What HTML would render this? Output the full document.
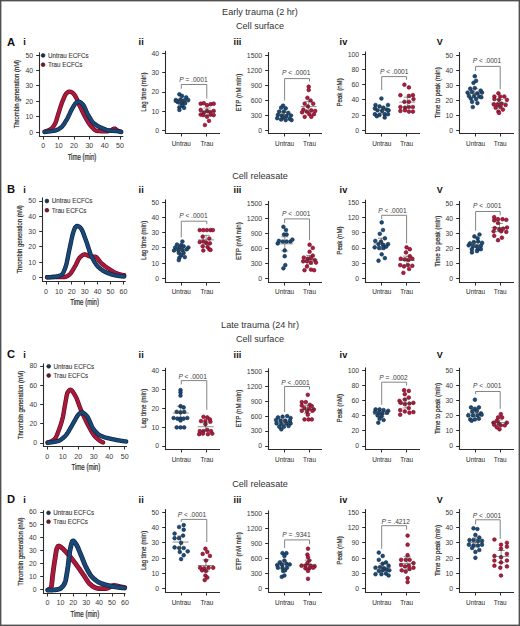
<!DOCTYPE html>
<html><head><meta charset="utf-8"><style>
html,body{margin:0;padding:0;background:#fff;}
body{width:520px;height:626px;overflow:hidden;}
svg{display:block;font-family:"Liberation Sans", sans-serif;}
</style></head><body>
<svg width="520" height="626" viewBox="0 0 520 626">
<rect x="0" y="0" width="520" height="626" fill="#fff"/>
<text transform="translate(260.00,15.10)" font-size="9.1" text-anchor="middle" font-weight="normal" fill="#333">Early trauma (2 hr)</text>
<text transform="translate(260.00,28.50)" font-size="9.1" text-anchor="middle" font-weight="normal" fill="#333">Cell surface</text>
<text transform="translate(260.00,179.20)" font-size="9.1" text-anchor="middle" font-weight="normal" fill="#333">Cell releasate</text>
<text transform="translate(260.00,328.30)" font-size="9.1" text-anchor="middle" font-weight="normal" fill="#333">Late trauma (24 hr)</text>
<text transform="translate(260.00,341.70)" font-size="9.1" text-anchor="middle" font-weight="normal" fill="#333">Cell surface</text>
<text transform="translate(260.00,487.00)" font-size="9.1" text-anchor="middle" font-weight="normal" fill="#333">Cell releasate</text>
<text transform="translate(7.00,45.60)" font-size="11.2" text-anchor="start" font-weight="bold" fill="#111">A</text>
<text transform="translate(23.20,44.60)" font-size="9.2" text-anchor="start" font-weight="bold" fill="#111">i</text>
<text transform="translate(138.60,44.60)" font-size="9.2" text-anchor="start" font-weight="bold" fill="#111">ii</text>
<text transform="translate(233.60,44.60)" font-size="9.2" text-anchor="start" font-weight="bold" fill="#111">iii</text>
<text transform="translate(339.60,44.60)" font-size="9.2" text-anchor="start" font-weight="bold" fill="#111">iv</text>
<text transform="translate(436.80,44.60)" font-size="9.0" text-anchor="start" font-weight="bold" fill="#111">V</text>
<text transform="translate(7.00,192.60)" font-size="11.2" text-anchor="start" font-weight="bold" fill="#111">B</text>
<text transform="translate(23.20,193.00)" font-size="9.2" text-anchor="start" font-weight="bold" fill="#111">i</text>
<text transform="translate(138.60,193.00)" font-size="9.2" text-anchor="start" font-weight="bold" fill="#111">ii</text>
<text transform="translate(233.60,193.00)" font-size="9.2" text-anchor="start" font-weight="bold" fill="#111">iii</text>
<text transform="translate(339.60,193.00)" font-size="9.2" text-anchor="start" font-weight="bold" fill="#111">iv</text>
<text transform="translate(436.80,193.00)" font-size="9.0" text-anchor="start" font-weight="bold" fill="#111">V</text>
<text transform="translate(7.00,358.20)" font-size="11.2" text-anchor="start" font-weight="bold" fill="#111">C</text>
<text transform="translate(23.20,357.80)" font-size="9.2" text-anchor="start" font-weight="bold" fill="#111">i</text>
<text transform="translate(138.60,357.80)" font-size="9.2" text-anchor="start" font-weight="bold" fill="#111">ii</text>
<text transform="translate(233.60,357.80)" font-size="9.2" text-anchor="start" font-weight="bold" fill="#111">iii</text>
<text transform="translate(339.60,357.80)" font-size="9.2" text-anchor="start" font-weight="bold" fill="#111">iv</text>
<text transform="translate(436.80,357.80)" font-size="9.0" text-anchor="start" font-weight="bold" fill="#111">V</text>
<text transform="translate(7.00,503.20)" font-size="11.2" text-anchor="start" font-weight="bold" fill="#111">D</text>
<text transform="translate(23.20,502.80)" font-size="9.2" text-anchor="start" font-weight="bold" fill="#111">i</text>
<text transform="translate(138.60,502.80)" font-size="9.2" text-anchor="start" font-weight="bold" fill="#111">ii</text>
<text transform="translate(233.60,502.80)" font-size="9.2" text-anchor="start" font-weight="bold" fill="#111">iii</text>
<text transform="translate(339.60,502.80)" font-size="9.2" text-anchor="start" font-weight="bold" fill="#111">iv</text>
<text transform="translate(436.80,502.80)" font-size="9.0" text-anchor="start" font-weight="bold" fill="#111">V</text>
<circle cx="43.10" cy="55.40" r="1.9" fill="#1c3550" stroke="#0c1a2a" stroke-width="0.6"/>
<text transform="translate(47.90,57.80) scale(0.86,1)" font-size="7.3" text-anchor="start" font-weight="normal" fill="#3a3a3a" stroke="#3a3a3a" stroke-width="0.12">Untrau ECFCs</text>
<circle cx="43.10" cy="64.70" r="1.9" fill="#6e1a2e" stroke="#3e0a16" stroke-width="0.6"/>
<text transform="translate(47.90,67.10) scale(0.86,1)" font-size="7.3" text-anchor="start" font-weight="normal" fill="#3a3a3a" stroke="#3a3a3a" stroke-width="0.12">Trau ECFCs</text>
<path d="M44.60,131.60 L44.92,131.53 L45.24,131.45 L45.56,131.37 L45.88,131.28 L46.19,131.17 L46.51,131.07 L46.83,130.95 L47.15,130.84 L47.47,130.71 L47.79,130.59 L48.11,130.46 L48.43,130.32 L48.74,130.18 L49.06,130.02 L49.38,129.86 L49.70,129.69 L50.02,129.50 L50.34,129.31 L50.66,129.10 L50.98,128.87 L51.30,128.62 L51.61,128.36 L51.93,128.06 L52.25,127.74 L52.57,127.38 L52.89,127.01 L53.21,126.60 L53.53,126.17 L53.85,125.70 L54.16,125.21 L54.48,124.70 L54.80,124.15 L55.12,123.57 L55.44,122.89 L55.76,122.09 L56.08,121.20 L56.40,120.24 L56.72,119.22 L57.03,118.16 L57.35,117.07 L57.67,115.98 L57.99,114.89 L58.31,113.84 L58.63,112.82 L58.95,111.86 L59.27,110.88 L59.58,109.89 L59.90,108.89 L60.22,107.89 L60.54,106.89 L60.86,105.91 L61.18,104.94 L61.50,104.00 L61.82,103.09 L62.14,102.22 L62.45,101.40 L62.77,100.63 L63.09,99.86 L63.41,99.10 L63.73,98.33 L64.05,97.58 L64.37,96.86 L64.69,96.16 L65.01,95.51 L65.32,94.91 L65.64,94.37 L65.96,93.90 L66.28,93.52 L66.60,93.21 L66.92,92.93 L67.24,92.66 L67.56,92.41 L67.87,92.18 L68.19,91.98 L68.51,91.81 L68.83,91.69 L69.15,91.62 L69.47,91.60 L69.79,91.62 L70.11,91.68 L70.43,91.76 L70.74,91.87 L71.06,91.99 L71.38,92.13 L71.70,92.29 L72.02,92.45 L72.34,92.62 L72.66,92.83 L72.98,93.10 L73.29,93.42 L73.61,93.79 L73.93,94.19 L74.25,94.62 L74.57,95.07 L74.89,95.54 L75.21,96.01 L75.53,96.52 L75.85,97.08 L76.16,97.69 L76.48,98.35 L76.80,99.04 L77.12,99.76 L77.44,100.51 L77.76,101.27 L78.08,102.04 L78.40,102.81 L78.71,103.58 L79.03,104.34 L79.35,105.08 L79.67,105.79 L79.99,106.48 L80.31,107.15 L80.63,107.82 L80.95,108.49 L81.27,109.16 L81.58,109.83 L81.90,110.50 L82.22,111.17 L82.54,111.83 L82.86,112.49 L83.18,113.14 L83.50,113.78 L83.82,114.41 L84.13,115.04 L84.45,115.65 L84.77,116.25 L85.09,116.84 L85.41,117.42 L85.73,117.98 L86.05,118.53 L86.37,119.08 L86.69,119.63 L87.00,120.18 L87.32,120.72 L87.64,121.26 L87.96,121.80 L88.28,122.32 L88.60,122.83 L88.92,123.33 L89.24,123.82 L89.55,124.29 L89.87,124.74 L90.19,125.17 L90.51,125.59 L90.83,125.97 L91.15,126.33 L91.47,126.67 L91.79,126.99 L92.11,127.31 L92.42,127.63 L92.74,127.96 L93.06,128.28 L93.38,128.59 L93.70,128.90 L94.02,129.19 L94.34,129.47 L94.66,129.74 L94.97,129.98 L95.29,130.21 L95.61,130.41 L95.93,130.59 L96.25,130.74 L96.57,130.86 L96.89,130.94 L97.21,130.99 L97.53,131.01 L97.84,131.03 L98.16,131.05 L98.48,131.07 L98.80,131.09 L99.12,131.11 L99.44,131.12 L99.76,131.14 L100.08,131.15 L100.39,131.17 L100.71,131.18 L101.03,131.19 L101.35,131.20 L101.67,131.21 L101.99,131.22 L102.31,131.23 L102.63,131.24 L102.95,131.25 L103.26,131.26 L103.58,131.27 L103.90,131.27 L104.22,131.28 L104.54,131.28 L104.86,131.29 L105.18,131.29 L105.50,131.29 L105.82,131.30 L106.13,131.30 L106.45,131.30 L106.77,131.30 L107.09,131.30 L107.41,131.27 L107.73,131.23 L108.05,131.17 L108.37,131.09 L108.68,131.00 L109.00,130.91 L109.32,130.80 L109.64,130.69 L109.96,130.57 L110.28,130.45 L110.60,130.34 L110.92,130.23 L111.24,130.11 L111.55,129.96 L111.87,129.79 L112.19,129.61 L112.51,129.42 L112.83,129.23 L113.15,129.05 L113.47,128.89 L113.79,128.76 L114.10,128.66 L114.42,128.61 L114.74,128.61 L115.06,128.70 L115.38,128.87 L115.70,129.10 L116.02,129.36 L116.34,129.64 L116.66,129.92 L116.97,130.18 L117.29,130.39 L117.61,130.55 L117.93,130.69 L118.25,130.82 L118.57,130.95 L118.89,131.07 L119.21,131.19 L119.52,131.29 L119.84,131.39 L120.16,131.47 L120.48,131.54 L120.80,131.60" fill="none" stroke="#6a0e24" stroke-width="4.4" stroke-linecap="round" stroke-linejoin="round"/>
<path d="M44.60,131.60 L44.92,131.53 L45.24,131.45 L45.56,131.37 L45.88,131.28 L46.19,131.17 L46.51,131.07 L46.83,130.95 L47.15,130.84 L47.47,130.71 L47.79,130.59 L48.11,130.46 L48.43,130.32 L48.74,130.18 L49.06,130.02 L49.38,129.86 L49.70,129.69 L50.02,129.50 L50.34,129.31 L50.66,129.10 L50.98,128.87 L51.30,128.62 L51.61,128.36 L51.93,128.06 L52.25,127.74 L52.57,127.38 L52.89,127.01 L53.21,126.60 L53.53,126.17 L53.85,125.70 L54.16,125.21 L54.48,124.70 L54.80,124.15 L55.12,123.57 L55.44,122.89 L55.76,122.09 L56.08,121.20 L56.40,120.24 L56.72,119.22 L57.03,118.16 L57.35,117.07 L57.67,115.98 L57.99,114.89 L58.31,113.84 L58.63,112.82 L58.95,111.86 L59.27,110.88 L59.58,109.89 L59.90,108.89 L60.22,107.89 L60.54,106.89 L60.86,105.91 L61.18,104.94 L61.50,104.00 L61.82,103.09 L62.14,102.22 L62.45,101.40 L62.77,100.63 L63.09,99.86 L63.41,99.10 L63.73,98.33 L64.05,97.58 L64.37,96.86 L64.69,96.16 L65.01,95.51 L65.32,94.91 L65.64,94.37 L65.96,93.90 L66.28,93.52 L66.60,93.21 L66.92,92.93 L67.24,92.66 L67.56,92.41 L67.87,92.18 L68.19,91.98 L68.51,91.81 L68.83,91.69 L69.15,91.62 L69.47,91.60 L69.79,91.62 L70.11,91.68 L70.43,91.76 L70.74,91.87 L71.06,91.99 L71.38,92.13 L71.70,92.29 L72.02,92.45 L72.34,92.62 L72.66,92.83 L72.98,93.10 L73.29,93.42 L73.61,93.79 L73.93,94.19 L74.25,94.62 L74.57,95.07 L74.89,95.54 L75.21,96.01 L75.53,96.52 L75.85,97.08 L76.16,97.69 L76.48,98.35 L76.80,99.04 L77.12,99.76 L77.44,100.51 L77.76,101.27 L78.08,102.04 L78.40,102.81 L78.71,103.58 L79.03,104.34 L79.35,105.08 L79.67,105.79 L79.99,106.48 L80.31,107.15 L80.63,107.82 L80.95,108.49 L81.27,109.16 L81.58,109.83 L81.90,110.50 L82.22,111.17 L82.54,111.83 L82.86,112.49 L83.18,113.14 L83.50,113.78 L83.82,114.41 L84.13,115.04 L84.45,115.65 L84.77,116.25 L85.09,116.84 L85.41,117.42 L85.73,117.98 L86.05,118.53 L86.37,119.08 L86.69,119.63 L87.00,120.18 L87.32,120.72 L87.64,121.26 L87.96,121.80 L88.28,122.32 L88.60,122.83 L88.92,123.33 L89.24,123.82 L89.55,124.29 L89.87,124.74 L90.19,125.17 L90.51,125.59 L90.83,125.97 L91.15,126.33 L91.47,126.67 L91.79,126.99 L92.11,127.31 L92.42,127.63 L92.74,127.96 L93.06,128.28 L93.38,128.59 L93.70,128.90 L94.02,129.19 L94.34,129.47 L94.66,129.74 L94.97,129.98 L95.29,130.21 L95.61,130.41 L95.93,130.59 L96.25,130.74 L96.57,130.86 L96.89,130.94 L97.21,130.99 L97.53,131.01 L97.84,131.03 L98.16,131.05 L98.48,131.07 L98.80,131.09 L99.12,131.11 L99.44,131.12 L99.76,131.14 L100.08,131.15 L100.39,131.17 L100.71,131.18 L101.03,131.19 L101.35,131.20 L101.67,131.21 L101.99,131.22 L102.31,131.23 L102.63,131.24 L102.95,131.25 L103.26,131.26 L103.58,131.27 L103.90,131.27 L104.22,131.28 L104.54,131.28 L104.86,131.29 L105.18,131.29 L105.50,131.29 L105.82,131.30 L106.13,131.30 L106.45,131.30 L106.77,131.30 L107.09,131.30 L107.41,131.27 L107.73,131.23 L108.05,131.17 L108.37,131.09 L108.68,131.00 L109.00,130.91 L109.32,130.80 L109.64,130.69 L109.96,130.57 L110.28,130.45 L110.60,130.34 L110.92,130.23 L111.24,130.11 L111.55,129.96 L111.87,129.79 L112.19,129.61 L112.51,129.42 L112.83,129.23 L113.15,129.05 L113.47,128.89 L113.79,128.76 L114.10,128.66 L114.42,128.61 L114.74,128.61 L115.06,128.70 L115.38,128.87 L115.70,129.10 L116.02,129.36 L116.34,129.64 L116.66,129.92 L116.97,130.18 L117.29,130.39 L117.61,130.55 L117.93,130.69 L118.25,130.82 L118.57,130.95 L118.89,131.07 L119.21,131.19 L119.52,131.29 L119.84,131.39 L120.16,131.47 L120.48,131.54 L120.80,131.60" fill="none" stroke="#b01b3e" stroke-width="3.0000000000000004" stroke-linecap="round" stroke-linejoin="round" opacity="0.9"/>
<path d="M44.60,132.00 L44.92,131.96 L45.24,131.92 L45.56,131.88 L45.88,131.84 L46.20,131.80 L46.53,131.76 L46.85,131.72 L47.17,131.67 L47.49,131.63 L47.81,131.59 L48.13,131.55 L48.45,131.51 L48.77,131.46 L49.09,131.42 L49.41,131.38 L49.73,131.34 L50.06,131.29 L50.38,131.25 L50.70,131.21 L51.02,131.17 L51.34,131.14 L51.66,131.10 L51.98,131.06 L52.30,131.02 L52.62,130.99 L52.94,130.94 L53.26,130.90 L53.59,130.85 L53.91,130.80 L54.23,130.75 L54.55,130.69 L54.87,130.63 L55.19,130.56 L55.51,130.47 L55.83,130.38 L56.15,130.28 L56.47,130.16 L56.79,130.03 L57.12,129.90 L57.44,129.75 L57.76,129.60 L58.08,129.43 L58.40,129.26 L58.72,129.07 L59.04,128.88 L59.36,128.68 L59.68,128.48 L60.00,128.26 L60.33,128.04 L60.65,127.81 L60.97,127.57 L61.29,127.30 L61.61,127.00 L61.93,126.67 L62.25,126.31 L62.57,125.93 L62.89,125.52 L63.21,125.09 L63.53,124.64 L63.86,124.17 L64.18,123.70 L64.50,123.20 L64.82,122.70 L65.14,122.19 L65.46,121.68 L65.78,121.16 L66.10,120.64 L66.42,120.12 L66.74,119.60 L67.06,119.04 L67.39,118.45 L67.71,117.83 L68.03,117.19 L68.35,116.54 L68.67,115.87 L68.99,115.18 L69.31,114.50 L69.63,113.81 L69.95,113.12 L70.27,112.43 L70.59,111.76 L70.92,111.10 L71.24,110.46 L71.56,109.83 L71.88,109.24 L72.20,108.67 L72.52,108.13 L72.84,107.57 L73.16,107.00 L73.48,106.44 L73.80,105.89 L74.12,105.35 L74.45,104.84 L74.77,104.36 L75.09,103.93 L75.41,103.55 L75.73,103.22 L76.05,102.96 L76.37,102.73 L76.69,102.50 L77.01,102.29 L77.33,102.09 L77.65,101.93 L77.98,101.81 L78.30,101.73 L78.62,101.70 L78.94,101.73 L79.26,101.80 L79.58,101.91 L79.90,102.06 L80.22,102.25 L80.54,102.46 L80.86,102.70 L81.18,102.96 L81.51,103.25 L81.83,103.54 L82.15,103.85 L82.47,104.17 L82.79,104.49 L83.11,104.83 L83.43,105.26 L83.75,105.76 L84.07,106.34 L84.39,106.97 L84.72,107.65 L85.04,108.36 L85.36,109.10 L85.68,109.85 L86.00,110.61 L86.32,111.35 L86.64,112.08 L86.96,112.77 L87.28,113.43 L87.60,114.03 L87.92,114.59 L88.25,115.15 L88.57,115.70 L88.89,116.26 L89.21,116.82 L89.53,117.37 L89.85,117.92 L90.17,118.45 L90.49,118.97 L90.81,119.48 L91.13,119.98 L91.45,120.45 L91.78,120.91 L92.10,121.34 L92.42,121.74 L92.74,122.12 L93.06,122.47 L93.38,122.79 L93.70,123.08 L94.02,123.36 L94.34,123.62 L94.66,123.88 L94.98,124.14 L95.31,124.38 L95.63,124.61 L95.95,124.84 L96.27,125.06 L96.59,125.27 L96.91,125.48 L97.23,125.68 L97.55,125.87 L97.87,126.06 L98.19,126.24 L98.51,126.41 L98.84,126.58 L99.16,126.75 L99.48,126.91 L99.80,127.06 L100.12,127.22 L100.44,127.36 L100.76,127.51 L101.08,127.65 L101.40,127.79 L101.72,127.93 L102.04,128.07 L102.37,128.21 L102.69,128.34 L103.01,128.48 L103.33,128.62 L103.65,128.76 L103.97,128.89 L104.29,129.03 L104.61,129.16 L104.93,129.29 L105.25,129.41 L105.57,129.53 L105.90,129.65 L106.22,129.77 L106.54,129.88 L106.86,129.98 L107.18,130.09 L107.50,130.18 L107.82,130.27 L108.14,130.36 L108.46,130.44 L108.78,130.51 L109.11,130.58 L109.43,130.64 L109.75,130.69 L110.07,130.73 L110.39,130.77 L110.71,130.79 L111.03,130.81 L111.35,130.83 L111.67,130.85 L111.99,130.86 L112.31,130.87 L112.64,130.88 L112.96,130.89 L113.28,130.90 L113.60,130.91 L113.92,130.91 L114.24,130.92 L114.56,130.93 L114.88,130.94 L115.20,130.96 L115.52,130.97 L115.84,130.99 L116.17,131.01 L116.49,131.04 L116.81,131.07 L117.13,131.11 L117.45,131.16 L117.77,131.21 L118.09,131.26 L118.41,131.32 L118.73,131.38 L119.05,131.45 L119.37,131.52 L119.70,131.60 L120.02,131.67 L120.34,131.75 L120.66,131.83 L120.98,131.92 L121.30,132.00" fill="none" stroke="#0b2642" stroke-width="4.4" stroke-linecap="round" stroke-linejoin="round"/>
<path d="M44.60,132.00 L44.92,131.96 L45.24,131.92 L45.56,131.88 L45.88,131.84 L46.20,131.80 L46.53,131.76 L46.85,131.72 L47.17,131.67 L47.49,131.63 L47.81,131.59 L48.13,131.55 L48.45,131.51 L48.77,131.46 L49.09,131.42 L49.41,131.38 L49.73,131.34 L50.06,131.29 L50.38,131.25 L50.70,131.21 L51.02,131.17 L51.34,131.14 L51.66,131.10 L51.98,131.06 L52.30,131.02 L52.62,130.99 L52.94,130.94 L53.26,130.90 L53.59,130.85 L53.91,130.80 L54.23,130.75 L54.55,130.69 L54.87,130.63 L55.19,130.56 L55.51,130.47 L55.83,130.38 L56.15,130.28 L56.47,130.16 L56.79,130.03 L57.12,129.90 L57.44,129.75 L57.76,129.60 L58.08,129.43 L58.40,129.26 L58.72,129.07 L59.04,128.88 L59.36,128.68 L59.68,128.48 L60.00,128.26 L60.33,128.04 L60.65,127.81 L60.97,127.57 L61.29,127.30 L61.61,127.00 L61.93,126.67 L62.25,126.31 L62.57,125.93 L62.89,125.52 L63.21,125.09 L63.53,124.64 L63.86,124.17 L64.18,123.70 L64.50,123.20 L64.82,122.70 L65.14,122.19 L65.46,121.68 L65.78,121.16 L66.10,120.64 L66.42,120.12 L66.74,119.60 L67.06,119.04 L67.39,118.45 L67.71,117.83 L68.03,117.19 L68.35,116.54 L68.67,115.87 L68.99,115.18 L69.31,114.50 L69.63,113.81 L69.95,113.12 L70.27,112.43 L70.59,111.76 L70.92,111.10 L71.24,110.46 L71.56,109.83 L71.88,109.24 L72.20,108.67 L72.52,108.13 L72.84,107.57 L73.16,107.00 L73.48,106.44 L73.80,105.89 L74.12,105.35 L74.45,104.84 L74.77,104.36 L75.09,103.93 L75.41,103.55 L75.73,103.22 L76.05,102.96 L76.37,102.73 L76.69,102.50 L77.01,102.29 L77.33,102.09 L77.65,101.93 L77.98,101.81 L78.30,101.73 L78.62,101.70 L78.94,101.73 L79.26,101.80 L79.58,101.91 L79.90,102.06 L80.22,102.25 L80.54,102.46 L80.86,102.70 L81.18,102.96 L81.51,103.25 L81.83,103.54 L82.15,103.85 L82.47,104.17 L82.79,104.49 L83.11,104.83 L83.43,105.26 L83.75,105.76 L84.07,106.34 L84.39,106.97 L84.72,107.65 L85.04,108.36 L85.36,109.10 L85.68,109.85 L86.00,110.61 L86.32,111.35 L86.64,112.08 L86.96,112.77 L87.28,113.43 L87.60,114.03 L87.92,114.59 L88.25,115.15 L88.57,115.70 L88.89,116.26 L89.21,116.82 L89.53,117.37 L89.85,117.92 L90.17,118.45 L90.49,118.97 L90.81,119.48 L91.13,119.98 L91.45,120.45 L91.78,120.91 L92.10,121.34 L92.42,121.74 L92.74,122.12 L93.06,122.47 L93.38,122.79 L93.70,123.08 L94.02,123.36 L94.34,123.62 L94.66,123.88 L94.98,124.14 L95.31,124.38 L95.63,124.61 L95.95,124.84 L96.27,125.06 L96.59,125.27 L96.91,125.48 L97.23,125.68 L97.55,125.87 L97.87,126.06 L98.19,126.24 L98.51,126.41 L98.84,126.58 L99.16,126.75 L99.48,126.91 L99.80,127.06 L100.12,127.22 L100.44,127.36 L100.76,127.51 L101.08,127.65 L101.40,127.79 L101.72,127.93 L102.04,128.07 L102.37,128.21 L102.69,128.34 L103.01,128.48 L103.33,128.62 L103.65,128.76 L103.97,128.89 L104.29,129.03 L104.61,129.16 L104.93,129.29 L105.25,129.41 L105.57,129.53 L105.90,129.65 L106.22,129.77 L106.54,129.88 L106.86,129.98 L107.18,130.09 L107.50,130.18 L107.82,130.27 L108.14,130.36 L108.46,130.44 L108.78,130.51 L109.11,130.58 L109.43,130.64 L109.75,130.69 L110.07,130.73 L110.39,130.77 L110.71,130.79 L111.03,130.81 L111.35,130.83 L111.67,130.85 L111.99,130.86 L112.31,130.87 L112.64,130.88 L112.96,130.89 L113.28,130.90 L113.60,130.91 L113.92,130.91 L114.24,130.92 L114.56,130.93 L114.88,130.94 L115.20,130.96 L115.52,130.97 L115.84,130.99 L116.17,131.01 L116.49,131.04 L116.81,131.07 L117.13,131.11 L117.45,131.16 L117.77,131.21 L118.09,131.26 L118.41,131.32 L118.73,131.38 L119.05,131.45 L119.37,131.52 L119.70,131.60 L120.02,131.67 L120.34,131.75 L120.66,131.83 L120.98,131.92 L121.30,132.00" fill="none" stroke="#1b4d7c" stroke-width="3.0000000000000004" stroke-linecap="round" stroke-linejoin="round" opacity="0.9"/>
<line x1="39.50" y1="52.30" x2="39.50" y2="137.00" stroke="#2b2b2b" stroke-width="1.1"/>
<line x1="39.00" y1="136.50" x2="123.30" y2="136.50" stroke="#2b2b2b" stroke-width="1.1"/>
<line x1="36.20" y1="132.50" x2="39.50" y2="132.50" stroke="#2b2b2b" stroke-width="1"/>
<text transform="translate(33.20,134.70)" font-size="6.9" text-anchor="end" font-weight="normal" fill="#3a3a3a">0</text>
<line x1="36.20" y1="116.50" x2="39.50" y2="116.50" stroke="#2b2b2b" stroke-width="1"/>
<text transform="translate(33.20,119.26)" font-size="6.9" text-anchor="end" font-weight="normal" fill="#3a3a3a">10</text>
<line x1="36.20" y1="101.50" x2="39.50" y2="101.50" stroke="#2b2b2b" stroke-width="1"/>
<text transform="translate(33.20,103.82)" font-size="6.9" text-anchor="end" font-weight="normal" fill="#3a3a3a">20</text>
<line x1="36.20" y1="85.50" x2="39.50" y2="85.50" stroke="#2b2b2b" stroke-width="1"/>
<text transform="translate(33.20,88.38)" font-size="6.9" text-anchor="end" font-weight="normal" fill="#3a3a3a">30</text>
<line x1="36.20" y1="70.50" x2="39.50" y2="70.50" stroke="#2b2b2b" stroke-width="1"/>
<text transform="translate(33.20,72.94)" font-size="6.9" text-anchor="end" font-weight="normal" fill="#3a3a3a">40</text>
<line x1="36.20" y1="55.50" x2="39.50" y2="55.50" stroke="#2b2b2b" stroke-width="1"/>
<text transform="translate(33.20,57.50)" font-size="6.9" text-anchor="end" font-weight="normal" fill="#3a3a3a">50</text>
<line x1="43.50" y1="136.50" x2="43.50" y2="139.50" stroke="#2b2b2b" stroke-width="1"/>
<text transform="translate(43.30,148.40)" font-size="7.1" text-anchor="middle" font-weight="normal" fill="#3a3a3a">0</text>
<line x1="58.50" y1="136.50" x2="58.50" y2="139.50" stroke="#2b2b2b" stroke-width="1"/>
<text transform="translate(58.65,148.40)" font-size="7.1" text-anchor="middle" font-weight="normal" fill="#3a3a3a">10</text>
<line x1="74.50" y1="136.50" x2="74.50" y2="139.50" stroke="#2b2b2b" stroke-width="1"/>
<text transform="translate(74.00,148.40)" font-size="7.1" text-anchor="middle" font-weight="normal" fill="#3a3a3a">20</text>
<line x1="89.50" y1="136.50" x2="89.50" y2="139.50" stroke="#2b2b2b" stroke-width="1"/>
<text transform="translate(89.35,148.40)" font-size="7.1" text-anchor="middle" font-weight="normal" fill="#3a3a3a">30</text>
<line x1="104.50" y1="136.50" x2="104.50" y2="139.50" stroke="#2b2b2b" stroke-width="1"/>
<text transform="translate(104.70,148.40)" font-size="7.1" text-anchor="middle" font-weight="normal" fill="#3a3a3a">40</text>
<line x1="120.50" y1="136.50" x2="120.50" y2="139.50" stroke="#2b2b2b" stroke-width="1"/>
<text transform="translate(120.05,148.40)" font-size="7.1" text-anchor="middle" font-weight="normal" fill="#3a3a3a">50</text>
<text transform="translate(82.00,159.90) scale(0.74,1)" font-size="8.2" text-anchor="middle" font-weight="normal" fill="#2a2a2a" stroke="#2a2a2a" stroke-width="0.22">Time (min)</text>
<text transform="translate(19.20,94.15) rotate(-90) scale(0.75,1)" font-size="7.9" text-anchor="middle" font-weight="normal" fill="#2e2e2e" stroke="#2e2e2e" stroke-width="0.2">Thrombin generation (nM)</text>
<circle cx="46.90" cy="201.00" r="1.9" fill="#1c3550" stroke="#0c1a2a" stroke-width="0.6"/>
<text transform="translate(51.70,203.40) scale(0.86,1)" font-size="7.3" text-anchor="start" font-weight="normal" fill="#3a3a3a" stroke="#3a3a3a" stroke-width="0.12">Untrau ECFCs</text>
<circle cx="46.90" cy="210.20" r="1.9" fill="#6e1a2e" stroke="#3e0a16" stroke-width="0.6"/>
<text transform="translate(51.70,212.60) scale(0.86,1)" font-size="7.3" text-anchor="start" font-weight="normal" fill="#3a3a3a" stroke="#3a3a3a" stroke-width="0.12">Trau ECFCs</text>
<path d="M47.00,277.20 L47.32,277.19 L47.65,277.18 L47.97,277.17 L48.29,277.16 L48.62,277.15 L48.94,277.14 L49.26,277.13 L49.58,277.12 L49.91,277.11 L50.23,277.10 L50.55,277.09 L50.88,277.08 L51.20,277.07 L51.52,277.06 L51.85,277.05 L52.17,277.05 L52.49,277.04 L52.81,277.03 L53.14,277.03 L53.46,277.02 L53.78,277.02 L54.11,277.01 L54.43,277.01 L54.75,277.01 L55.08,277.00 L55.40,277.00 L55.72,277.00 L56.04,277.00 L56.37,277.00 L56.69,277.00 L57.01,277.00 L57.34,277.00 L57.66,277.00 L57.98,277.00 L58.31,277.00 L58.63,277.00 L58.95,277.00 L59.27,277.00 L59.60,277.00 L59.92,277.00 L60.24,277.00 L60.57,277.00 L60.89,277.00 L61.21,277.00 L61.54,277.00 L61.86,277.00 L62.18,277.00 L62.50,277.00 L62.83,277.00 L63.15,277.00 L63.47,277.00 L63.80,277.00 L64.12,277.00 L64.44,277.00 L64.77,277.00 L65.09,276.96 L65.41,276.90 L65.73,276.81 L66.06,276.70 L66.38,276.56 L66.70,276.40 L67.03,276.23 L67.35,276.03 L67.67,275.83 L68.00,275.61 L68.32,275.39 L68.64,275.16 L68.96,274.92 L69.29,274.68 L69.61,274.43 L69.93,274.14 L70.26,273.81 L70.58,273.44 L70.90,273.03 L71.23,272.59 L71.55,272.13 L71.87,271.63 L72.19,271.12 L72.52,270.59 L72.84,270.05 L73.16,269.50 L73.49,268.94 L73.81,268.37 L74.13,267.81 L74.46,267.25 L74.78,266.70 L75.10,266.16 L75.43,265.62 L75.75,265.03 L76.07,264.41 L76.39,263.75 L76.72,263.08 L77.04,262.39 L77.36,261.71 L77.69,261.03 L78.01,260.38 L78.33,259.75 L78.66,259.15 L78.98,258.61 L79.30,258.12 L79.62,257.70 L79.95,257.35 L80.27,257.06 L80.59,256.77 L80.92,256.48 L81.24,256.20 L81.56,255.93 L81.89,255.68 L82.21,255.44 L82.53,255.22 L82.85,255.02 L83.18,254.84 L83.50,254.69 L83.82,254.57 L84.15,254.48 L84.47,254.42 L84.79,254.40 L85.12,254.42 L85.44,254.48 L85.76,254.58 L86.08,254.70 L86.41,254.84 L86.73,255.01 L87.05,255.18 L87.38,255.36 L87.70,255.54 L88.02,255.72 L88.35,255.88 L88.67,256.03 L88.99,256.15 L89.31,256.24 L89.64,256.31 L89.96,256.35 L90.28,256.38 L90.61,256.42 L90.93,256.44 L91.25,256.47 L91.58,256.49 L91.90,256.51 L92.22,256.52 L92.54,256.54 L92.87,256.56 L93.19,256.58 L93.51,256.60 L93.84,256.62 L94.16,256.65 L94.48,256.68 L94.81,256.72 L95.13,256.76 L95.45,256.81 L95.77,256.91 L96.10,257.07 L96.42,257.30 L96.74,257.57 L97.07,257.89 L97.39,258.25 L97.71,258.64 L98.04,259.06 L98.36,259.50 L98.68,259.95 L99.01,260.40 L99.33,260.85 L99.65,261.30 L99.97,261.73 L100.30,262.13 L100.62,262.51 L100.94,262.86 L101.27,263.16 L101.59,263.44 L101.91,263.72 L102.24,264.00 L102.56,264.27 L102.88,264.54 L103.20,264.80 L103.53,265.06 L103.85,265.31 L104.17,265.56 L104.50,265.81 L104.82,266.05 L105.14,266.29 L105.47,266.52 L105.79,266.76 L106.11,266.99 L106.43,267.21 L106.76,267.44 L107.08,267.66 L107.40,267.88 L107.73,268.09 L108.05,268.31 L108.37,268.52 L108.70,268.73 L109.02,268.94 L109.34,269.15 L109.66,269.36 L109.99,269.58 L110.31,269.79 L110.63,270.00 L110.96,270.21 L111.28,270.41 L111.60,270.62 L111.93,270.82 L112.25,271.02 L112.57,271.22 L112.89,271.42 L113.22,271.60 L113.54,271.79 L113.86,271.97 L114.19,272.14 L114.51,272.31 L114.83,272.48 L115.16,272.63 L115.48,272.78 L115.80,272.92 L116.12,273.06 L116.45,273.18 L116.77,273.30 L117.09,273.42 L117.42,273.53 L117.74,273.65 L118.06,273.76 L118.39,273.87 L118.71,273.98 L119.03,274.08 L119.35,274.19 L119.68,274.29 L120.00,274.38 L120.32,274.48 L120.65,274.57 L120.97,274.66 L121.29,274.74 L121.62,274.82 L121.94,274.90 L122.26,274.97 L122.58,275.04 L122.91,275.10 L123.23,275.16 L123.55,275.21 L123.88,275.26 L124.20,275.30" fill="none" stroke="#6a0e24" stroke-width="4.4" stroke-linecap="round" stroke-linejoin="round"/>
<path d="M47.00,277.20 L47.32,277.19 L47.65,277.18 L47.97,277.17 L48.29,277.16 L48.62,277.15 L48.94,277.14 L49.26,277.13 L49.58,277.12 L49.91,277.11 L50.23,277.10 L50.55,277.09 L50.88,277.08 L51.20,277.07 L51.52,277.06 L51.85,277.05 L52.17,277.05 L52.49,277.04 L52.81,277.03 L53.14,277.03 L53.46,277.02 L53.78,277.02 L54.11,277.01 L54.43,277.01 L54.75,277.01 L55.08,277.00 L55.40,277.00 L55.72,277.00 L56.04,277.00 L56.37,277.00 L56.69,277.00 L57.01,277.00 L57.34,277.00 L57.66,277.00 L57.98,277.00 L58.31,277.00 L58.63,277.00 L58.95,277.00 L59.27,277.00 L59.60,277.00 L59.92,277.00 L60.24,277.00 L60.57,277.00 L60.89,277.00 L61.21,277.00 L61.54,277.00 L61.86,277.00 L62.18,277.00 L62.50,277.00 L62.83,277.00 L63.15,277.00 L63.47,277.00 L63.80,277.00 L64.12,277.00 L64.44,277.00 L64.77,277.00 L65.09,276.96 L65.41,276.90 L65.73,276.81 L66.06,276.70 L66.38,276.56 L66.70,276.40 L67.03,276.23 L67.35,276.03 L67.67,275.83 L68.00,275.61 L68.32,275.39 L68.64,275.16 L68.96,274.92 L69.29,274.68 L69.61,274.43 L69.93,274.14 L70.26,273.81 L70.58,273.44 L70.90,273.03 L71.23,272.59 L71.55,272.13 L71.87,271.63 L72.19,271.12 L72.52,270.59 L72.84,270.05 L73.16,269.50 L73.49,268.94 L73.81,268.37 L74.13,267.81 L74.46,267.25 L74.78,266.70 L75.10,266.16 L75.43,265.62 L75.75,265.03 L76.07,264.41 L76.39,263.75 L76.72,263.08 L77.04,262.39 L77.36,261.71 L77.69,261.03 L78.01,260.38 L78.33,259.75 L78.66,259.15 L78.98,258.61 L79.30,258.12 L79.62,257.70 L79.95,257.35 L80.27,257.06 L80.59,256.77 L80.92,256.48 L81.24,256.20 L81.56,255.93 L81.89,255.68 L82.21,255.44 L82.53,255.22 L82.85,255.02 L83.18,254.84 L83.50,254.69 L83.82,254.57 L84.15,254.48 L84.47,254.42 L84.79,254.40 L85.12,254.42 L85.44,254.48 L85.76,254.58 L86.08,254.70 L86.41,254.84 L86.73,255.01 L87.05,255.18 L87.38,255.36 L87.70,255.54 L88.02,255.72 L88.35,255.88 L88.67,256.03 L88.99,256.15 L89.31,256.24 L89.64,256.31 L89.96,256.35 L90.28,256.38 L90.61,256.42 L90.93,256.44 L91.25,256.47 L91.58,256.49 L91.90,256.51 L92.22,256.52 L92.54,256.54 L92.87,256.56 L93.19,256.58 L93.51,256.60 L93.84,256.62 L94.16,256.65 L94.48,256.68 L94.81,256.72 L95.13,256.76 L95.45,256.81 L95.77,256.91 L96.10,257.07 L96.42,257.30 L96.74,257.57 L97.07,257.89 L97.39,258.25 L97.71,258.64 L98.04,259.06 L98.36,259.50 L98.68,259.95 L99.01,260.40 L99.33,260.85 L99.65,261.30 L99.97,261.73 L100.30,262.13 L100.62,262.51 L100.94,262.86 L101.27,263.16 L101.59,263.44 L101.91,263.72 L102.24,264.00 L102.56,264.27 L102.88,264.54 L103.20,264.80 L103.53,265.06 L103.85,265.31 L104.17,265.56 L104.50,265.81 L104.82,266.05 L105.14,266.29 L105.47,266.52 L105.79,266.76 L106.11,266.99 L106.43,267.21 L106.76,267.44 L107.08,267.66 L107.40,267.88 L107.73,268.09 L108.05,268.31 L108.37,268.52 L108.70,268.73 L109.02,268.94 L109.34,269.15 L109.66,269.36 L109.99,269.58 L110.31,269.79 L110.63,270.00 L110.96,270.21 L111.28,270.41 L111.60,270.62 L111.93,270.82 L112.25,271.02 L112.57,271.22 L112.89,271.42 L113.22,271.60 L113.54,271.79 L113.86,271.97 L114.19,272.14 L114.51,272.31 L114.83,272.48 L115.16,272.63 L115.48,272.78 L115.80,272.92 L116.12,273.06 L116.45,273.18 L116.77,273.30 L117.09,273.42 L117.42,273.53 L117.74,273.65 L118.06,273.76 L118.39,273.87 L118.71,273.98 L119.03,274.08 L119.35,274.19 L119.68,274.29 L120.00,274.38 L120.32,274.48 L120.65,274.57 L120.97,274.66 L121.29,274.74 L121.62,274.82 L121.94,274.90 L122.26,274.97 L122.58,275.04 L122.91,275.10 L123.23,275.16 L123.55,275.21 L123.88,275.26 L124.20,275.30" fill="none" stroke="#b01b3e" stroke-width="3.0000000000000004" stroke-linecap="round" stroke-linejoin="round" opacity="0.9"/>
<path d="M47.30,277.30 L47.62,277.30 L47.94,277.30 L48.27,277.29 L48.59,277.28 L48.91,277.27 L49.23,277.26 L49.55,277.25 L49.87,277.23 L50.20,277.22 L50.52,277.20 L50.84,277.18 L51.16,277.15 L51.48,277.13 L51.80,277.10 L52.13,277.08 L52.45,277.05 L52.77,277.02 L53.09,276.98 L53.41,276.95 L53.74,276.91 L54.06,276.88 L54.38,276.84 L54.70,276.80 L55.02,276.76 L55.34,276.72 L55.67,276.68 L55.99,276.63 L56.31,276.59 L56.63,276.54 L56.95,276.49 L57.27,276.44 L57.60,276.37 L57.92,276.30 L58.24,276.22 L58.56,276.12 L58.88,276.02 L59.21,275.90 L59.53,275.78 L59.85,275.64 L60.17,275.49 L60.49,275.32 L60.81,275.15 L61.14,274.96 L61.46,274.76 L61.78,274.54 L62.10,274.26 L62.42,273.88 L62.74,273.43 L63.07,272.90 L63.39,272.30 L63.71,271.64 L64.03,270.93 L64.35,270.17 L64.67,269.37 L65.00,268.53 L65.32,267.67 L65.64,266.79 L65.96,265.78 L66.28,264.61 L66.61,263.29 L66.93,261.85 L67.25,260.32 L67.57,258.72 L67.89,257.08 L68.21,255.42 L68.54,253.78 L68.86,252.16 L69.18,250.61 L69.50,249.14 L69.82,247.65 L70.14,246.11 L70.47,244.54 L70.79,242.96 L71.11,241.40 L71.43,239.85 L71.75,238.35 L72.08,236.91 L72.40,235.55 L72.72,234.29 L73.04,233.13 L73.36,232.11 L73.68,231.13 L74.01,230.17 L74.33,229.27 L74.65,228.46 L74.97,227.77 L75.29,227.24 L75.61,226.89 L75.94,226.60 L76.26,226.34 L76.58,226.14 L76.90,226.02 L77.22,226.00 L77.55,226.05 L77.87,226.13 L78.19,226.24 L78.51,226.37 L78.83,226.52 L79.15,226.68 L79.48,226.89 L79.80,227.16 L80.12,227.47 L80.44,227.82 L80.76,228.20 L81.08,228.61 L81.41,229.09 L81.73,229.64 L82.05,230.27 L82.37,230.95 L82.69,231.69 L83.02,232.47 L83.34,233.30 L83.66,234.15 L83.98,235.02 L84.30,235.91 L84.62,236.80 L84.95,237.70 L85.27,238.58 L85.59,239.45 L85.91,240.29 L86.23,241.17 L86.55,242.08 L86.88,243.03 L87.20,244.00 L87.52,245.00 L87.84,246.01 L88.16,247.02 L88.48,248.03 L88.81,249.04 L89.13,250.04 L89.45,251.01 L89.77,251.96 L90.09,252.87 L90.42,253.74 L90.74,254.57 L91.06,255.34 L91.38,256.05 L91.70,256.71 L92.02,257.35 L92.35,257.98 L92.67,258.60 L92.99,259.21 L93.31,259.80 L93.63,260.38 L93.95,260.95 L94.28,261.50 L94.60,262.03 L94.92,262.55 L95.24,263.05 L95.56,263.54 L95.89,264.00 L96.21,264.45 L96.53,264.89 L96.85,265.30 L97.17,265.69 L97.49,266.06 L97.82,266.41 L98.14,266.74 L98.46,267.05 L98.78,267.35 L99.10,267.64 L99.42,267.93 L99.75,268.21 L100.07,268.48 L100.39,268.74 L100.71,269.00 L101.03,269.25 L101.36,269.50 L101.68,269.73 L102.00,269.96 L102.32,270.19 L102.64,270.40 L102.96,270.62 L103.29,270.82 L103.61,271.02 L103.93,271.21 L104.25,271.40 L104.57,271.57 L104.89,271.75 L105.22,271.92 L105.54,272.08 L105.86,272.23 L106.18,272.38 L106.50,272.53 L106.83,272.67 L107.15,272.80 L107.47,272.94 L107.79,273.07 L108.11,273.19 L108.43,273.32 L108.76,273.44 L109.08,273.56 L109.40,273.68 L109.72,273.80 L110.04,273.91 L110.36,274.02 L110.69,274.13 L111.01,274.24 L111.33,274.34 L111.65,274.44 L111.97,274.54 L112.29,274.63 L112.62,274.72 L112.94,274.81 L113.26,274.90 L113.58,274.98 L113.90,275.06 L114.23,275.14 L114.55,275.22 L114.87,275.29 L115.19,275.36 L115.51,275.42 L115.83,275.48 L116.16,275.54 L116.48,275.60 L116.80,275.65 L117.12,275.70 L117.44,275.75 L117.76,275.81 L118.09,275.86 L118.41,275.91 L118.73,275.95 L119.05,276.00 L119.37,276.05 L119.70,276.09 L120.02,276.13 L120.34,276.18 L120.66,276.21 L120.98,276.25 L121.30,276.29 L121.63,276.32 L121.95,276.35 L122.27,276.38 L122.59,276.41 L122.91,276.43 L123.23,276.45 L123.56,276.47 L123.88,276.49 L124.20,276.50" fill="none" stroke="#0b2642" stroke-width="4.4" stroke-linecap="round" stroke-linejoin="round"/>
<path d="M47.30,277.30 L47.62,277.30 L47.94,277.30 L48.27,277.29 L48.59,277.28 L48.91,277.27 L49.23,277.26 L49.55,277.25 L49.87,277.23 L50.20,277.22 L50.52,277.20 L50.84,277.18 L51.16,277.15 L51.48,277.13 L51.80,277.10 L52.13,277.08 L52.45,277.05 L52.77,277.02 L53.09,276.98 L53.41,276.95 L53.74,276.91 L54.06,276.88 L54.38,276.84 L54.70,276.80 L55.02,276.76 L55.34,276.72 L55.67,276.68 L55.99,276.63 L56.31,276.59 L56.63,276.54 L56.95,276.49 L57.27,276.44 L57.60,276.37 L57.92,276.30 L58.24,276.22 L58.56,276.12 L58.88,276.02 L59.21,275.90 L59.53,275.78 L59.85,275.64 L60.17,275.49 L60.49,275.32 L60.81,275.15 L61.14,274.96 L61.46,274.76 L61.78,274.54 L62.10,274.26 L62.42,273.88 L62.74,273.43 L63.07,272.90 L63.39,272.30 L63.71,271.64 L64.03,270.93 L64.35,270.17 L64.67,269.37 L65.00,268.53 L65.32,267.67 L65.64,266.79 L65.96,265.78 L66.28,264.61 L66.61,263.29 L66.93,261.85 L67.25,260.32 L67.57,258.72 L67.89,257.08 L68.21,255.42 L68.54,253.78 L68.86,252.16 L69.18,250.61 L69.50,249.14 L69.82,247.65 L70.14,246.11 L70.47,244.54 L70.79,242.96 L71.11,241.40 L71.43,239.85 L71.75,238.35 L72.08,236.91 L72.40,235.55 L72.72,234.29 L73.04,233.13 L73.36,232.11 L73.68,231.13 L74.01,230.17 L74.33,229.27 L74.65,228.46 L74.97,227.77 L75.29,227.24 L75.61,226.89 L75.94,226.60 L76.26,226.34 L76.58,226.14 L76.90,226.02 L77.22,226.00 L77.55,226.05 L77.87,226.13 L78.19,226.24 L78.51,226.37 L78.83,226.52 L79.15,226.68 L79.48,226.89 L79.80,227.16 L80.12,227.47 L80.44,227.82 L80.76,228.20 L81.08,228.61 L81.41,229.09 L81.73,229.64 L82.05,230.27 L82.37,230.95 L82.69,231.69 L83.02,232.47 L83.34,233.30 L83.66,234.15 L83.98,235.02 L84.30,235.91 L84.62,236.80 L84.95,237.70 L85.27,238.58 L85.59,239.45 L85.91,240.29 L86.23,241.17 L86.55,242.08 L86.88,243.03 L87.20,244.00 L87.52,245.00 L87.84,246.01 L88.16,247.02 L88.48,248.03 L88.81,249.04 L89.13,250.04 L89.45,251.01 L89.77,251.96 L90.09,252.87 L90.42,253.74 L90.74,254.57 L91.06,255.34 L91.38,256.05 L91.70,256.71 L92.02,257.35 L92.35,257.98 L92.67,258.60 L92.99,259.21 L93.31,259.80 L93.63,260.38 L93.95,260.95 L94.28,261.50 L94.60,262.03 L94.92,262.55 L95.24,263.05 L95.56,263.54 L95.89,264.00 L96.21,264.45 L96.53,264.89 L96.85,265.30 L97.17,265.69 L97.49,266.06 L97.82,266.41 L98.14,266.74 L98.46,267.05 L98.78,267.35 L99.10,267.64 L99.42,267.93 L99.75,268.21 L100.07,268.48 L100.39,268.74 L100.71,269.00 L101.03,269.25 L101.36,269.50 L101.68,269.73 L102.00,269.96 L102.32,270.19 L102.64,270.40 L102.96,270.62 L103.29,270.82 L103.61,271.02 L103.93,271.21 L104.25,271.40 L104.57,271.57 L104.89,271.75 L105.22,271.92 L105.54,272.08 L105.86,272.23 L106.18,272.38 L106.50,272.53 L106.83,272.67 L107.15,272.80 L107.47,272.94 L107.79,273.07 L108.11,273.19 L108.43,273.32 L108.76,273.44 L109.08,273.56 L109.40,273.68 L109.72,273.80 L110.04,273.91 L110.36,274.02 L110.69,274.13 L111.01,274.24 L111.33,274.34 L111.65,274.44 L111.97,274.54 L112.29,274.63 L112.62,274.72 L112.94,274.81 L113.26,274.90 L113.58,274.98 L113.90,275.06 L114.23,275.14 L114.55,275.22 L114.87,275.29 L115.19,275.36 L115.51,275.42 L115.83,275.48 L116.16,275.54 L116.48,275.60 L116.80,275.65 L117.12,275.70 L117.44,275.75 L117.76,275.81 L118.09,275.86 L118.41,275.91 L118.73,275.95 L119.05,276.00 L119.37,276.05 L119.70,276.09 L120.02,276.13 L120.34,276.18 L120.66,276.21 L120.98,276.25 L121.30,276.29 L121.63,276.32 L121.95,276.35 L122.27,276.38 L122.59,276.41 L122.91,276.43 L123.23,276.45 L123.56,276.47 L123.88,276.49 L124.20,276.50" fill="none" stroke="#1b4d7c" stroke-width="3.0000000000000004" stroke-linecap="round" stroke-linejoin="round" opacity="0.9"/>
<line x1="42.50" y1="197.50" x2="42.50" y2="282.00" stroke="#2b2b2b" stroke-width="1.1"/>
<line x1="42.00" y1="281.50" x2="125.70" y2="281.50" stroke="#2b2b2b" stroke-width="1.1"/>
<line x1="39.20" y1="277.50" x2="42.50" y2="277.50" stroke="#2b2b2b" stroke-width="1"/>
<text transform="translate(36.00,279.90)" font-size="6.9" text-anchor="end" font-weight="normal" fill="#3a3a3a">0</text>
<line x1="39.20" y1="262.50" x2="42.50" y2="262.50" stroke="#2b2b2b" stroke-width="1"/>
<text transform="translate(36.00,264.60)" font-size="6.9" text-anchor="end" font-weight="normal" fill="#3a3a3a">10</text>
<line x1="39.20" y1="246.50" x2="42.50" y2="246.50" stroke="#2b2b2b" stroke-width="1"/>
<text transform="translate(36.00,249.30)" font-size="6.9" text-anchor="end" font-weight="normal" fill="#3a3a3a">20</text>
<line x1="39.20" y1="231.50" x2="42.50" y2="231.50" stroke="#2b2b2b" stroke-width="1"/>
<text transform="translate(36.00,234.00)" font-size="6.9" text-anchor="end" font-weight="normal" fill="#3a3a3a">30</text>
<line x1="39.20" y1="216.50" x2="42.50" y2="216.50" stroke="#2b2b2b" stroke-width="1"/>
<text transform="translate(36.00,218.70)" font-size="6.9" text-anchor="end" font-weight="normal" fill="#3a3a3a">40</text>
<line x1="39.20" y1="201.50" x2="42.50" y2="201.50" stroke="#2b2b2b" stroke-width="1"/>
<text transform="translate(36.00,203.40)" font-size="6.9" text-anchor="end" font-weight="normal" fill="#3a3a3a">50</text>
<line x1="46.50" y1="281.50" x2="46.50" y2="284.50" stroke="#2b2b2b" stroke-width="1"/>
<text transform="translate(46.00,293.70)" font-size="7.1" text-anchor="middle" font-weight="normal" fill="#3a3a3a">0</text>
<line x1="58.50" y1="281.50" x2="58.50" y2="284.50" stroke="#2b2b2b" stroke-width="1"/>
<text transform="translate(58.90,293.70)" font-size="7.1" text-anchor="middle" font-weight="normal" fill="#3a3a3a">10</text>
<line x1="71.50" y1="281.50" x2="71.50" y2="284.50" stroke="#2b2b2b" stroke-width="1"/>
<text transform="translate(71.80,293.70)" font-size="7.1" text-anchor="middle" font-weight="normal" fill="#3a3a3a">20</text>
<line x1="84.50" y1="281.50" x2="84.50" y2="284.50" stroke="#2b2b2b" stroke-width="1"/>
<text transform="translate(84.70,293.70)" font-size="7.1" text-anchor="middle" font-weight="normal" fill="#3a3a3a">30</text>
<line x1="97.50" y1="281.50" x2="97.50" y2="284.50" stroke="#2b2b2b" stroke-width="1"/>
<text transform="translate(97.60,293.70)" font-size="7.1" text-anchor="middle" font-weight="normal" fill="#3a3a3a">40</text>
<line x1="110.50" y1="281.50" x2="110.50" y2="284.50" stroke="#2b2b2b" stroke-width="1"/>
<text transform="translate(110.50,293.70)" font-size="7.1" text-anchor="middle" font-weight="normal" fill="#3a3a3a">50</text>
<line x1="123.50" y1="281.50" x2="123.50" y2="284.50" stroke="#2b2b2b" stroke-width="1"/>
<text transform="translate(123.40,293.70)" font-size="7.1" text-anchor="middle" font-weight="normal" fill="#3a3a3a">60</text>
<text transform="translate(84.60,305.20) scale(0.74,1)" font-size="8.2" text-anchor="middle" font-weight="normal" fill="#2a2a2a" stroke="#2a2a2a" stroke-width="0.22">Time (min)</text>
<text transform="translate(22.00,239.40) rotate(-90) scale(0.75,1)" font-size="7.9" text-anchor="middle" font-weight="normal" fill="#2e2e2e" stroke="#2e2e2e" stroke-width="0.2">Thrombin generation (nM)</text>
<circle cx="48.70" cy="366.30" r="1.9" fill="#1c3550" stroke="#0c1a2a" stroke-width="0.6"/>
<text transform="translate(53.50,368.70) scale(0.86,1)" font-size="7.3" text-anchor="start" font-weight="normal" fill="#3a3a3a" stroke="#3a3a3a" stroke-width="0.12">Untrau ECFCs</text>
<circle cx="48.70" cy="375.50" r="1.9" fill="#6e1a2e" stroke="#3e0a16" stroke-width="0.6"/>
<text transform="translate(53.50,377.90) scale(0.86,1)" font-size="7.3" text-anchor="start" font-weight="normal" fill="#3a3a3a" stroke="#3a3a3a" stroke-width="0.12">Trau ECFCs</text>
<path d="M47.60,442.50 L47.83,442.47 L48.06,442.44 L48.30,442.40 L48.53,442.35 L48.76,442.29 L48.99,442.23 L49.23,442.16 L49.46,442.08 L49.69,442.01 L49.92,441.92 L50.15,441.84 L50.39,441.75 L50.62,441.66 L50.85,441.56 L51.08,441.47 L51.32,441.36 L51.55,441.25 L51.78,441.14 L52.01,441.01 L52.24,440.88 L52.48,440.74 L52.71,440.59 L52.94,440.43 L53.17,440.27 L53.41,440.09 L53.64,439.90 L53.87,439.71 L54.10,439.50 L54.33,439.28 L54.57,439.06 L54.80,438.82 L55.03,438.57 L55.26,438.28 L55.50,437.94 L55.73,437.56 L55.96,437.13 L56.19,436.67 L56.42,436.18 L56.66,435.66 L56.89,435.11 L57.12,434.55 L57.35,433.96 L57.59,433.37 L57.82,432.77 L58.05,432.17 L58.28,431.56 L58.51,430.96 L58.75,430.36 L58.98,429.76 L59.21,429.14 L59.44,428.51 L59.68,427.87 L59.91,427.22 L60.14,426.55 L60.37,425.86 L60.60,425.16 L60.84,424.43 L61.07,423.68 L61.30,422.91 L61.53,422.12 L61.77,421.30 L62.00,420.45 L62.23,419.57 L62.46,418.66 L62.69,417.72 L62.93,416.71 L63.16,415.57 L63.39,414.34 L63.62,413.03 L63.86,411.66 L64.09,410.25 L64.32,408.83 L64.55,407.40 L64.78,406.00 L65.02,404.63 L65.25,403.33 L65.48,402.10 L65.71,400.88 L65.95,399.59 L66.18,398.28 L66.41,397.00 L66.64,395.78 L66.87,394.69 L67.11,393.76 L67.34,393.05 L67.57,392.58 L67.80,392.20 L68.04,391.83 L68.27,391.49 L68.50,391.17 L68.73,390.88 L68.96,390.61 L69.20,390.38 L69.43,390.19 L69.66,390.03 L69.89,389.91 L70.13,389.83 L70.36,389.80 L70.59,389.81 L70.82,389.87 L71.05,389.97 L71.29,390.11 L71.52,390.28 L71.75,390.48 L71.98,390.71 L72.22,390.97 L72.45,391.26 L72.68,391.57 L72.91,391.89 L73.14,392.24 L73.38,392.60 L73.61,392.97 L73.84,393.34 L74.07,393.73 L74.31,394.12 L74.54,394.51 L74.77,394.89 L75.00,395.28 L75.23,395.65 L75.47,396.05 L75.70,396.48 L75.93,396.94 L76.16,397.43 L76.39,397.94 L76.63,398.48 L76.86,399.04 L77.09,399.62 L77.32,400.21 L77.56,400.82 L77.79,401.44 L78.02,402.07 L78.25,402.71 L78.48,403.36 L78.72,404.00 L78.95,404.65 L79.18,405.29 L79.41,405.93 L79.65,406.57 L79.88,407.19 L80.11,407.80 L80.34,408.40 L80.57,408.98 L80.81,409.55 L81.04,410.09 L81.27,410.63 L81.50,411.16 L81.74,411.70 L81.97,412.23 L82.20,412.76 L82.43,413.29 L82.66,413.82 L82.90,414.35 L83.13,414.87 L83.36,415.39 L83.59,415.91 L83.83,416.43 L84.06,416.94 L84.29,417.45 L84.52,417.95 L84.75,418.46 L84.99,418.95 L85.22,419.45 L85.45,419.94 L85.68,420.42 L85.92,420.90 L86.15,421.38 L86.38,421.85 L86.61,422.31 L86.84,422.77 L87.08,423.22 L87.31,423.67 L87.54,424.10 L87.77,424.54 L88.01,424.97 L88.24,425.40 L88.47,425.84 L88.70,426.28 L88.93,426.71 L89.17,427.15 L89.40,427.58 L89.63,428.02 L89.86,428.45 L90.10,428.88 L90.33,429.30 L90.56,429.73 L90.79,430.15 L91.02,430.56 L91.26,430.97 L91.49,431.38 L91.72,431.77 L91.95,432.17 L92.19,432.55 L92.42,432.93 L92.65,433.30 L92.88,433.66 L93.11,434.01 L93.35,434.36 L93.58,434.69 L93.81,435.01 L94.04,435.32 L94.28,435.63 L94.51,435.91 L94.74,436.19 L94.97,436.45 L95.20,436.70 L95.44,436.94 L95.67,437.17 L95.90,437.39 L96.13,437.62 L96.37,437.84 L96.60,438.06 L96.83,438.28 L97.06,438.50 L97.29,438.71 L97.53,438.92 L97.76,439.13 L97.99,439.33 L98.22,439.53 L98.46,439.72 L98.69,439.91 L98.92,440.10 L99.15,440.28 L99.38,440.46 L99.62,440.63 L99.85,440.79 L100.08,440.95 L100.31,441.10 L100.55,441.25 L100.78,441.39 L101.01,441.53 L101.24,441.65 L101.47,441.77 L101.71,441.89 L101.94,441.99 L102.17,442.09 L102.40,442.18 L102.64,442.26 L102.87,442.34 L103.10,442.40" fill="none" stroke="#6a0e24" stroke-width="4.4" stroke-linecap="round" stroke-linejoin="round"/>
<path d="M47.60,442.50 L47.83,442.47 L48.06,442.44 L48.30,442.40 L48.53,442.35 L48.76,442.29 L48.99,442.23 L49.23,442.16 L49.46,442.08 L49.69,442.01 L49.92,441.92 L50.15,441.84 L50.39,441.75 L50.62,441.66 L50.85,441.56 L51.08,441.47 L51.32,441.36 L51.55,441.25 L51.78,441.14 L52.01,441.01 L52.24,440.88 L52.48,440.74 L52.71,440.59 L52.94,440.43 L53.17,440.27 L53.41,440.09 L53.64,439.90 L53.87,439.71 L54.10,439.50 L54.33,439.28 L54.57,439.06 L54.80,438.82 L55.03,438.57 L55.26,438.28 L55.50,437.94 L55.73,437.56 L55.96,437.13 L56.19,436.67 L56.42,436.18 L56.66,435.66 L56.89,435.11 L57.12,434.55 L57.35,433.96 L57.59,433.37 L57.82,432.77 L58.05,432.17 L58.28,431.56 L58.51,430.96 L58.75,430.36 L58.98,429.76 L59.21,429.14 L59.44,428.51 L59.68,427.87 L59.91,427.22 L60.14,426.55 L60.37,425.86 L60.60,425.16 L60.84,424.43 L61.07,423.68 L61.30,422.91 L61.53,422.12 L61.77,421.30 L62.00,420.45 L62.23,419.57 L62.46,418.66 L62.69,417.72 L62.93,416.71 L63.16,415.57 L63.39,414.34 L63.62,413.03 L63.86,411.66 L64.09,410.25 L64.32,408.83 L64.55,407.40 L64.78,406.00 L65.02,404.63 L65.25,403.33 L65.48,402.10 L65.71,400.88 L65.95,399.59 L66.18,398.28 L66.41,397.00 L66.64,395.78 L66.87,394.69 L67.11,393.76 L67.34,393.05 L67.57,392.58 L67.80,392.20 L68.04,391.83 L68.27,391.49 L68.50,391.17 L68.73,390.88 L68.96,390.61 L69.20,390.38 L69.43,390.19 L69.66,390.03 L69.89,389.91 L70.13,389.83 L70.36,389.80 L70.59,389.81 L70.82,389.87 L71.05,389.97 L71.29,390.11 L71.52,390.28 L71.75,390.48 L71.98,390.71 L72.22,390.97 L72.45,391.26 L72.68,391.57 L72.91,391.89 L73.14,392.24 L73.38,392.60 L73.61,392.97 L73.84,393.34 L74.07,393.73 L74.31,394.12 L74.54,394.51 L74.77,394.89 L75.00,395.28 L75.23,395.65 L75.47,396.05 L75.70,396.48 L75.93,396.94 L76.16,397.43 L76.39,397.94 L76.63,398.48 L76.86,399.04 L77.09,399.62 L77.32,400.21 L77.56,400.82 L77.79,401.44 L78.02,402.07 L78.25,402.71 L78.48,403.36 L78.72,404.00 L78.95,404.65 L79.18,405.29 L79.41,405.93 L79.65,406.57 L79.88,407.19 L80.11,407.80 L80.34,408.40 L80.57,408.98 L80.81,409.55 L81.04,410.09 L81.27,410.63 L81.50,411.16 L81.74,411.70 L81.97,412.23 L82.20,412.76 L82.43,413.29 L82.66,413.82 L82.90,414.35 L83.13,414.87 L83.36,415.39 L83.59,415.91 L83.83,416.43 L84.06,416.94 L84.29,417.45 L84.52,417.95 L84.75,418.46 L84.99,418.95 L85.22,419.45 L85.45,419.94 L85.68,420.42 L85.92,420.90 L86.15,421.38 L86.38,421.85 L86.61,422.31 L86.84,422.77 L87.08,423.22 L87.31,423.67 L87.54,424.10 L87.77,424.54 L88.01,424.97 L88.24,425.40 L88.47,425.84 L88.70,426.28 L88.93,426.71 L89.17,427.15 L89.40,427.58 L89.63,428.02 L89.86,428.45 L90.10,428.88 L90.33,429.30 L90.56,429.73 L90.79,430.15 L91.02,430.56 L91.26,430.97 L91.49,431.38 L91.72,431.77 L91.95,432.17 L92.19,432.55 L92.42,432.93 L92.65,433.30 L92.88,433.66 L93.11,434.01 L93.35,434.36 L93.58,434.69 L93.81,435.01 L94.04,435.32 L94.28,435.63 L94.51,435.91 L94.74,436.19 L94.97,436.45 L95.20,436.70 L95.44,436.94 L95.67,437.17 L95.90,437.39 L96.13,437.62 L96.37,437.84 L96.60,438.06 L96.83,438.28 L97.06,438.50 L97.29,438.71 L97.53,438.92 L97.76,439.13 L97.99,439.33 L98.22,439.53 L98.46,439.72 L98.69,439.91 L98.92,440.10 L99.15,440.28 L99.38,440.46 L99.62,440.63 L99.85,440.79 L100.08,440.95 L100.31,441.10 L100.55,441.25 L100.78,441.39 L101.01,441.53 L101.24,441.65 L101.47,441.77 L101.71,441.89 L101.94,441.99 L102.17,442.09 L102.40,442.18 L102.64,442.26 L102.87,442.34 L103.10,442.40" fill="none" stroke="#b01b3e" stroke-width="3.0000000000000004" stroke-linecap="round" stroke-linejoin="round" opacity="0.9"/>
<path d="M47.60,442.70 L47.93,442.67 L48.26,442.64 L48.59,442.61 L48.92,442.58 L49.24,442.55 L49.57,442.51 L49.90,442.47 L50.23,442.44 L50.56,442.39 L50.89,442.35 L51.22,442.31 L51.55,442.26 L51.88,442.22 L52.20,442.17 L52.53,442.12 L52.86,442.07 L53.19,442.03 L53.52,441.98 L53.85,441.92 L54.18,441.87 L54.51,441.82 L54.84,441.76 L55.16,441.70 L55.49,441.64 L55.82,441.57 L56.15,441.50 L56.48,441.43 L56.81,441.35 L57.14,441.27 L57.47,441.19 L57.79,441.10 L58.12,441.01 L58.45,440.91 L58.78,440.81 L59.11,440.69 L59.44,440.55 L59.77,440.38 L60.10,440.20 L60.43,440.00 L60.75,439.78 L61.08,439.56 L61.41,439.32 L61.74,439.08 L62.07,438.83 L62.40,438.58 L62.73,438.32 L63.06,438.06 L63.39,437.78 L63.71,437.49 L64.04,437.18 L64.37,436.86 L64.70,436.53 L65.03,436.19 L65.36,435.83 L65.69,435.47 L66.02,435.08 L66.35,434.69 L66.67,434.28 L67.00,433.83 L67.33,433.36 L67.66,432.85 L67.99,432.33 L68.32,431.78 L68.65,431.22 L68.98,430.65 L69.31,430.08 L69.63,429.50 L69.96,428.92 L70.29,428.35 L70.62,427.79 L70.95,427.23 L71.28,426.65 L71.61,426.07 L71.94,425.48 L72.27,424.89 L72.59,424.30 L72.92,423.71 L73.25,423.13 L73.58,422.55 L73.91,421.99 L74.24,421.44 L74.57,420.87 L74.90,420.29 L75.23,419.70 L75.55,419.09 L75.88,418.49 L76.21,417.89 L76.54,417.31 L76.87,416.74 L77.20,416.20 L77.53,415.69 L77.86,415.23 L78.18,414.80 L78.51,414.43 L78.84,414.13 L79.17,413.87 L79.50,413.63 L79.83,413.39 L80.16,413.16 L80.49,412.96 L80.82,412.78 L81.14,412.64 L81.47,412.55 L81.80,412.50 L82.13,412.51 L82.46,412.57 L82.79,412.66 L83.12,412.80 L83.45,412.97 L83.78,413.18 L84.10,413.41 L84.43,413.66 L84.76,413.94 L85.09,414.23 L85.42,414.54 L85.75,414.86 L86.08,415.18 L86.41,415.51 L86.74,415.84 L87.06,416.21 L87.39,416.67 L87.72,417.19 L88.05,417.77 L88.38,418.41 L88.71,419.09 L89.04,419.81 L89.37,420.56 L89.70,421.33 L90.02,422.12 L90.35,422.91 L90.68,423.69 L91.01,424.47 L91.34,425.23 L91.67,425.96 L92.00,426.66 L92.33,427.32 L92.66,427.93 L92.98,428.47 L93.31,428.96 L93.64,429.37 L93.97,429.77 L94.30,430.16 L94.63,430.54 L94.96,430.92 L95.29,431.28 L95.62,431.64 L95.94,431.98 L96.27,432.32 L96.60,432.65 L96.93,432.96 L97.26,433.27 L97.59,433.57 L97.92,433.85 L98.25,434.12 L98.57,434.38 L98.90,434.63 L99.23,434.87 L99.56,435.09 L99.89,435.30 L100.22,435.50 L100.55,435.68 L100.88,435.85 L101.21,436.00 L101.53,436.15 L101.86,436.29 L102.19,436.42 L102.52,436.55 L102.85,436.67 L103.18,436.79 L103.51,436.91 L103.84,437.02 L104.17,437.13 L104.49,437.23 L104.82,437.33 L105.15,437.43 L105.48,437.52 L105.81,437.62 L106.14,437.71 L106.47,437.79 L106.80,437.88 L107.13,437.96 L107.45,438.04 L107.78,438.12 L108.11,438.20 L108.44,438.27 L108.77,438.35 L109.10,438.42 L109.43,438.49 L109.76,438.57 L110.09,438.64 L110.41,438.71 L110.74,438.79 L111.07,438.86 L111.40,438.93 L111.73,439.01 L112.06,439.08 L112.39,439.15 L112.72,439.22 L113.05,439.29 L113.37,439.36 L113.70,439.43 L114.03,439.50 L114.36,439.57 L114.69,439.64 L115.02,439.71 L115.35,439.77 L115.68,439.84 L116.01,439.91 L116.33,439.97 L116.66,440.03 L116.99,440.10 L117.32,440.16 L117.65,440.22 L117.98,440.28 L118.31,440.35 L118.64,440.40 L118.96,440.46 L119.29,440.52 L119.62,440.58 L119.95,440.63 L120.28,440.69 L120.61,440.74 L120.94,440.80 L121.27,440.85 L121.60,440.90 L121.92,440.95 L122.25,441.00 L122.58,441.05 L122.91,441.10 L123.24,441.14 L123.57,441.19 L123.90,441.23 L124.23,441.27 L124.56,441.31 L124.88,441.35 L125.21,441.39 L125.54,441.43 L125.87,441.47 L126.20,441.50" fill="none" stroke="#0b2642" stroke-width="4.4" stroke-linecap="round" stroke-linejoin="round"/>
<path d="M47.60,442.70 L47.93,442.67 L48.26,442.64 L48.59,442.61 L48.92,442.58 L49.24,442.55 L49.57,442.51 L49.90,442.47 L50.23,442.44 L50.56,442.39 L50.89,442.35 L51.22,442.31 L51.55,442.26 L51.88,442.22 L52.20,442.17 L52.53,442.12 L52.86,442.07 L53.19,442.03 L53.52,441.98 L53.85,441.92 L54.18,441.87 L54.51,441.82 L54.84,441.76 L55.16,441.70 L55.49,441.64 L55.82,441.57 L56.15,441.50 L56.48,441.43 L56.81,441.35 L57.14,441.27 L57.47,441.19 L57.79,441.10 L58.12,441.01 L58.45,440.91 L58.78,440.81 L59.11,440.69 L59.44,440.55 L59.77,440.38 L60.10,440.20 L60.43,440.00 L60.75,439.78 L61.08,439.56 L61.41,439.32 L61.74,439.08 L62.07,438.83 L62.40,438.58 L62.73,438.32 L63.06,438.06 L63.39,437.78 L63.71,437.49 L64.04,437.18 L64.37,436.86 L64.70,436.53 L65.03,436.19 L65.36,435.83 L65.69,435.47 L66.02,435.08 L66.35,434.69 L66.67,434.28 L67.00,433.83 L67.33,433.36 L67.66,432.85 L67.99,432.33 L68.32,431.78 L68.65,431.22 L68.98,430.65 L69.31,430.08 L69.63,429.50 L69.96,428.92 L70.29,428.35 L70.62,427.79 L70.95,427.23 L71.28,426.65 L71.61,426.07 L71.94,425.48 L72.27,424.89 L72.59,424.30 L72.92,423.71 L73.25,423.13 L73.58,422.55 L73.91,421.99 L74.24,421.44 L74.57,420.87 L74.90,420.29 L75.23,419.70 L75.55,419.09 L75.88,418.49 L76.21,417.89 L76.54,417.31 L76.87,416.74 L77.20,416.20 L77.53,415.69 L77.86,415.23 L78.18,414.80 L78.51,414.43 L78.84,414.13 L79.17,413.87 L79.50,413.63 L79.83,413.39 L80.16,413.16 L80.49,412.96 L80.82,412.78 L81.14,412.64 L81.47,412.55 L81.80,412.50 L82.13,412.51 L82.46,412.57 L82.79,412.66 L83.12,412.80 L83.45,412.97 L83.78,413.18 L84.10,413.41 L84.43,413.66 L84.76,413.94 L85.09,414.23 L85.42,414.54 L85.75,414.86 L86.08,415.18 L86.41,415.51 L86.74,415.84 L87.06,416.21 L87.39,416.67 L87.72,417.19 L88.05,417.77 L88.38,418.41 L88.71,419.09 L89.04,419.81 L89.37,420.56 L89.70,421.33 L90.02,422.12 L90.35,422.91 L90.68,423.69 L91.01,424.47 L91.34,425.23 L91.67,425.96 L92.00,426.66 L92.33,427.32 L92.66,427.93 L92.98,428.47 L93.31,428.96 L93.64,429.37 L93.97,429.77 L94.30,430.16 L94.63,430.54 L94.96,430.92 L95.29,431.28 L95.62,431.64 L95.94,431.98 L96.27,432.32 L96.60,432.65 L96.93,432.96 L97.26,433.27 L97.59,433.57 L97.92,433.85 L98.25,434.12 L98.57,434.38 L98.90,434.63 L99.23,434.87 L99.56,435.09 L99.89,435.30 L100.22,435.50 L100.55,435.68 L100.88,435.85 L101.21,436.00 L101.53,436.15 L101.86,436.29 L102.19,436.42 L102.52,436.55 L102.85,436.67 L103.18,436.79 L103.51,436.91 L103.84,437.02 L104.17,437.13 L104.49,437.23 L104.82,437.33 L105.15,437.43 L105.48,437.52 L105.81,437.62 L106.14,437.71 L106.47,437.79 L106.80,437.88 L107.13,437.96 L107.45,438.04 L107.78,438.12 L108.11,438.20 L108.44,438.27 L108.77,438.35 L109.10,438.42 L109.43,438.49 L109.76,438.57 L110.09,438.64 L110.41,438.71 L110.74,438.79 L111.07,438.86 L111.40,438.93 L111.73,439.01 L112.06,439.08 L112.39,439.15 L112.72,439.22 L113.05,439.29 L113.37,439.36 L113.70,439.43 L114.03,439.50 L114.36,439.57 L114.69,439.64 L115.02,439.71 L115.35,439.77 L115.68,439.84 L116.01,439.91 L116.33,439.97 L116.66,440.03 L116.99,440.10 L117.32,440.16 L117.65,440.22 L117.98,440.28 L118.31,440.35 L118.64,440.40 L118.96,440.46 L119.29,440.52 L119.62,440.58 L119.95,440.63 L120.28,440.69 L120.61,440.74 L120.94,440.80 L121.27,440.85 L121.60,440.90 L121.92,440.95 L122.25,441.00 L122.58,441.05 L122.91,441.10 L123.24,441.14 L123.57,441.19 L123.90,441.23 L124.23,441.27 L124.56,441.31 L124.88,441.35 L125.21,441.39 L125.54,441.43 L125.87,441.47 L126.20,441.50" fill="none" stroke="#1b4d7c" stroke-width="3.0000000000000004" stroke-linecap="round" stroke-linejoin="round" opacity="0.9"/>
<line x1="43.50" y1="363.50" x2="43.50" y2="447.00" stroke="#2b2b2b" stroke-width="1.1"/>
<line x1="43.00" y1="446.50" x2="127.00" y2="446.50" stroke="#2b2b2b" stroke-width="1.1"/>
<line x1="40.20" y1="443.50" x2="43.50" y2="443.50" stroke="#2b2b2b" stroke-width="1"/>
<text transform="translate(37.20,445.40)" font-size="6.9" text-anchor="end" font-weight="normal" fill="#3a3a3a">0</text>
<line x1="40.20" y1="423.50" x2="43.50" y2="423.50" stroke="#2b2b2b" stroke-width="1"/>
<text transform="translate(37.20,426.15)" font-size="6.9" text-anchor="end" font-weight="normal" fill="#3a3a3a">20</text>
<line x1="40.20" y1="404.50" x2="43.50" y2="404.50" stroke="#2b2b2b" stroke-width="1"/>
<text transform="translate(37.20,406.90)" font-size="6.9" text-anchor="end" font-weight="normal" fill="#3a3a3a">40</text>
<line x1="40.20" y1="385.50" x2="43.50" y2="385.50" stroke="#2b2b2b" stroke-width="1"/>
<text transform="translate(37.20,387.65)" font-size="6.9" text-anchor="end" font-weight="normal" fill="#3a3a3a">60</text>
<line x1="40.20" y1="366.50" x2="43.50" y2="366.50" stroke="#2b2b2b" stroke-width="1"/>
<text transform="translate(37.20,368.40)" font-size="6.9" text-anchor="end" font-weight="normal" fill="#3a3a3a">80</text>
<line x1="47.50" y1="446.50" x2="47.50" y2="449.50" stroke="#2b2b2b" stroke-width="1"/>
<text transform="translate(47.30,458.90)" font-size="7.1" text-anchor="middle" font-weight="normal" fill="#3a3a3a">0</text>
<line x1="62.50" y1="446.50" x2="62.50" y2="449.50" stroke="#2b2b2b" stroke-width="1"/>
<text transform="translate(62.80,458.90)" font-size="7.1" text-anchor="middle" font-weight="normal" fill="#3a3a3a">10</text>
<line x1="78.50" y1="446.50" x2="78.50" y2="449.50" stroke="#2b2b2b" stroke-width="1"/>
<text transform="translate(78.30,458.90)" font-size="7.1" text-anchor="middle" font-weight="normal" fill="#3a3a3a">20</text>
<line x1="93.50" y1="446.50" x2="93.50" y2="449.50" stroke="#2b2b2b" stroke-width="1"/>
<text transform="translate(93.80,458.90)" font-size="7.1" text-anchor="middle" font-weight="normal" fill="#3a3a3a">30</text>
<line x1="109.50" y1="446.50" x2="109.50" y2="449.50" stroke="#2b2b2b" stroke-width="1"/>
<text transform="translate(109.30,458.90)" font-size="7.1" text-anchor="middle" font-weight="normal" fill="#3a3a3a">40</text>
<line x1="124.50" y1="446.50" x2="124.50" y2="449.50" stroke="#2b2b2b" stroke-width="1"/>
<text transform="translate(124.80,458.90)" font-size="7.1" text-anchor="middle" font-weight="normal" fill="#3a3a3a">50</text>
<text transform="translate(85.85,470.40) scale(0.74,1)" font-size="8.2" text-anchor="middle" font-weight="normal" fill="#2a2a2a" stroke="#2a2a2a" stroke-width="0.22">Time (min)</text>
<text transform="translate(23.20,405.00) rotate(-90) scale(0.75,1)" font-size="7.9" text-anchor="middle" font-weight="normal" fill="#2e2e2e" stroke="#2e2e2e" stroke-width="0.2">Thrombin generation (nM)</text>
<circle cx="48.50" cy="512.80" r="1.9" fill="#1c3550" stroke="#0c1a2a" stroke-width="0.6"/>
<text transform="translate(53.30,515.20) scale(0.86,1)" font-size="7.3" text-anchor="start" font-weight="normal" fill="#3a3a3a" stroke="#3a3a3a" stroke-width="0.12">Untrau ECFCs</text>
<circle cx="48.50" cy="521.70" r="1.9" fill="#6e1a2e" stroke="#3e0a16" stroke-width="0.6"/>
<text transform="translate(53.30,524.10) scale(0.86,1)" font-size="7.3" text-anchor="start" font-weight="normal" fill="#3a3a3a" stroke="#3a3a3a" stroke-width="0.12">Trau ECFCs</text>
<path d="M47.80,589.80 L48.12,589.78 L48.44,589.72 L48.77,589.61 L49.09,589.47 L49.41,589.29 L49.73,589.06 L50.06,588.80 L50.38,588.50 L50.70,588.15 L51.02,587.77 L51.34,586.68 L51.67,584.62 L51.99,581.90 L52.31,578.86 L52.63,575.83 L52.95,573.13 L53.28,570.79 L53.60,568.45 L53.92,566.14 L54.24,563.87 L54.57,561.68 L54.89,559.59 L55.21,557.58 L55.53,555.47 L55.85,553.38 L56.18,551.47 L56.50,549.86 L56.82,548.70 L57.14,547.95 L57.47,547.28 L57.79,546.70 L58.11,546.27 L58.43,546.03 L58.75,546.01 L59.08,546.06 L59.40,546.17 L59.72,546.33 L60.04,546.51 L60.36,546.73 L60.69,546.97 L61.01,547.22 L61.33,547.47 L61.65,547.72 L61.98,547.96 L62.30,548.21 L62.62,548.48 L62.94,548.77 L63.26,549.08 L63.59,549.40 L63.91,549.74 L64.23,550.08 L64.55,550.43 L64.88,550.78 L65.20,551.14 L65.52,551.49 L65.84,551.84 L66.16,552.18 L66.49,552.53 L66.81,552.89 L67.13,553.25 L67.45,553.61 L67.77,553.97 L68.10,554.34 L68.42,554.71 L68.74,555.08 L69.06,555.46 L69.39,555.84 L69.71,556.23 L70.03,556.61 L70.35,557.00 L70.67,557.39 L71.00,557.78 L71.32,558.18 L71.64,558.58 L71.96,558.98 L72.29,559.38 L72.61,559.79 L72.93,560.20 L73.25,560.62 L73.57,561.04 L73.90,561.46 L74.22,561.89 L74.54,562.32 L74.86,562.75 L75.18,563.18 L75.51,563.62 L75.83,564.05 L76.15,564.49 L76.47,564.94 L76.80,565.38 L77.12,565.82 L77.44,566.27 L77.76,566.71 L78.08,567.16 L78.41,567.60 L78.73,568.06 L79.05,568.51 L79.37,568.97 L79.70,569.43 L80.02,569.89 L80.34,570.36 L80.66,570.82 L80.98,571.29 L81.31,571.76 L81.63,572.22 L81.95,572.69 L82.27,573.16 L82.59,573.62 L82.92,574.09 L83.24,574.55 L83.56,575.02 L83.88,575.48 L84.21,575.94 L84.53,576.42 L84.85,576.92 L85.17,577.42 L85.49,577.92 L85.82,578.43 L86.14,578.94 L86.46,579.45 L86.78,579.95 L87.11,580.45 L87.43,580.93 L87.75,581.40 L88.07,581.86 L88.39,582.29 L88.72,582.71 L89.04,583.10 L89.36,583.46 L89.68,583.79 L90.01,584.10 L90.33,584.39 L90.65,584.67 L90.97,584.94 L91.29,585.21 L91.62,585.47 L91.94,585.71 L92.26,585.95 L92.58,586.18 L92.90,586.40 L93.23,586.60 L93.55,586.80 L93.87,586.98 L94.19,587.14 L94.52,587.30 L94.84,587.44 L95.16,587.56 L95.48,587.69 L95.80,587.81 L96.13,587.94 L96.45,588.06 L96.77,588.17 L97.09,588.27 L97.42,588.37 L97.74,588.45 L98.06,588.51 L98.38,588.56 L98.70,588.59 L99.03,588.60 L99.35,588.60 L99.67,588.60 L99.99,588.60 L100.31,588.60 L100.64,588.59 L100.96,588.59 L101.28,588.59 L101.60,588.58 L101.93,588.58 L102.25,588.58 L102.57,588.57 L102.89,588.57 L103.21,588.56 L103.54,588.55 L103.86,588.55 L104.18,588.54 L104.50,588.53 L104.83,588.53 L105.15,588.52 L105.47,588.51 L105.79,588.50 L106.11,588.48 L106.44,588.43 L106.76,588.36 L107.08,588.27 L107.40,588.16 L107.72,588.03 L108.05,587.89 L108.37,587.74 L108.69,587.58 L109.01,587.41 L109.34,587.23 L109.66,587.05 L109.98,586.87 L110.30,586.70 L110.62,586.52 L110.95,586.35 L111.27,586.20 L111.59,586.05 L111.91,585.91 L112.24,585.79 L112.56,585.69 L112.88,585.61 L113.20,585.55 L113.52,585.51 L113.85,585.50 L114.17,585.51 L114.49,585.52 L114.81,585.55 L115.13,585.58 L115.46,585.62 L115.78,585.67 L116.10,585.72 L116.42,585.78 L116.75,585.84 L117.07,585.91 L117.39,585.98 L117.71,586.05 L118.03,586.13 L118.36,586.21 L118.68,586.29 L119.00,586.37 L119.32,586.45 L119.65,586.53 L119.97,586.61 L120.29,586.69 L120.61,586.76 L120.93,586.83 L121.26,586.90 L121.58,586.96 L121.90,587.02 L122.22,587.07 L122.54,587.13 L122.87,587.18 L123.19,587.24 L123.51,587.29 L123.83,587.34 L124.16,587.40 L124.48,587.45 L124.80,587.50" fill="none" stroke="#6a0e24" stroke-width="4.8" stroke-linecap="round" stroke-linejoin="round"/>
<path d="M47.80,589.80 L48.12,589.78 L48.44,589.72 L48.77,589.61 L49.09,589.47 L49.41,589.29 L49.73,589.06 L50.06,588.80 L50.38,588.50 L50.70,588.15 L51.02,587.77 L51.34,586.68 L51.67,584.62 L51.99,581.90 L52.31,578.86 L52.63,575.83 L52.95,573.13 L53.28,570.79 L53.60,568.45 L53.92,566.14 L54.24,563.87 L54.57,561.68 L54.89,559.59 L55.21,557.58 L55.53,555.47 L55.85,553.38 L56.18,551.47 L56.50,549.86 L56.82,548.70 L57.14,547.95 L57.47,547.28 L57.79,546.70 L58.11,546.27 L58.43,546.03 L58.75,546.01 L59.08,546.06 L59.40,546.17 L59.72,546.33 L60.04,546.51 L60.36,546.73 L60.69,546.97 L61.01,547.22 L61.33,547.47 L61.65,547.72 L61.98,547.96 L62.30,548.21 L62.62,548.48 L62.94,548.77 L63.26,549.08 L63.59,549.40 L63.91,549.74 L64.23,550.08 L64.55,550.43 L64.88,550.78 L65.20,551.14 L65.52,551.49 L65.84,551.84 L66.16,552.18 L66.49,552.53 L66.81,552.89 L67.13,553.25 L67.45,553.61 L67.77,553.97 L68.10,554.34 L68.42,554.71 L68.74,555.08 L69.06,555.46 L69.39,555.84 L69.71,556.23 L70.03,556.61 L70.35,557.00 L70.67,557.39 L71.00,557.78 L71.32,558.18 L71.64,558.58 L71.96,558.98 L72.29,559.38 L72.61,559.79 L72.93,560.20 L73.25,560.62 L73.57,561.04 L73.90,561.46 L74.22,561.89 L74.54,562.32 L74.86,562.75 L75.18,563.18 L75.51,563.62 L75.83,564.05 L76.15,564.49 L76.47,564.94 L76.80,565.38 L77.12,565.82 L77.44,566.27 L77.76,566.71 L78.08,567.16 L78.41,567.60 L78.73,568.06 L79.05,568.51 L79.37,568.97 L79.70,569.43 L80.02,569.89 L80.34,570.36 L80.66,570.82 L80.98,571.29 L81.31,571.76 L81.63,572.22 L81.95,572.69 L82.27,573.16 L82.59,573.62 L82.92,574.09 L83.24,574.55 L83.56,575.02 L83.88,575.48 L84.21,575.94 L84.53,576.42 L84.85,576.92 L85.17,577.42 L85.49,577.92 L85.82,578.43 L86.14,578.94 L86.46,579.45 L86.78,579.95 L87.11,580.45 L87.43,580.93 L87.75,581.40 L88.07,581.86 L88.39,582.29 L88.72,582.71 L89.04,583.10 L89.36,583.46 L89.68,583.79 L90.01,584.10 L90.33,584.39 L90.65,584.67 L90.97,584.94 L91.29,585.21 L91.62,585.47 L91.94,585.71 L92.26,585.95 L92.58,586.18 L92.90,586.40 L93.23,586.60 L93.55,586.80 L93.87,586.98 L94.19,587.14 L94.52,587.30 L94.84,587.44 L95.16,587.56 L95.48,587.69 L95.80,587.81 L96.13,587.94 L96.45,588.06 L96.77,588.17 L97.09,588.27 L97.42,588.37 L97.74,588.45 L98.06,588.51 L98.38,588.56 L98.70,588.59 L99.03,588.60 L99.35,588.60 L99.67,588.60 L99.99,588.60 L100.31,588.60 L100.64,588.59 L100.96,588.59 L101.28,588.59 L101.60,588.58 L101.93,588.58 L102.25,588.58 L102.57,588.57 L102.89,588.57 L103.21,588.56 L103.54,588.55 L103.86,588.55 L104.18,588.54 L104.50,588.53 L104.83,588.53 L105.15,588.52 L105.47,588.51 L105.79,588.50 L106.11,588.48 L106.44,588.43 L106.76,588.36 L107.08,588.27 L107.40,588.16 L107.72,588.03 L108.05,587.89 L108.37,587.74 L108.69,587.58 L109.01,587.41 L109.34,587.23 L109.66,587.05 L109.98,586.87 L110.30,586.70 L110.62,586.52 L110.95,586.35 L111.27,586.20 L111.59,586.05 L111.91,585.91 L112.24,585.79 L112.56,585.69 L112.88,585.61 L113.20,585.55 L113.52,585.51 L113.85,585.50 L114.17,585.51 L114.49,585.52 L114.81,585.55 L115.13,585.58 L115.46,585.62 L115.78,585.67 L116.10,585.72 L116.42,585.78 L116.75,585.84 L117.07,585.91 L117.39,585.98 L117.71,586.05 L118.03,586.13 L118.36,586.21 L118.68,586.29 L119.00,586.37 L119.32,586.45 L119.65,586.53 L119.97,586.61 L120.29,586.69 L120.61,586.76 L120.93,586.83 L121.26,586.90 L121.58,586.96 L121.90,587.02 L122.22,587.07 L122.54,587.13 L122.87,587.18 L123.19,587.24 L123.51,587.29 L123.83,587.34 L124.16,587.40 L124.48,587.45 L124.80,587.50" fill="none" stroke="#b01b3e" stroke-width="3.4" stroke-linecap="round" stroke-linejoin="round" opacity="0.9"/>
<path d="M47.80,590.20 L48.12,590.20 L48.44,590.20 L48.76,590.19 L49.08,590.18 L49.40,590.17 L49.73,590.16 L50.05,590.15 L50.37,590.14 L50.69,590.12 L51.01,590.10 L51.33,590.09 L51.65,590.07 L51.97,590.04 L52.29,590.02 L52.61,590.00 L52.93,589.98 L53.26,589.95 L53.58,589.92 L53.90,589.90 L54.22,589.87 L54.54,589.84 L54.86,589.81 L55.18,589.78 L55.50,589.75 L55.82,589.71 L56.14,589.67 L56.46,589.63 L56.79,589.58 L57.11,589.53 L57.43,589.47 L57.75,589.40 L58.07,589.33 L58.39,589.25 L58.71,589.17 L59.03,589.08 L59.35,588.98 L59.67,588.88 L59.99,588.76 L60.32,588.60 L60.64,588.39 L60.96,588.12 L61.28,587.83 L61.60,587.50 L61.92,587.15 L62.24,586.79 L62.56,586.43 L62.88,586.06 L63.20,585.68 L63.53,585.26 L63.85,584.80 L64.17,584.28 L64.49,583.69 L64.81,583.01 L65.13,582.18 L65.45,581.06 L65.77,579.69 L66.09,578.09 L66.41,576.32 L66.73,574.40 L67.06,572.39 L67.38,570.32 L67.70,568.22 L68.02,566.10 L68.34,563.56 L68.66,560.70 L68.98,557.76 L69.30,554.95 L69.62,552.52 L69.94,550.69 L70.26,549.13 L70.59,547.60 L70.91,546.13 L71.23,544.76 L71.55,543.54 L71.87,542.51 L72.19,541.69 L72.51,541.15 L72.83,540.91 L73.15,540.93 L73.47,541.07 L73.79,541.29 L74.12,541.59 L74.44,541.94 L74.76,542.34 L75.08,542.77 L75.40,543.21 L75.72,543.66 L76.04,544.09 L76.36,544.58 L76.68,545.13 L77.00,545.73 L77.32,546.38 L77.65,547.06 L77.97,547.78 L78.29,548.53 L78.61,549.30 L78.93,550.09 L79.25,550.88 L79.57,551.68 L79.89,552.48 L80.21,553.27 L80.53,554.04 L80.85,554.80 L81.18,555.54 L81.50,556.31 L81.82,557.10 L82.14,557.90 L82.46,558.71 L82.78,559.53 L83.10,560.35 L83.42,561.16 L83.74,561.97 L84.06,562.77 L84.38,563.55 L84.71,564.31 L85.03,565.05 L85.35,565.76 L85.67,566.43 L85.99,567.08 L86.31,567.71 L86.63,568.33 L86.95,568.95 L87.27,569.57 L87.59,570.18 L87.92,570.78 L88.24,571.36 L88.56,571.94 L88.88,572.50 L89.20,573.04 L89.52,573.57 L89.84,574.08 L90.16,574.57 L90.48,575.04 L90.80,575.48 L91.12,575.90 L91.45,576.29 L91.77,576.66 L92.09,577.00 L92.41,577.32 L92.73,577.65 L93.05,577.96 L93.37,578.27 L93.69,578.56 L94.01,578.86 L94.33,579.14 L94.65,579.41 L94.98,579.68 L95.30,579.94 L95.62,580.20 L95.94,580.44 L96.26,580.68 L96.58,580.91 L96.90,581.13 L97.22,581.34 L97.54,581.54 L97.86,581.74 L98.18,581.93 L98.51,582.11 L98.83,582.28 L99.15,582.45 L99.47,582.60 L99.79,582.75 L100.11,582.89 L100.43,583.03 L100.75,583.16 L101.07,583.29 L101.39,583.42 L101.71,583.54 L102.04,583.66 L102.36,583.78 L102.68,583.89 L103.00,584.00 L103.32,584.11 L103.64,584.22 L103.96,584.32 L104.28,584.42 L104.60,584.52 L104.92,584.61 L105.24,584.70 L105.57,584.79 L105.89,584.88 L106.21,584.97 L106.53,585.05 L106.85,585.13 L107.17,585.21 L107.49,585.29 L107.81,585.37 L108.13,585.44 L108.45,585.51 L108.77,585.58 L109.10,585.65 L109.42,585.72 L109.74,585.79 L110.06,585.85 L110.38,585.92 L110.70,585.98 L111.02,586.05 L111.34,586.11 L111.66,586.18 L111.98,586.24 L112.31,586.30 L112.63,586.36 L112.95,586.43 L113.27,586.49 L113.59,586.55 L113.91,586.61 L114.23,586.67 L114.55,586.73 L114.87,586.78 L115.19,586.84 L115.51,586.90 L115.84,586.95 L116.16,587.01 L116.48,587.06 L116.80,587.11 L117.12,587.16 L117.44,587.22 L117.76,587.26 L118.08,587.31 L118.40,587.36 L118.72,587.41 L119.04,587.45 L119.37,587.50 L119.69,587.54 L120.01,587.58 L120.33,587.62 L120.65,587.66 L120.97,587.69 L121.29,587.73 L121.61,587.76 L121.93,587.80 L122.25,587.83 L122.57,587.86 L122.90,587.89 L123.22,587.91 L123.54,587.94 L123.86,587.96 L124.18,587.98 L124.50,588.00" fill="none" stroke="#0b2642" stroke-width="4.8" stroke-linecap="round" stroke-linejoin="round"/>
<path d="M47.80,590.20 L48.12,590.20 L48.44,590.20 L48.76,590.19 L49.08,590.18 L49.40,590.17 L49.73,590.16 L50.05,590.15 L50.37,590.14 L50.69,590.12 L51.01,590.10 L51.33,590.09 L51.65,590.07 L51.97,590.04 L52.29,590.02 L52.61,590.00 L52.93,589.98 L53.26,589.95 L53.58,589.92 L53.90,589.90 L54.22,589.87 L54.54,589.84 L54.86,589.81 L55.18,589.78 L55.50,589.75 L55.82,589.71 L56.14,589.67 L56.46,589.63 L56.79,589.58 L57.11,589.53 L57.43,589.47 L57.75,589.40 L58.07,589.33 L58.39,589.25 L58.71,589.17 L59.03,589.08 L59.35,588.98 L59.67,588.88 L59.99,588.76 L60.32,588.60 L60.64,588.39 L60.96,588.12 L61.28,587.83 L61.60,587.50 L61.92,587.15 L62.24,586.79 L62.56,586.43 L62.88,586.06 L63.20,585.68 L63.53,585.26 L63.85,584.80 L64.17,584.28 L64.49,583.69 L64.81,583.01 L65.13,582.18 L65.45,581.06 L65.77,579.69 L66.09,578.09 L66.41,576.32 L66.73,574.40 L67.06,572.39 L67.38,570.32 L67.70,568.22 L68.02,566.10 L68.34,563.56 L68.66,560.70 L68.98,557.76 L69.30,554.95 L69.62,552.52 L69.94,550.69 L70.26,549.13 L70.59,547.60 L70.91,546.13 L71.23,544.76 L71.55,543.54 L71.87,542.51 L72.19,541.69 L72.51,541.15 L72.83,540.91 L73.15,540.93 L73.47,541.07 L73.79,541.29 L74.12,541.59 L74.44,541.94 L74.76,542.34 L75.08,542.77 L75.40,543.21 L75.72,543.66 L76.04,544.09 L76.36,544.58 L76.68,545.13 L77.00,545.73 L77.32,546.38 L77.65,547.06 L77.97,547.78 L78.29,548.53 L78.61,549.30 L78.93,550.09 L79.25,550.88 L79.57,551.68 L79.89,552.48 L80.21,553.27 L80.53,554.04 L80.85,554.80 L81.18,555.54 L81.50,556.31 L81.82,557.10 L82.14,557.90 L82.46,558.71 L82.78,559.53 L83.10,560.35 L83.42,561.16 L83.74,561.97 L84.06,562.77 L84.38,563.55 L84.71,564.31 L85.03,565.05 L85.35,565.76 L85.67,566.43 L85.99,567.08 L86.31,567.71 L86.63,568.33 L86.95,568.95 L87.27,569.57 L87.59,570.18 L87.92,570.78 L88.24,571.36 L88.56,571.94 L88.88,572.50 L89.20,573.04 L89.52,573.57 L89.84,574.08 L90.16,574.57 L90.48,575.04 L90.80,575.48 L91.12,575.90 L91.45,576.29 L91.77,576.66 L92.09,577.00 L92.41,577.32 L92.73,577.65 L93.05,577.96 L93.37,578.27 L93.69,578.56 L94.01,578.86 L94.33,579.14 L94.65,579.41 L94.98,579.68 L95.30,579.94 L95.62,580.20 L95.94,580.44 L96.26,580.68 L96.58,580.91 L96.90,581.13 L97.22,581.34 L97.54,581.54 L97.86,581.74 L98.18,581.93 L98.51,582.11 L98.83,582.28 L99.15,582.45 L99.47,582.60 L99.79,582.75 L100.11,582.89 L100.43,583.03 L100.75,583.16 L101.07,583.29 L101.39,583.42 L101.71,583.54 L102.04,583.66 L102.36,583.78 L102.68,583.89 L103.00,584.00 L103.32,584.11 L103.64,584.22 L103.96,584.32 L104.28,584.42 L104.60,584.52 L104.92,584.61 L105.24,584.70 L105.57,584.79 L105.89,584.88 L106.21,584.97 L106.53,585.05 L106.85,585.13 L107.17,585.21 L107.49,585.29 L107.81,585.37 L108.13,585.44 L108.45,585.51 L108.77,585.58 L109.10,585.65 L109.42,585.72 L109.74,585.79 L110.06,585.85 L110.38,585.92 L110.70,585.98 L111.02,586.05 L111.34,586.11 L111.66,586.18 L111.98,586.24 L112.31,586.30 L112.63,586.36 L112.95,586.43 L113.27,586.49 L113.59,586.55 L113.91,586.61 L114.23,586.67 L114.55,586.73 L114.87,586.78 L115.19,586.84 L115.51,586.90 L115.84,586.95 L116.16,587.01 L116.48,587.06 L116.80,587.11 L117.12,587.16 L117.44,587.22 L117.76,587.26 L118.08,587.31 L118.40,587.36 L118.72,587.41 L119.04,587.45 L119.37,587.50 L119.69,587.54 L120.01,587.58 L120.33,587.62 L120.65,587.66 L120.97,587.69 L121.29,587.73 L121.61,587.76 L121.93,587.80 L122.25,587.83 L122.57,587.86 L122.90,587.89 L123.22,587.91 L123.54,587.94 L123.86,587.96 L124.18,587.98 L124.50,588.00" fill="none" stroke="#1b4d7c" stroke-width="3.4" stroke-linecap="round" stroke-linejoin="round" opacity="0.9"/>
<line x1="43.50" y1="510.30" x2="43.50" y2="594.00" stroke="#2b2b2b" stroke-width="1.1"/>
<line x1="43.00" y1="593.50" x2="125.50" y2="593.50" stroke="#2b2b2b" stroke-width="1.1"/>
<line x1="40.20" y1="589.50" x2="43.50" y2="589.50" stroke="#2b2b2b" stroke-width="1"/>
<text transform="translate(36.70,591.70)" font-size="6.9" text-anchor="end" font-weight="normal" fill="#3a3a3a">0</text>
<line x1="40.20" y1="576.50" x2="43.50" y2="576.50" stroke="#2b2b2b" stroke-width="1"/>
<text transform="translate(36.70,578.83)" font-size="6.9" text-anchor="end" font-weight="normal" fill="#3a3a3a">10</text>
<line x1="40.20" y1="563.50" x2="43.50" y2="563.50" stroke="#2b2b2b" stroke-width="1"/>
<text transform="translate(36.70,565.96)" font-size="6.9" text-anchor="end" font-weight="normal" fill="#3a3a3a">20</text>
<line x1="40.20" y1="550.50" x2="43.50" y2="550.50" stroke="#2b2b2b" stroke-width="1"/>
<text transform="translate(36.70,553.09)" font-size="6.9" text-anchor="end" font-weight="normal" fill="#3a3a3a">30</text>
<line x1="40.20" y1="537.50" x2="43.50" y2="537.50" stroke="#2b2b2b" stroke-width="1"/>
<text transform="translate(36.70,540.22)" font-size="6.9" text-anchor="end" font-weight="normal" fill="#3a3a3a">40</text>
<line x1="40.20" y1="524.50" x2="43.50" y2="524.50" stroke="#2b2b2b" stroke-width="1"/>
<text transform="translate(36.70,527.35)" font-size="6.9" text-anchor="end" font-weight="normal" fill="#3a3a3a">50</text>
<line x1="40.20" y1="512.50" x2="43.50" y2="512.50" stroke="#2b2b2b" stroke-width="1"/>
<text transform="translate(36.70,514.48)" font-size="6.9" text-anchor="end" font-weight="normal" fill="#3a3a3a">60</text>
<line x1="47.50" y1="593.50" x2="47.50" y2="596.50" stroke="#2b2b2b" stroke-width="1"/>
<text transform="translate(47.50,605.40)" font-size="7.1" text-anchor="middle" font-weight="normal" fill="#3a3a3a">0</text>
<line x1="60.50" y1="593.50" x2="60.50" y2="596.50" stroke="#2b2b2b" stroke-width="1"/>
<text transform="translate(60.40,605.40)" font-size="7.1" text-anchor="middle" font-weight="normal" fill="#3a3a3a">10</text>
<line x1="73.50" y1="593.50" x2="73.50" y2="596.50" stroke="#2b2b2b" stroke-width="1"/>
<text transform="translate(73.30,605.40)" font-size="7.1" text-anchor="middle" font-weight="normal" fill="#3a3a3a">20</text>
<line x1="86.50" y1="593.50" x2="86.50" y2="596.50" stroke="#2b2b2b" stroke-width="1"/>
<text transform="translate(86.20,605.40)" font-size="7.1" text-anchor="middle" font-weight="normal" fill="#3a3a3a">30</text>
<line x1="99.50" y1="593.50" x2="99.50" y2="596.50" stroke="#2b2b2b" stroke-width="1"/>
<text transform="translate(99.10,605.40)" font-size="7.1" text-anchor="middle" font-weight="normal" fill="#3a3a3a">40</text>
<line x1="112.50" y1="593.50" x2="112.50" y2="596.50" stroke="#2b2b2b" stroke-width="1"/>
<text transform="translate(112.00,605.40)" font-size="7.1" text-anchor="middle" font-weight="normal" fill="#3a3a3a">50</text>
<line x1="124.50" y1="593.50" x2="124.50" y2="596.50" stroke="#2b2b2b" stroke-width="1"/>
<text transform="translate(124.90,605.40)" font-size="7.1" text-anchor="middle" font-weight="normal" fill="#3a3a3a">60</text>
<text transform="translate(84.85,616.90) scale(0.74,1)" font-size="8.2" text-anchor="middle" font-weight="normal" fill="#2a2a2a" stroke="#2a2a2a" stroke-width="0.22">Time (min)</text>
<text transform="translate(22.70,551.65) rotate(-90) scale(0.75,1)" font-size="7.9" text-anchor="middle" font-weight="normal" fill="#2e2e2e" stroke="#2e2e2e" stroke-width="0.2">Thrombin generation (nM)</text>
<circle cx="179.40" cy="94.30" r="1.85" fill="#1b4d7c" stroke="#0b2642" stroke-width="0.6"/>
<circle cx="182.00" cy="95.90" r="1.85" fill="#1b4d7c" stroke="#0b2642" stroke-width="0.6"/>
<circle cx="186.20" cy="97.40" r="1.85" fill="#1b4d7c" stroke="#0b2642" stroke-width="0.6"/>
<circle cx="188.20" cy="100.00" r="1.85" fill="#1b4d7c" stroke="#0b2642" stroke-width="0.6"/>
<circle cx="175.80" cy="100.00" r="1.85" fill="#1b4d7c" stroke="#0b2642" stroke-width="0.6"/>
<circle cx="180.50" cy="99.50" r="1.85" fill="#1b4d7c" stroke="#0b2642" stroke-width="0.6"/>
<circle cx="184.10" cy="100.60" r="1.85" fill="#1b4d7c" stroke="#0b2642" stroke-width="0.6"/>
<circle cx="177.90" cy="102.10" r="1.85" fill="#1b4d7c" stroke="#0b2642" stroke-width="0.6"/>
<circle cx="181.50" cy="103.20" r="1.85" fill="#1b4d7c" stroke="#0b2642" stroke-width="0.6"/>
<circle cx="185.10" cy="103.20" r="1.85" fill="#1b4d7c" stroke="#0b2642" stroke-width="0.6"/>
<circle cx="182.50" cy="105.70" r="1.85" fill="#1b4d7c" stroke="#0b2642" stroke-width="0.6"/>
<circle cx="179.40" cy="107.30" r="1.85" fill="#1b4d7c" stroke="#0b2642" stroke-width="0.6"/>
<circle cx="184.10" cy="107.80" r="1.85" fill="#1b4d7c" stroke="#0b2642" stroke-width="0.6"/>
<circle cx="179.40" cy="109.90" r="1.85" fill="#1b4d7c" stroke="#0b2642" stroke-width="0.6"/>
<circle cx="176.30" cy="101.00" r="1.85" fill="#1b4d7c" stroke="#0b2642" stroke-width="0.6"/>
<circle cx="200.70" cy="103.70" r="1.85" fill="#b01b3e" stroke="#6a0e24" stroke-width="0.6"/>
<circle cx="203.80" cy="103.20" r="1.85" fill="#b01b3e" stroke="#6a0e24" stroke-width="0.6"/>
<circle cx="207.00" cy="105.20" r="1.85" fill="#b01b3e" stroke="#6a0e24" stroke-width="0.6"/>
<circle cx="210.60" cy="104.20" r="1.85" fill="#b01b3e" stroke="#6a0e24" stroke-width="0.6"/>
<circle cx="213.70" cy="103.70" r="1.85" fill="#b01b3e" stroke="#6a0e24" stroke-width="0.6"/>
<circle cx="200.70" cy="109.90" r="1.85" fill="#b01b3e" stroke="#6a0e24" stroke-width="0.6"/>
<circle cx="203.80" cy="112.50" r="1.85" fill="#b01b3e" stroke="#6a0e24" stroke-width="0.6"/>
<circle cx="207.00" cy="110.90" r="1.85" fill="#b01b3e" stroke="#6a0e24" stroke-width="0.6"/>
<circle cx="210.10" cy="112.00" r="1.85" fill="#b01b3e" stroke="#6a0e24" stroke-width="0.6"/>
<circle cx="213.70" cy="110.90" r="1.85" fill="#b01b3e" stroke="#6a0e24" stroke-width="0.6"/>
<circle cx="200.70" cy="114.60" r="1.85" fill="#b01b3e" stroke="#6a0e24" stroke-width="0.6"/>
<circle cx="203.30" cy="115.10" r="1.85" fill="#b01b3e" stroke="#6a0e24" stroke-width="0.6"/>
<circle cx="207.00" cy="116.70" r="1.85" fill="#b01b3e" stroke="#6a0e24" stroke-width="0.6"/>
<circle cx="210.60" cy="114.60" r="1.85" fill="#b01b3e" stroke="#6a0e24" stroke-width="0.6"/>
<circle cx="213.70" cy="115.10" r="1.85" fill="#b01b3e" stroke="#6a0e24" stroke-width="0.6"/>
<circle cx="209.00" cy="120.80" r="1.85" fill="#b01b3e" stroke="#6a0e24" stroke-width="0.6"/>
<circle cx="204.90" cy="125.00" r="1.85" fill="#b01b3e" stroke="#6a0e24" stroke-width="0.6"/>
<g stroke="#3a3a3a" stroke-width="0.8" opacity="0.7" fill="none"><path d="M173.49,101.86 H189.49 M181.49,99.29 V104.43 M177.99,99.29 H184.99 M177.99,104.43 H184.99"/></g>
<g stroke="#3a3a3a" stroke-width="0.8" opacity="0.7" fill="none"><path d="M199.08,111.65 H215.08 M207.08,108.00 V115.30 M203.58,108.00 H210.58 M203.58,115.30 H210.58"/></g>
<line x1="165.50" y1="50.80" x2="165.50" y2="134.00" stroke="#2b2b2b" stroke-width="1.1"/>
<line x1="165.00" y1="133.50" x2="220.00" y2="133.50" stroke="#2b2b2b" stroke-width="1.1"/>
<line x1="162.20" y1="130.50" x2="165.50" y2="130.50" stroke="#2b2b2b" stroke-width="1"/>
<text transform="translate(159.20,132.70)" font-size="6.9" text-anchor="end" font-weight="normal" fill="#3a3a3a">0</text>
<line x1="162.20" y1="111.50" x2="165.50" y2="111.50" stroke="#2b2b2b" stroke-width="1"/>
<text transform="translate(159.20,113.58)" font-size="6.9" text-anchor="end" font-weight="normal" fill="#3a3a3a">10</text>
<line x1="162.20" y1="92.50" x2="165.50" y2="92.50" stroke="#2b2b2b" stroke-width="1"/>
<text transform="translate(159.20,94.45)" font-size="6.9" text-anchor="end" font-weight="normal" fill="#3a3a3a">20</text>
<line x1="162.20" y1="72.50" x2="165.50" y2="72.50" stroke="#2b2b2b" stroke-width="1"/>
<text transform="translate(159.20,75.33)" font-size="6.9" text-anchor="end" font-weight="normal" fill="#3a3a3a">30</text>
<line x1="162.20" y1="53.50" x2="165.50" y2="53.50" stroke="#2b2b2b" stroke-width="1"/>
<text transform="translate(159.20,56.20)" font-size="6.9" text-anchor="end" font-weight="normal" fill="#3a3a3a">40</text>
<line x1="181.50" y1="133.50" x2="181.50" y2="136.50" stroke="#2b2b2b" stroke-width="1"/>
<line x1="206.50" y1="133.50" x2="206.50" y2="136.50" stroke="#2b2b2b" stroke-width="1"/>
<text transform="translate(181.30,145.80) scale(0.86,1)" font-size="7.4" text-anchor="middle" font-weight="normal" fill="#333" stroke="#333" stroke-width="0.06">Untrau</text>
<text transform="translate(206.80,145.80) scale(0.86,1)" font-size="7.4" text-anchor="middle" font-weight="normal" fill="#333" stroke="#333" stroke-width="0.06">Trau</text>
<text transform="translate(145.83,92.05) rotate(-90) scale(0.77,1)" font-size="8.0" text-anchor="middle" font-weight="normal" fill="#2e2e2e" stroke="#2e2e2e" stroke-width="0.2">Lag time (min)</text>
<path d="M181.30,88.60 L181.30,84.50 L206.80,84.50 L206.80,98.50" fill="none" stroke="#777" stroke-width="0.9"/>
<text x="193.40" y="82.10" font-size="6.6" text-anchor="middle" fill="#3a3a3a"><tspan font-style="italic">P</tspan> = .0001</text>
<circle cx="283.10" cy="105.70" r="1.85" fill="#1b4d7c" stroke="#0b2642" stroke-width="0.6"/>
<circle cx="281.10" cy="107.70" r="1.85" fill="#1b4d7c" stroke="#0b2642" stroke-width="0.6"/>
<circle cx="285.70" cy="108.30" r="1.85" fill="#1b4d7c" stroke="#0b2642" stroke-width="0.6"/>
<circle cx="279.20" cy="111.60" r="1.85" fill="#1b4d7c" stroke="#0b2642" stroke-width="0.6"/>
<circle cx="283.80" cy="111.60" r="1.85" fill="#1b4d7c" stroke="#0b2642" stroke-width="0.6"/>
<circle cx="288.30" cy="112.90" r="1.85" fill="#1b4d7c" stroke="#0b2642" stroke-width="0.6"/>
<circle cx="277.90" cy="114.90" r="1.85" fill="#1b4d7c" stroke="#0b2642" stroke-width="0.6"/>
<circle cx="281.80" cy="115.50" r="1.85" fill="#1b4d7c" stroke="#0b2642" stroke-width="0.6"/>
<circle cx="286.40" cy="116.20" r="1.85" fill="#1b4d7c" stroke="#0b2642" stroke-width="0.6"/>
<circle cx="291.00" cy="115.50" r="1.85" fill="#1b4d7c" stroke="#0b2642" stroke-width="0.6"/>
<circle cx="277.20" cy="118.20" r="1.85" fill="#1b4d7c" stroke="#0b2642" stroke-width="0.6"/>
<circle cx="281.10" cy="119.50" r="1.85" fill="#1b4d7c" stroke="#0b2642" stroke-width="0.6"/>
<circle cx="285.70" cy="120.10" r="1.85" fill="#1b4d7c" stroke="#0b2642" stroke-width="0.6"/>
<circle cx="289.70" cy="118.80" r="1.85" fill="#1b4d7c" stroke="#0b2642" stroke-width="0.6"/>
<circle cx="291.60" cy="120.10" r="1.85" fill="#1b4d7c" stroke="#0b2642" stroke-width="0.6"/>
<circle cx="283.10" cy="117.50" r="1.85" fill="#1b4d7c" stroke="#0b2642" stroke-width="0.6"/>
<circle cx="308.70" cy="86.70" r="1.85" fill="#b01b3e" stroke="#6a0e24" stroke-width="0.6"/>
<circle cx="308.70" cy="90.00" r="1.85" fill="#b01b3e" stroke="#6a0e24" stroke-width="0.6"/>
<circle cx="307.40" cy="97.80" r="1.85" fill="#b01b3e" stroke="#6a0e24" stroke-width="0.6"/>
<circle cx="310.60" cy="100.50" r="1.85" fill="#b01b3e" stroke="#6a0e24" stroke-width="0.6"/>
<circle cx="304.70" cy="103.70" r="1.85" fill="#b01b3e" stroke="#6a0e24" stroke-width="0.6"/>
<circle cx="313.20" cy="103.70" r="1.85" fill="#b01b3e" stroke="#6a0e24" stroke-width="0.6"/>
<circle cx="308.00" cy="106.40" r="1.85" fill="#b01b3e" stroke="#6a0e24" stroke-width="0.6"/>
<circle cx="303.40" cy="109.60" r="1.85" fill="#b01b3e" stroke="#6a0e24" stroke-width="0.6"/>
<circle cx="311.30" cy="110.30" r="1.85" fill="#b01b3e" stroke="#6a0e24" stroke-width="0.6"/>
<circle cx="315.20" cy="110.90" r="1.85" fill="#b01b3e" stroke="#6a0e24" stroke-width="0.6"/>
<circle cx="302.10" cy="112.30" r="1.85" fill="#b01b3e" stroke="#6a0e24" stroke-width="0.6"/>
<circle cx="306.70" cy="111.60" r="1.85" fill="#b01b3e" stroke="#6a0e24" stroke-width="0.6"/>
<circle cx="309.30" cy="114.20" r="1.85" fill="#b01b3e" stroke="#6a0e24" stroke-width="0.6"/>
<circle cx="313.90" cy="114.20" r="1.85" fill="#b01b3e" stroke="#6a0e24" stroke-width="0.6"/>
<circle cx="304.70" cy="116.80" r="1.85" fill="#b01b3e" stroke="#6a0e24" stroke-width="0.6"/>
<circle cx="311.30" cy="116.80" r="1.85" fill="#b01b3e" stroke="#6a0e24" stroke-width="0.6"/>
<g stroke="#3a3a3a" stroke-width="0.8" opacity="0.7" fill="none"><path d="M276.17,114.63 H292.17 M284.17,111.97 V117.29 M280.67,111.97 H287.67 M280.67,117.29 H287.67"/></g>
<g stroke="#3a3a3a" stroke-width="0.8" opacity="0.7" fill="none"><path d="M300.70,106.59 H316.70 M308.70,101.34 V111.84 M305.20,101.34 H312.20 M305.20,111.84 H312.20"/></g>
<line x1="268.50" y1="52.10" x2="268.50" y2="134.00" stroke="#2b2b2b" stroke-width="1.1"/>
<line x1="268.00" y1="133.50" x2="322.00" y2="133.50" stroke="#2b2b2b" stroke-width="1.1"/>
<line x1="265.20" y1="130.50" x2="268.50" y2="130.50" stroke="#2b2b2b" stroke-width="1"/>
<text transform="translate(262.20,132.70)" font-size="6.9" text-anchor="end" font-weight="normal" fill="#3a3a3a">0</text>
<line x1="265.20" y1="115.50" x2="268.50" y2="115.50" stroke="#2b2b2b" stroke-width="1"/>
<text transform="translate(262.20,117.66)" font-size="6.9" text-anchor="end" font-weight="normal" fill="#3a3a3a">300</text>
<line x1="265.20" y1="100.50" x2="268.50" y2="100.50" stroke="#2b2b2b" stroke-width="1"/>
<text transform="translate(262.20,102.62)" font-size="6.9" text-anchor="end" font-weight="normal" fill="#3a3a3a">600</text>
<line x1="265.20" y1="85.50" x2="268.50" y2="85.50" stroke="#2b2b2b" stroke-width="1"/>
<text transform="translate(262.20,87.58)" font-size="6.9" text-anchor="end" font-weight="normal" fill="#3a3a3a">900</text>
<line x1="265.20" y1="70.50" x2="268.50" y2="70.50" stroke="#2b2b2b" stroke-width="1"/>
<text transform="translate(262.20,72.54)" font-size="6.9" text-anchor="end" font-weight="normal" fill="#3a3a3a">1200</text>
<line x1="265.20" y1="55.50" x2="268.50" y2="55.50" stroke="#2b2b2b" stroke-width="1"/>
<text transform="translate(262.20,57.50)" font-size="6.9" text-anchor="end" font-weight="normal" fill="#3a3a3a">1500</text>
<line x1="284.50" y1="133.50" x2="284.50" y2="136.50" stroke="#2b2b2b" stroke-width="1"/>
<line x1="309.50" y1="133.50" x2="309.50" y2="136.50" stroke="#2b2b2b" stroke-width="1"/>
<text transform="translate(284.60,145.80) scale(0.86,1)" font-size="7.4" text-anchor="middle" font-weight="normal" fill="#333" stroke="#333" stroke-width="0.06">Untrau</text>
<text transform="translate(309.50,145.80) scale(0.86,1)" font-size="7.4" text-anchor="middle" font-weight="normal" fill="#333" stroke="#333" stroke-width="0.06">Trau</text>
<text transform="translate(241.15,92.70) rotate(-90) scale(0.77,1)" font-size="8.0" text-anchor="middle" font-weight="normal" fill="#2e2e2e" stroke="#2e2e2e" stroke-width="0.2">ETP (nM min)</text>
<path d="M284.60,100.50 L284.60,78.60 L309.50,78.60 L309.50,81.50" fill="none" stroke="#777" stroke-width="0.9"/>
<text x="296.20" y="75.20" font-size="6.6" text-anchor="middle" fill="#3a3a3a"><tspan font-style="italic">P</tspan> < .0001</text>
<circle cx="381.40" cy="98.50" r="1.85" fill="#1b4d7c" stroke="#0b2642" stroke-width="0.6"/>
<circle cx="375.50" cy="105.00" r="1.85" fill="#1b4d7c" stroke="#0b2642" stroke-width="0.6"/>
<circle cx="379.50" cy="106.40" r="1.85" fill="#1b4d7c" stroke="#0b2642" stroke-width="0.6"/>
<circle cx="383.40" cy="107.70" r="1.85" fill="#1b4d7c" stroke="#0b2642" stroke-width="0.6"/>
<circle cx="388.00" cy="105.00" r="1.85" fill="#1b4d7c" stroke="#0b2642" stroke-width="0.6"/>
<circle cx="374.90" cy="108.30" r="1.85" fill="#1b4d7c" stroke="#0b2642" stroke-width="0.6"/>
<circle cx="377.50" cy="110.30" r="1.85" fill="#1b4d7c" stroke="#0b2642" stroke-width="0.6"/>
<circle cx="382.10" cy="110.90" r="1.85" fill="#1b4d7c" stroke="#0b2642" stroke-width="0.6"/>
<circle cx="386.70" cy="109.60" r="1.85" fill="#1b4d7c" stroke="#0b2642" stroke-width="0.6"/>
<circle cx="388.60" cy="110.30" r="1.85" fill="#1b4d7c" stroke="#0b2642" stroke-width="0.6"/>
<circle cx="374.90" cy="114.20" r="1.85" fill="#1b4d7c" stroke="#0b2642" stroke-width="0.6"/>
<circle cx="379.50" cy="114.90" r="1.85" fill="#1b4d7c" stroke="#0b2642" stroke-width="0.6"/>
<circle cx="384.70" cy="114.20" r="1.85" fill="#1b4d7c" stroke="#0b2642" stroke-width="0.6"/>
<circle cx="388.00" cy="114.20" r="1.85" fill="#1b4d7c" stroke="#0b2642" stroke-width="0.6"/>
<circle cx="376.80" cy="116.20" r="1.85" fill="#1b4d7c" stroke="#0b2642" stroke-width="0.6"/>
<circle cx="384.70" cy="117.50" r="1.85" fill="#1b4d7c" stroke="#0b2642" stroke-width="0.6"/>
<circle cx="404.40" cy="84.70" r="1.85" fill="#b01b3e" stroke="#6a0e24" stroke-width="0.6"/>
<circle cx="408.90" cy="87.40" r="1.85" fill="#b01b3e" stroke="#6a0e24" stroke-width="0.6"/>
<circle cx="400.40" cy="95.20" r="1.85" fill="#b01b3e" stroke="#6a0e24" stroke-width="0.6"/>
<circle cx="408.90" cy="95.90" r="1.85" fill="#b01b3e" stroke="#6a0e24" stroke-width="0.6"/>
<circle cx="412.90" cy="95.20" r="1.85" fill="#b01b3e" stroke="#6a0e24" stroke-width="0.6"/>
<circle cx="413.50" cy="99.10" r="1.85" fill="#b01b3e" stroke="#6a0e24" stroke-width="0.6"/>
<circle cx="404.40" cy="101.80" r="1.85" fill="#b01b3e" stroke="#6a0e24" stroke-width="0.6"/>
<circle cx="408.90" cy="101.80" r="1.85" fill="#b01b3e" stroke="#6a0e24" stroke-width="0.6"/>
<circle cx="400.40" cy="107.00" r="1.85" fill="#b01b3e" stroke="#6a0e24" stroke-width="0.6"/>
<circle cx="405.00" cy="107.70" r="1.85" fill="#b01b3e" stroke="#6a0e24" stroke-width="0.6"/>
<circle cx="408.90" cy="107.00" r="1.85" fill="#b01b3e" stroke="#6a0e24" stroke-width="0.6"/>
<circle cx="412.90" cy="107.00" r="1.85" fill="#b01b3e" stroke="#6a0e24" stroke-width="0.6"/>
<circle cx="400.40" cy="110.90" r="1.85" fill="#b01b3e" stroke="#6a0e24" stroke-width="0.6"/>
<circle cx="405.00" cy="110.30" r="1.85" fill="#b01b3e" stroke="#6a0e24" stroke-width="0.6"/>
<circle cx="408.90" cy="111.60" r="1.85" fill="#b01b3e" stroke="#6a0e24" stroke-width="0.6"/>
<circle cx="412.90" cy="111.60" r="1.85" fill="#b01b3e" stroke="#6a0e24" stroke-width="0.6"/>
<g stroke="#3a3a3a" stroke-width="0.8" opacity="0.7" fill="none"><path d="M373.64,110.20 H389.64 M381.64,107.29 V113.11 M378.14,107.29 H385.14 M378.14,113.11 H385.14"/></g>
<g stroke="#3a3a3a" stroke-width="0.8" opacity="0.7" fill="none"><path d="M399.29,102.14 H415.29 M407.29,97.18 V107.09 M403.79,97.18 H410.79 M403.79,107.09 H410.79"/></g>
<line x1="365.50" y1="51.50" x2="365.50" y2="134.00" stroke="#2b2b2b" stroke-width="1.1"/>
<line x1="365.00" y1="133.50" x2="420.00" y2="133.50" stroke="#2b2b2b" stroke-width="1.1"/>
<line x1="362.20" y1="130.50" x2="365.50" y2="130.50" stroke="#2b2b2b" stroke-width="1"/>
<text transform="translate(359.20,132.70)" font-size="6.9" text-anchor="end" font-weight="normal" fill="#3a3a3a">0</text>
<line x1="362.20" y1="115.50" x2="365.50" y2="115.50" stroke="#2b2b2b" stroke-width="1"/>
<text transform="translate(359.20,117.54)" font-size="6.9" text-anchor="end" font-weight="normal" fill="#3a3a3a">20</text>
<line x1="362.20" y1="99.50" x2="365.50" y2="99.50" stroke="#2b2b2b" stroke-width="1"/>
<text transform="translate(359.20,102.38)" font-size="6.9" text-anchor="end" font-weight="normal" fill="#3a3a3a">40</text>
<line x1="362.20" y1="84.50" x2="365.50" y2="84.50" stroke="#2b2b2b" stroke-width="1"/>
<text transform="translate(359.20,87.22)" font-size="6.9" text-anchor="end" font-weight="normal" fill="#3a3a3a">60</text>
<line x1="362.20" y1="69.50" x2="365.50" y2="69.50" stroke="#2b2b2b" stroke-width="1"/>
<text transform="translate(359.20,72.06)" font-size="6.9" text-anchor="end" font-weight="normal" fill="#3a3a3a">80</text>
<line x1="362.20" y1="54.50" x2="365.50" y2="54.50" stroke="#2b2b2b" stroke-width="1"/>
<text transform="translate(359.20,56.90)" font-size="6.9" text-anchor="end" font-weight="normal" fill="#3a3a3a">100</text>
<line x1="381.50" y1="133.50" x2="381.50" y2="136.50" stroke="#2b2b2b" stroke-width="1"/>
<line x1="406.50" y1="133.50" x2="406.50" y2="136.50" stroke="#2b2b2b" stroke-width="1"/>
<text transform="translate(381.70,145.80) scale(0.86,1)" font-size="7.4" text-anchor="middle" font-weight="normal" fill="#333" stroke="#333" stroke-width="0.06">Untrau</text>
<text transform="translate(406.60,145.80) scale(0.86,1)" font-size="7.4" text-anchor="middle" font-weight="normal" fill="#333" stroke="#333" stroke-width="0.06">Trau</text>
<text transform="translate(341.99,92.40) rotate(-90) scale(0.77,1)" font-size="8.0" text-anchor="middle" font-weight="normal" fill="#2e2e2e" stroke="#2e2e2e" stroke-width="0.2">Peak (nM)</text>
<path d="M381.70,90.00 L381.70,76.60 L406.60,76.60 L406.60,79.90" fill="none" stroke="#777" stroke-width="0.9"/>
<text x="394.20" y="73.90" font-size="6.6" text-anchor="middle" fill="#3a3a3a"><tspan font-style="italic">P</tspan> < .0001</text>
<circle cx="474.80" cy="76.20" r="1.85" fill="#1b4d7c" stroke="#0b2642" stroke-width="0.6"/>
<circle cx="476.10" cy="80.80" r="1.85" fill="#1b4d7c" stroke="#0b2642" stroke-width="0.6"/>
<circle cx="473.50" cy="82.80" r="1.85" fill="#1b4d7c" stroke="#0b2642" stroke-width="0.6"/>
<circle cx="470.20" cy="88.70" r="1.85" fill="#1b4d7c" stroke="#0b2642" stroke-width="0.6"/>
<circle cx="474.80" cy="88.00" r="1.85" fill="#1b4d7c" stroke="#0b2642" stroke-width="0.6"/>
<circle cx="480.70" cy="90.60" r="1.85" fill="#1b4d7c" stroke="#0b2642" stroke-width="0.6"/>
<circle cx="467.60" cy="92.60" r="1.85" fill="#1b4d7c" stroke="#0b2642" stroke-width="0.6"/>
<circle cx="472.10" cy="91.90" r="1.85" fill="#1b4d7c" stroke="#0b2642" stroke-width="0.6"/>
<circle cx="477.40" cy="93.30" r="1.85" fill="#1b4d7c" stroke="#0b2642" stroke-width="0.6"/>
<circle cx="482.00" cy="92.60" r="1.85" fill="#1b4d7c" stroke="#0b2642" stroke-width="0.6"/>
<circle cx="468.90" cy="95.90" r="1.85" fill="#1b4d7c" stroke="#0b2642" stroke-width="0.6"/>
<circle cx="474.10" cy="95.90" r="1.85" fill="#1b4d7c" stroke="#0b2642" stroke-width="0.6"/>
<circle cx="479.30" cy="96.50" r="1.85" fill="#1b4d7c" stroke="#0b2642" stroke-width="0.6"/>
<circle cx="470.80" cy="98.50" r="1.85" fill="#1b4d7c" stroke="#0b2642" stroke-width="0.6"/>
<circle cx="476.10" cy="99.10" r="1.85" fill="#1b4d7c" stroke="#0b2642" stroke-width="0.6"/>
<circle cx="481.30" cy="97.20" r="1.85" fill="#1b4d7c" stroke="#0b2642" stroke-width="0.6"/>
<circle cx="472.10" cy="101.80" r="1.85" fill="#1b4d7c" stroke="#0b2642" stroke-width="0.6"/>
<circle cx="477.40" cy="103.10" r="1.85" fill="#1b4d7c" stroke="#0b2642" stroke-width="0.6"/>
<circle cx="472.80" cy="107.00" r="1.85" fill="#1b4d7c" stroke="#0b2642" stroke-width="0.6"/>
<circle cx="498.40" cy="93.30" r="1.85" fill="#b01b3e" stroke="#6a0e24" stroke-width="0.6"/>
<circle cx="494.40" cy="96.50" r="1.85" fill="#b01b3e" stroke="#6a0e24" stroke-width="0.6"/>
<circle cx="500.30" cy="96.50" r="1.85" fill="#b01b3e" stroke="#6a0e24" stroke-width="0.6"/>
<circle cx="504.30" cy="96.50" r="1.85" fill="#b01b3e" stroke="#6a0e24" stroke-width="0.6"/>
<circle cx="494.40" cy="99.10" r="1.85" fill="#b01b3e" stroke="#6a0e24" stroke-width="0.6"/>
<circle cx="499.00" cy="99.80" r="1.85" fill="#b01b3e" stroke="#6a0e24" stroke-width="0.6"/>
<circle cx="506.90" cy="99.80" r="1.85" fill="#b01b3e" stroke="#6a0e24" stroke-width="0.6"/>
<circle cx="493.80" cy="104.40" r="1.85" fill="#b01b3e" stroke="#6a0e24" stroke-width="0.6"/>
<circle cx="497.70" cy="104.40" r="1.85" fill="#b01b3e" stroke="#6a0e24" stroke-width="0.6"/>
<circle cx="501.60" cy="103.70" r="1.85" fill="#b01b3e" stroke="#6a0e24" stroke-width="0.6"/>
<circle cx="505.60" cy="105.00" r="1.85" fill="#b01b3e" stroke="#6a0e24" stroke-width="0.6"/>
<circle cx="495.70" cy="107.70" r="1.85" fill="#b01b3e" stroke="#6a0e24" stroke-width="0.6"/>
<circle cx="500.30" cy="107.00" r="1.85" fill="#b01b3e" stroke="#6a0e24" stroke-width="0.6"/>
<circle cx="502.90" cy="109.60" r="1.85" fill="#b01b3e" stroke="#6a0e24" stroke-width="0.6"/>
<circle cx="498.40" cy="111.60" r="1.85" fill="#b01b3e" stroke="#6a0e24" stroke-width="0.6"/>
<circle cx="499.00" cy="112.90" r="1.85" fill="#b01b3e" stroke="#6a0e24" stroke-width="0.6"/>
<g stroke="#3a3a3a" stroke-width="0.8" opacity="0.7" fill="none"><path d="M466.84,93.29 H482.84 M474.84,88.78 V97.80 M471.34,88.78 H478.34 M471.34,97.80 H478.34"/></g>
<g stroke="#3a3a3a" stroke-width="0.8" opacity="0.7" fill="none"><path d="M491.54,102.99 H507.54 M499.54,99.57 V106.40 M496.04,99.57 H503.04 M496.04,106.40 H503.04"/></g>
<line x1="459.50" y1="52.10" x2="459.50" y2="134.00" stroke="#2b2b2b" stroke-width="1.1"/>
<line x1="459.00" y1="133.50" x2="514.00" y2="133.50" stroke="#2b2b2b" stroke-width="1.1"/>
<line x1="456.20" y1="130.50" x2="459.50" y2="130.50" stroke="#2b2b2b" stroke-width="1"/>
<text transform="translate(453.20,132.70)" font-size="6.9" text-anchor="end" font-weight="normal" fill="#3a3a3a">0</text>
<line x1="456.20" y1="115.50" x2="459.50" y2="115.50" stroke="#2b2b2b" stroke-width="1"/>
<text transform="translate(453.20,117.66)" font-size="6.9" text-anchor="end" font-weight="normal" fill="#3a3a3a">10</text>
<line x1="456.20" y1="100.50" x2="459.50" y2="100.50" stroke="#2b2b2b" stroke-width="1"/>
<text transform="translate(453.20,102.62)" font-size="6.9" text-anchor="end" font-weight="normal" fill="#3a3a3a">20</text>
<line x1="456.20" y1="85.50" x2="459.50" y2="85.50" stroke="#2b2b2b" stroke-width="1"/>
<text transform="translate(453.20,87.58)" font-size="6.9" text-anchor="end" font-weight="normal" fill="#3a3a3a">30</text>
<line x1="456.20" y1="70.50" x2="459.50" y2="70.50" stroke="#2b2b2b" stroke-width="1"/>
<text transform="translate(453.20,72.54)" font-size="6.9" text-anchor="end" font-weight="normal" fill="#3a3a3a">40</text>
<line x1="456.20" y1="55.50" x2="459.50" y2="55.50" stroke="#2b2b2b" stroke-width="1"/>
<text transform="translate(453.20,57.50)" font-size="6.9" text-anchor="end" font-weight="normal" fill="#3a3a3a">50</text>
<line x1="475.50" y1="133.50" x2="475.50" y2="136.50" stroke="#2b2b2b" stroke-width="1"/>
<line x1="500.50" y1="133.50" x2="500.50" y2="136.50" stroke="#2b2b2b" stroke-width="1"/>
<text transform="translate(475.60,145.80) scale(0.86,1)" font-size="7.4" text-anchor="middle" font-weight="normal" fill="#333" stroke="#333" stroke-width="0.06">Untrau</text>
<text transform="translate(500.20,145.80) scale(0.86,1)" font-size="7.4" text-anchor="middle" font-weight="normal" fill="#333" stroke="#333" stroke-width="0.06">Trau</text>
<text transform="translate(439.83,92.70) rotate(-90) scale(0.77,1)" font-size="8.0" text-anchor="middle" font-weight="normal" fill="#2e2e2e" stroke="#2e2e2e" stroke-width="0.2">Time to peak (min)</text>
<path d="M475.60,71.00 L475.60,66.40 L500.20,66.40 L500.20,89.30" fill="none" stroke="#777" stroke-width="0.9"/>
<text x="487.00" y="62.80" font-size="6.6" text-anchor="middle" fill="#3a3a3a"><tspan font-style="italic">P</tspan> < .0001</text>
<circle cx="182.40" cy="241.50" r="1.85" fill="#1b4d7c" stroke="#0b2642" stroke-width="0.6"/>
<circle cx="177.00" cy="244.50" r="1.85" fill="#1b4d7c" stroke="#0b2642" stroke-width="0.6"/>
<circle cx="181.20" cy="245.10" r="1.85" fill="#1b4d7c" stroke="#0b2642" stroke-width="0.6"/>
<circle cx="175.20" cy="247.50" r="1.85" fill="#1b4d7c" stroke="#0b2642" stroke-width="0.6"/>
<circle cx="179.40" cy="247.50" r="1.85" fill="#1b4d7c" stroke="#0b2642" stroke-width="0.6"/>
<circle cx="183.60" cy="246.30" r="1.85" fill="#1b4d7c" stroke="#0b2642" stroke-width="0.6"/>
<circle cx="188.40" cy="247.50" r="1.85" fill="#1b4d7c" stroke="#0b2642" stroke-width="0.6"/>
<circle cx="174.00" cy="250.50" r="1.85" fill="#1b4d7c" stroke="#0b2642" stroke-width="0.6"/>
<circle cx="178.20" cy="249.90" r="1.85" fill="#1b4d7c" stroke="#0b2642" stroke-width="0.6"/>
<circle cx="182.40" cy="249.90" r="1.85" fill="#1b4d7c" stroke="#0b2642" stroke-width="0.6"/>
<circle cx="186.60" cy="249.30" r="1.85" fill="#1b4d7c" stroke="#0b2642" stroke-width="0.6"/>
<circle cx="178.80" cy="252.90" r="1.85" fill="#1b4d7c" stroke="#0b2642" stroke-width="0.6"/>
<circle cx="183.60" cy="252.90" r="1.85" fill="#1b4d7c" stroke="#0b2642" stroke-width="0.6"/>
<circle cx="181.20" cy="255.30" r="1.85" fill="#1b4d7c" stroke="#0b2642" stroke-width="0.6"/>
<circle cx="184.80" cy="257.10" r="1.85" fill="#1b4d7c" stroke="#0b2642" stroke-width="0.6"/>
<circle cx="179.40" cy="257.70" r="1.85" fill="#1b4d7c" stroke="#0b2642" stroke-width="0.6"/>
<circle cx="178.80" cy="260.10" r="1.85" fill="#1b4d7c" stroke="#0b2642" stroke-width="0.6"/>
<circle cx="199.70" cy="230.10" r="1.85" fill="#b01b3e" stroke="#6a0e24" stroke-width="0.6"/>
<circle cx="203.30" cy="230.10" r="1.85" fill="#b01b3e" stroke="#6a0e24" stroke-width="0.6"/>
<circle cx="206.90" cy="230.10" r="1.85" fill="#b01b3e" stroke="#6a0e24" stroke-width="0.6"/>
<circle cx="210.50" cy="230.10" r="1.85" fill="#b01b3e" stroke="#6a0e24" stroke-width="0.6"/>
<circle cx="212.90" cy="230.10" r="1.85" fill="#b01b3e" stroke="#6a0e24" stroke-width="0.6"/>
<circle cx="202.70" cy="236.70" r="1.85" fill="#b01b3e" stroke="#6a0e24" stroke-width="0.6"/>
<circle cx="209.30" cy="238.50" r="1.85" fill="#b01b3e" stroke="#6a0e24" stroke-width="0.6"/>
<circle cx="199.70" cy="242.10" r="1.85" fill="#b01b3e" stroke="#6a0e24" stroke-width="0.6"/>
<circle cx="203.30" cy="241.50" r="1.85" fill="#b01b3e" stroke="#6a0e24" stroke-width="0.6"/>
<circle cx="206.30" cy="242.70" r="1.85" fill="#b01b3e" stroke="#6a0e24" stroke-width="0.6"/>
<circle cx="209.90" cy="243.30" r="1.85" fill="#b01b3e" stroke="#6a0e24" stroke-width="0.6"/>
<circle cx="202.70" cy="246.30" r="1.85" fill="#b01b3e" stroke="#6a0e24" stroke-width="0.6"/>
<circle cx="207.50" cy="246.90" r="1.85" fill="#b01b3e" stroke="#6a0e24" stroke-width="0.6"/>
<circle cx="203.30" cy="250.50" r="1.85" fill="#b01b3e" stroke="#6a0e24" stroke-width="0.6"/>
<circle cx="209.30" cy="249.30" r="1.85" fill="#b01b3e" stroke="#6a0e24" stroke-width="0.6"/>
<circle cx="210.50" cy="249.90" r="1.85" fill="#b01b3e" stroke="#6a0e24" stroke-width="0.6"/>
<g stroke="#3a3a3a" stroke-width="0.8" opacity="0.7" fill="none"><path d="M172.88,250.32 H188.88 M180.88,247.36 V253.29 M177.38,247.36 H184.38 M177.38,253.29 H184.38"/></g>
<g stroke="#3a3a3a" stroke-width="0.8" opacity="0.7" fill="none"><path d="M198.11,239.89 H214.11 M206.11,235.36 V244.41 M202.61,235.36 H209.61 M202.61,244.41 H209.61"/></g>
<line x1="165.50" y1="199.40" x2="165.50" y2="283.00" stroke="#2b2b2b" stroke-width="1.1"/>
<line x1="165.00" y1="282.50" x2="220.00" y2="282.50" stroke="#2b2b2b" stroke-width="1.1"/>
<line x1="162.20" y1="278.50" x2="165.50" y2="278.50" stroke="#2b2b2b" stroke-width="1"/>
<text transform="translate(159.20,280.70)" font-size="6.9" text-anchor="end" font-weight="normal" fill="#3a3a3a">0</text>
<line x1="162.20" y1="263.50" x2="165.50" y2="263.50" stroke="#2b2b2b" stroke-width="1"/>
<text transform="translate(159.20,265.52)" font-size="6.9" text-anchor="end" font-weight="normal" fill="#3a3a3a">10</text>
<line x1="162.20" y1="247.50" x2="165.50" y2="247.50" stroke="#2b2b2b" stroke-width="1"/>
<text transform="translate(159.20,250.34)" font-size="6.9" text-anchor="end" font-weight="normal" fill="#3a3a3a">20</text>
<line x1="162.20" y1="232.50" x2="165.50" y2="232.50" stroke="#2b2b2b" stroke-width="1"/>
<text transform="translate(159.20,235.16)" font-size="6.9" text-anchor="end" font-weight="normal" fill="#3a3a3a">30</text>
<line x1="162.20" y1="217.50" x2="165.50" y2="217.50" stroke="#2b2b2b" stroke-width="1"/>
<text transform="translate(159.20,219.98)" font-size="6.9" text-anchor="end" font-weight="normal" fill="#3a3a3a">40</text>
<line x1="162.20" y1="202.50" x2="165.50" y2="202.50" stroke="#2b2b2b" stroke-width="1"/>
<text transform="translate(159.20,204.80)" font-size="6.9" text-anchor="end" font-weight="normal" fill="#3a3a3a">50</text>
<line x1="181.50" y1="282.50" x2="181.50" y2="285.50" stroke="#2b2b2b" stroke-width="1"/>
<line x1="206.50" y1="282.50" x2="206.50" y2="285.50" stroke="#2b2b2b" stroke-width="1"/>
<text transform="translate(181.30,294.40) scale(0.86,1)" font-size="7.4" text-anchor="middle" font-weight="normal" fill="#333" stroke="#333" stroke-width="0.06">Untrau</text>
<text transform="translate(206.80,294.40) scale(0.86,1)" font-size="7.4" text-anchor="middle" font-weight="normal" fill="#333" stroke="#333" stroke-width="0.06">Trau</text>
<text transform="translate(145.83,240.35) rotate(-90) scale(0.77,1)" font-size="8.0" text-anchor="middle" font-weight="normal" fill="#2e2e2e" stroke="#2e2e2e" stroke-width="0.2">Lag time (min)</text>
<path d="M181.30,237.30 L181.30,221.20 L206.80,221.20 L206.80,224.20" fill="none" stroke="#777" stroke-width="0.9"/>
<text x="193.40" y="218.10" font-size="6.6" text-anchor="middle" fill="#3a3a3a"><tspan font-style="italic">P</tspan> < .0001</text>
<circle cx="283.40" cy="226.80" r="1.85" fill="#1b4d7c" stroke="#0b2642" stroke-width="0.6"/>
<circle cx="286.00" cy="230.00" r="1.85" fill="#1b4d7c" stroke="#0b2642" stroke-width="0.6"/>
<circle cx="284.00" cy="234.50" r="1.85" fill="#1b4d7c" stroke="#0b2642" stroke-width="0.6"/>
<circle cx="286.60" cy="234.50" r="1.85" fill="#1b4d7c" stroke="#0b2642" stroke-width="0.6"/>
<circle cx="278.90" cy="240.90" r="1.85" fill="#1b4d7c" stroke="#0b2642" stroke-width="0.6"/>
<circle cx="282.80" cy="241.50" r="1.85" fill="#1b4d7c" stroke="#0b2642" stroke-width="0.6"/>
<circle cx="286.60" cy="241.50" r="1.85" fill="#1b4d7c" stroke="#0b2642" stroke-width="0.6"/>
<circle cx="290.40" cy="241.50" r="1.85" fill="#1b4d7c" stroke="#0b2642" stroke-width="0.6"/>
<circle cx="292.40" cy="239.60" r="1.85" fill="#1b4d7c" stroke="#0b2642" stroke-width="0.6"/>
<circle cx="277.70" cy="243.40" r="1.85" fill="#1b4d7c" stroke="#0b2642" stroke-width="0.6"/>
<circle cx="284.70" cy="250.40" r="1.85" fill="#1b4d7c" stroke="#0b2642" stroke-width="0.6"/>
<circle cx="284.70" cy="256.20" r="1.85" fill="#1b4d7c" stroke="#0b2642" stroke-width="0.6"/>
<circle cx="285.30" cy="265.10" r="1.85" fill="#1b4d7c" stroke="#0b2642" stroke-width="0.6"/>
<circle cx="283.40" cy="268.30" r="1.85" fill="#1b4d7c" stroke="#0b2642" stroke-width="0.6"/>
<circle cx="309.60" cy="244.70" r="1.85" fill="#b01b3e" stroke="#6a0e24" stroke-width="0.6"/>
<circle cx="312.80" cy="247.90" r="1.85" fill="#b01b3e" stroke="#6a0e24" stroke-width="0.6"/>
<circle cx="309.60" cy="251.70" r="1.85" fill="#b01b3e" stroke="#6a0e24" stroke-width="0.6"/>
<circle cx="312.80" cy="255.60" r="1.85" fill="#b01b3e" stroke="#6a0e24" stroke-width="0.6"/>
<circle cx="303.80" cy="257.50" r="1.85" fill="#b01b3e" stroke="#6a0e24" stroke-width="0.6"/>
<circle cx="307.70" cy="258.70" r="1.85" fill="#b01b3e" stroke="#6a0e24" stroke-width="0.6"/>
<circle cx="310.90" cy="258.10" r="1.85" fill="#b01b3e" stroke="#6a0e24" stroke-width="0.6"/>
<circle cx="314.70" cy="260.00" r="1.85" fill="#b01b3e" stroke="#6a0e24" stroke-width="0.6"/>
<circle cx="303.20" cy="261.30" r="1.85" fill="#b01b3e" stroke="#6a0e24" stroke-width="0.6"/>
<circle cx="307.00" cy="261.30" r="1.85" fill="#b01b3e" stroke="#6a0e24" stroke-width="0.6"/>
<circle cx="310.90" cy="262.60" r="1.85" fill="#b01b3e" stroke="#6a0e24" stroke-width="0.6"/>
<circle cx="316.00" cy="262.60" r="1.85" fill="#b01b3e" stroke="#6a0e24" stroke-width="0.6"/>
<circle cx="307.00" cy="266.40" r="1.85" fill="#b01b3e" stroke="#6a0e24" stroke-width="0.6"/>
<circle cx="304.50" cy="270.20" r="1.85" fill="#b01b3e" stroke="#6a0e24" stroke-width="0.6"/>
<circle cx="310.90" cy="269.60" r="1.85" fill="#b01b3e" stroke="#6a0e24" stroke-width="0.6"/>
<circle cx="314.10" cy="270.20" r="1.85" fill="#b01b3e" stroke="#6a0e24" stroke-width="0.6"/>
<g stroke="#3a3a3a" stroke-width="0.8" opacity="0.7" fill="none"><path d="M276.78,243.87 H292.78 M284.78,236.80 V250.94 M281.28,236.80 H288.28 M281.28,250.94 H288.28"/></g>
<g stroke="#3a3a3a" stroke-width="0.8" opacity="0.7" fill="none"><path d="M301.72,259.90 H317.72 M309.72,255.56 V264.24 M306.22,255.56 H313.22 M306.22,264.24 H313.22"/></g>
<line x1="268.50" y1="201.00" x2="268.50" y2="283.00" stroke="#2b2b2b" stroke-width="1.1"/>
<line x1="268.00" y1="282.50" x2="322.00" y2="282.50" stroke="#2b2b2b" stroke-width="1.1"/>
<line x1="265.20" y1="278.50" x2="268.50" y2="278.50" stroke="#2b2b2b" stroke-width="1"/>
<text transform="translate(262.20,280.70)" font-size="6.9" text-anchor="end" font-weight="normal" fill="#3a3a3a">0</text>
<line x1="265.20" y1="263.50" x2="268.50" y2="263.50" stroke="#2b2b2b" stroke-width="1"/>
<text transform="translate(262.20,265.84)" font-size="6.9" text-anchor="end" font-weight="normal" fill="#3a3a3a">300</text>
<line x1="265.20" y1="248.50" x2="268.50" y2="248.50" stroke="#2b2b2b" stroke-width="1"/>
<text transform="translate(262.20,250.98)" font-size="6.9" text-anchor="end" font-weight="normal" fill="#3a3a3a">600</text>
<line x1="265.20" y1="233.50" x2="268.50" y2="233.50" stroke="#2b2b2b" stroke-width="1"/>
<text transform="translate(262.20,236.12)" font-size="6.9" text-anchor="end" font-weight="normal" fill="#3a3a3a">900</text>
<line x1="265.20" y1="218.50" x2="268.50" y2="218.50" stroke="#2b2b2b" stroke-width="1"/>
<text transform="translate(262.20,221.26)" font-size="6.9" text-anchor="end" font-weight="normal" fill="#3a3a3a">1200</text>
<line x1="265.20" y1="204.50" x2="268.50" y2="204.50" stroke="#2b2b2b" stroke-width="1"/>
<text transform="translate(262.20,206.40)" font-size="6.9" text-anchor="end" font-weight="normal" fill="#3a3a3a">1500</text>
<line x1="284.50" y1="282.50" x2="284.50" y2="285.50" stroke="#2b2b2b" stroke-width="1"/>
<line x1="309.50" y1="282.50" x2="309.50" y2="285.50" stroke="#2b2b2b" stroke-width="1"/>
<text transform="translate(284.60,294.40) scale(0.86,1)" font-size="7.4" text-anchor="middle" font-weight="normal" fill="#333" stroke="#333" stroke-width="0.06">Untrau</text>
<text transform="translate(309.50,294.40) scale(0.86,1)" font-size="7.4" text-anchor="middle" font-weight="normal" fill="#333" stroke="#333" stroke-width="0.06">Trau</text>
<text transform="translate(241.15,241.15) rotate(-90) scale(0.77,1)" font-size="8.0" text-anchor="middle" font-weight="normal" fill="#2e2e2e" stroke="#2e2e2e" stroke-width="0.2">ETP (nM min)</text>
<path d="M284.60,223.00 L284.60,218.90 L309.50,218.90 L309.50,240.20" fill="none" stroke="#777" stroke-width="0.9"/>
<text x="296.20" y="215.70" font-size="6.6" text-anchor="middle" fill="#3a3a3a"><tspan font-style="italic">P</tspan> < .0001</text>
<circle cx="381.70" cy="222.40" r="1.85" fill="#1b4d7c" stroke="#0b2642" stroke-width="0.6"/>
<circle cx="383.00" cy="230.00" r="1.85" fill="#1b4d7c" stroke="#0b2642" stroke-width="0.6"/>
<circle cx="379.80" cy="233.80" r="1.85" fill="#1b4d7c" stroke="#0b2642" stroke-width="0.6"/>
<circle cx="384.90" cy="238.30" r="1.85" fill="#1b4d7c" stroke="#0b2642" stroke-width="0.6"/>
<circle cx="375.30" cy="240.90" r="1.85" fill="#1b4d7c" stroke="#0b2642" stroke-width="0.6"/>
<circle cx="381.00" cy="241.50" r="1.85" fill="#1b4d7c" stroke="#0b2642" stroke-width="0.6"/>
<circle cx="378.50" cy="244.10" r="1.85" fill="#1b4d7c" stroke="#0b2642" stroke-width="0.6"/>
<circle cx="383.00" cy="244.70" r="1.85" fill="#1b4d7c" stroke="#0b2642" stroke-width="0.6"/>
<circle cx="388.10" cy="244.10" r="1.85" fill="#1b4d7c" stroke="#0b2642" stroke-width="0.6"/>
<circle cx="374.70" cy="247.30" r="1.85" fill="#1b4d7c" stroke="#0b2642" stroke-width="0.6"/>
<circle cx="379.10" cy="247.90" r="1.85" fill="#1b4d7c" stroke="#0b2642" stroke-width="0.6"/>
<circle cx="383.60" cy="247.90" r="1.85" fill="#1b4d7c" stroke="#0b2642" stroke-width="0.6"/>
<circle cx="386.20" cy="246.60" r="1.85" fill="#1b4d7c" stroke="#0b2642" stroke-width="0.6"/>
<circle cx="381.70" cy="254.30" r="1.85" fill="#1b4d7c" stroke="#0b2642" stroke-width="0.6"/>
<circle cx="384.90" cy="258.10" r="1.85" fill="#1b4d7c" stroke="#0b2642" stroke-width="0.6"/>
<circle cx="378.50" cy="260.70" r="1.85" fill="#1b4d7c" stroke="#0b2642" stroke-width="0.6"/>
<circle cx="406.60" cy="247.30" r="1.85" fill="#b01b3e" stroke="#6a0e24" stroke-width="0.6"/>
<circle cx="409.80" cy="249.20" r="1.85" fill="#b01b3e" stroke="#6a0e24" stroke-width="0.6"/>
<circle cx="406.00" cy="252.40" r="1.85" fill="#b01b3e" stroke="#6a0e24" stroke-width="0.6"/>
<circle cx="409.80" cy="256.20" r="1.85" fill="#b01b3e" stroke="#6a0e24" stroke-width="0.6"/>
<circle cx="400.80" cy="258.70" r="1.85" fill="#b01b3e" stroke="#6a0e24" stroke-width="0.6"/>
<circle cx="404.70" cy="259.40" r="1.85" fill="#b01b3e" stroke="#6a0e24" stroke-width="0.6"/>
<circle cx="408.50" cy="260.00" r="1.85" fill="#b01b3e" stroke="#6a0e24" stroke-width="0.6"/>
<circle cx="412.30" cy="258.70" r="1.85" fill="#b01b3e" stroke="#6a0e24" stroke-width="0.6"/>
<circle cx="400.20" cy="265.10" r="1.85" fill="#b01b3e" stroke="#6a0e24" stroke-width="0.6"/>
<circle cx="404.00" cy="266.40" r="1.85" fill="#b01b3e" stroke="#6a0e24" stroke-width="0.6"/>
<circle cx="407.90" cy="265.10" r="1.85" fill="#b01b3e" stroke="#6a0e24" stroke-width="0.6"/>
<circle cx="412.30" cy="265.80" r="1.85" fill="#b01b3e" stroke="#6a0e24" stroke-width="0.6"/>
<circle cx="409.10" cy="269.00" r="1.85" fill="#b01b3e" stroke="#6a0e24" stroke-width="0.6"/>
<circle cx="403.40" cy="272.80" r="1.85" fill="#b01b3e" stroke="#6a0e24" stroke-width="0.6"/>
<g stroke="#3a3a3a" stroke-width="0.8" opacity="0.7" fill="none"><path d="M373.50,243.91 H389.50 M381.50,238.21 V249.62 M378.00,238.21 H385.00 M378.00,249.62 H385.00"/></g>
<g stroke="#3a3a3a" stroke-width="0.8" opacity="0.7" fill="none"><path d="M398.81,260.44 H414.81 M406.81,256.12 V264.75 M403.31,256.12 H410.31 M403.31,264.75 H410.31"/></g>
<line x1="365.50" y1="199.70" x2="365.50" y2="283.00" stroke="#2b2b2b" stroke-width="1.1"/>
<line x1="365.00" y1="282.50" x2="420.00" y2="282.50" stroke="#2b2b2b" stroke-width="1.1"/>
<line x1="362.20" y1="278.50" x2="365.50" y2="278.50" stroke="#2b2b2b" stroke-width="1"/>
<text transform="translate(359.20,280.70)" font-size="6.9" text-anchor="end" font-weight="normal" fill="#3a3a3a">0</text>
<line x1="362.20" y1="263.50" x2="365.50" y2="263.50" stroke="#2b2b2b" stroke-width="1"/>
<text transform="translate(359.20,265.58)" font-size="6.9" text-anchor="end" font-weight="normal" fill="#3a3a3a">30</text>
<line x1="362.20" y1="248.50" x2="365.50" y2="248.50" stroke="#2b2b2b" stroke-width="1"/>
<text transform="translate(359.20,250.46)" font-size="6.9" text-anchor="end" font-weight="normal" fill="#3a3a3a">60</text>
<line x1="362.20" y1="232.50" x2="365.50" y2="232.50" stroke="#2b2b2b" stroke-width="1"/>
<text transform="translate(359.20,235.34)" font-size="6.9" text-anchor="end" font-weight="normal" fill="#3a3a3a">90</text>
<line x1="362.20" y1="217.50" x2="365.50" y2="217.50" stroke="#2b2b2b" stroke-width="1"/>
<text transform="translate(359.20,220.22)" font-size="6.9" text-anchor="end" font-weight="normal" fill="#3a3a3a">120</text>
<line x1="362.20" y1="202.50" x2="365.50" y2="202.50" stroke="#2b2b2b" stroke-width="1"/>
<text transform="translate(359.20,205.10)" font-size="6.9" text-anchor="end" font-weight="normal" fill="#3a3a3a">150</text>
<line x1="381.50" y1="282.50" x2="381.50" y2="285.50" stroke="#2b2b2b" stroke-width="1"/>
<line x1="406.50" y1="282.50" x2="406.50" y2="285.50" stroke="#2b2b2b" stroke-width="1"/>
<text transform="translate(381.70,294.40) scale(0.86,1)" font-size="7.4" text-anchor="middle" font-weight="normal" fill="#333" stroke="#333" stroke-width="0.06">Untrau</text>
<text transform="translate(406.60,294.40) scale(0.86,1)" font-size="7.4" text-anchor="middle" font-weight="normal" fill="#333" stroke="#333" stroke-width="0.06">Trau</text>
<text transform="translate(341.99,240.50) rotate(-90) scale(0.77,1)" font-size="8.0" text-anchor="middle" font-weight="normal" fill="#2e2e2e" stroke="#2e2e2e" stroke-width="0.2">Peak (nM)</text>
<path d="M381.70,219.20 L381.70,215.30 L406.60,215.30 L406.60,243.40" fill="none" stroke="#777" stroke-width="0.9"/>
<text x="392.50" y="213.20" font-size="6.6" text-anchor="middle" fill="#3a3a3a"><tspan font-style="italic">P</tspan> < .0001</text>
<circle cx="479.50" cy="234.50" r="1.85" fill="#1b4d7c" stroke="#0b2642" stroke-width="0.6"/>
<circle cx="474.40" cy="236.40" r="1.85" fill="#1b4d7c" stroke="#0b2642" stroke-width="0.6"/>
<circle cx="477.60" cy="238.30" r="1.85" fill="#1b4d7c" stroke="#0b2642" stroke-width="0.6"/>
<circle cx="469.90" cy="243.40" r="1.85" fill="#1b4d7c" stroke="#0b2642" stroke-width="0.6"/>
<circle cx="473.80" cy="242.10" r="1.85" fill="#1b4d7c" stroke="#0b2642" stroke-width="0.6"/>
<circle cx="478.20" cy="241.50" r="1.85" fill="#1b4d7c" stroke="#0b2642" stroke-width="0.6"/>
<circle cx="482.10" cy="242.80" r="1.85" fill="#1b4d7c" stroke="#0b2642" stroke-width="0.6"/>
<circle cx="468.70" cy="245.30" r="1.85" fill="#1b4d7c" stroke="#0b2642" stroke-width="0.6"/>
<circle cx="473.10" cy="246.00" r="1.85" fill="#1b4d7c" stroke="#0b2642" stroke-width="0.6"/>
<circle cx="477.00" cy="246.60" r="1.85" fill="#1b4d7c" stroke="#0b2642" stroke-width="0.6"/>
<circle cx="480.80" cy="246.00" r="1.85" fill="#1b4d7c" stroke="#0b2642" stroke-width="0.6"/>
<circle cx="471.90" cy="249.20" r="1.85" fill="#1b4d7c" stroke="#0b2642" stroke-width="0.6"/>
<circle cx="477.60" cy="249.80" r="1.85" fill="#1b4d7c" stroke="#0b2642" stroke-width="0.6"/>
<circle cx="480.80" cy="249.20" r="1.85" fill="#1b4d7c" stroke="#0b2642" stroke-width="0.6"/>
<circle cx="471.90" cy="252.40" r="1.85" fill="#1b4d7c" stroke="#0b2642" stroke-width="0.6"/>
<circle cx="477.00" cy="251.10" r="1.85" fill="#1b4d7c" stroke="#0b2642" stroke-width="0.6"/>
<circle cx="494.20" cy="217.20" r="1.85" fill="#b01b3e" stroke="#6a0e24" stroke-width="0.6"/>
<circle cx="498.00" cy="219.20" r="1.85" fill="#b01b3e" stroke="#6a0e24" stroke-width="0.6"/>
<circle cx="502.50" cy="219.20" r="1.85" fill="#b01b3e" stroke="#6a0e24" stroke-width="0.6"/>
<circle cx="506.30" cy="219.80" r="1.85" fill="#b01b3e" stroke="#6a0e24" stroke-width="0.6"/>
<circle cx="494.20" cy="220.40" r="1.85" fill="#b01b3e" stroke="#6a0e24" stroke-width="0.6"/>
<circle cx="498.00" cy="223.00" r="1.85" fill="#b01b3e" stroke="#6a0e24" stroke-width="0.6"/>
<circle cx="494.80" cy="228.10" r="1.85" fill="#b01b3e" stroke="#6a0e24" stroke-width="0.6"/>
<circle cx="499.30" cy="229.40" r="1.85" fill="#b01b3e" stroke="#6a0e24" stroke-width="0.6"/>
<circle cx="503.10" cy="228.70" r="1.85" fill="#b01b3e" stroke="#6a0e24" stroke-width="0.6"/>
<circle cx="507.00" cy="227.50" r="1.85" fill="#b01b3e" stroke="#6a0e24" stroke-width="0.6"/>
<circle cx="493.60" cy="231.30" r="1.85" fill="#b01b3e" stroke="#6a0e24" stroke-width="0.6"/>
<circle cx="501.20" cy="231.30" r="1.85" fill="#b01b3e" stroke="#6a0e24" stroke-width="0.6"/>
<circle cx="506.30" cy="231.90" r="1.85" fill="#b01b3e" stroke="#6a0e24" stroke-width="0.6"/>
<circle cx="494.20" cy="235.80" r="1.85" fill="#b01b3e" stroke="#6a0e24" stroke-width="0.6"/>
<circle cx="501.90" cy="237.70" r="1.85" fill="#b01b3e" stroke="#6a0e24" stroke-width="0.6"/>
<circle cx="498.00" cy="240.20" r="1.85" fill="#b01b3e" stroke="#6a0e24" stroke-width="0.6"/>
<g stroke="#3a3a3a" stroke-width="0.8" opacity="0.7" fill="none"><path d="M467.89,244.66 H483.89 M475.89,241.62 V247.70 M472.39,241.62 H479.39 M472.39,247.70 H479.39"/></g>
<g stroke="#3a3a3a" stroke-width="0.8" opacity="0.7" fill="none"><path d="M491.54,227.54 H507.54 M499.54,223.40 V231.68 M496.04,223.40 H503.04 M496.04,231.68 H503.04"/></g>
<line x1="459.50" y1="201.00" x2="459.50" y2="283.00" stroke="#2b2b2b" stroke-width="1.1"/>
<line x1="459.00" y1="282.50" x2="514.00" y2="282.50" stroke="#2b2b2b" stroke-width="1.1"/>
<line x1="456.20" y1="278.50" x2="459.50" y2="278.50" stroke="#2b2b2b" stroke-width="1"/>
<text transform="translate(453.20,280.70)" font-size="6.9" text-anchor="end" font-weight="normal" fill="#3a3a3a">0</text>
<line x1="456.20" y1="263.50" x2="459.50" y2="263.50" stroke="#2b2b2b" stroke-width="1"/>
<text transform="translate(453.20,265.84)" font-size="6.9" text-anchor="end" font-weight="normal" fill="#3a3a3a">10</text>
<line x1="456.20" y1="248.50" x2="459.50" y2="248.50" stroke="#2b2b2b" stroke-width="1"/>
<text transform="translate(453.20,250.98)" font-size="6.9" text-anchor="end" font-weight="normal" fill="#3a3a3a">20</text>
<line x1="456.20" y1="233.50" x2="459.50" y2="233.50" stroke="#2b2b2b" stroke-width="1"/>
<text transform="translate(453.20,236.12)" font-size="6.9" text-anchor="end" font-weight="normal" fill="#3a3a3a">30</text>
<line x1="456.20" y1="218.50" x2="459.50" y2="218.50" stroke="#2b2b2b" stroke-width="1"/>
<text transform="translate(453.20,221.26)" font-size="6.9" text-anchor="end" font-weight="normal" fill="#3a3a3a">40</text>
<line x1="456.20" y1="204.50" x2="459.50" y2="204.50" stroke="#2b2b2b" stroke-width="1"/>
<text transform="translate(453.20,206.40)" font-size="6.9" text-anchor="end" font-weight="normal" fill="#3a3a3a">50</text>
<line x1="475.50" y1="282.50" x2="475.50" y2="285.50" stroke="#2b2b2b" stroke-width="1"/>
<line x1="500.50" y1="282.50" x2="500.50" y2="285.50" stroke="#2b2b2b" stroke-width="1"/>
<text transform="translate(475.60,294.40) scale(0.86,1)" font-size="7.4" text-anchor="middle" font-weight="normal" fill="#333" stroke="#333" stroke-width="0.06">Untrau</text>
<text transform="translate(500.20,294.40) scale(0.86,1)" font-size="7.4" text-anchor="middle" font-weight="normal" fill="#333" stroke="#333" stroke-width="0.06">Trau</text>
<text transform="translate(439.83,241.15) rotate(-90) scale(0.77,1)" font-size="8.0" text-anchor="middle" font-weight="normal" fill="#2e2e2e" stroke="#2e2e2e" stroke-width="0.2">Time to peak (min)</text>
<path d="M475.60,230.70 L475.60,211.50 L500.20,211.50 L500.20,215.30" fill="none" stroke="#777" stroke-width="0.9"/>
<text x="487.20" y="208.40" font-size="6.6" text-anchor="middle" fill="#3a3a3a"><tspan font-style="italic">P</tspan> < .0001</text>
<circle cx="180.50" cy="390.00" r="1.85" fill="#1b4d7c" stroke="#0b2642" stroke-width="0.6"/>
<circle cx="180.50" cy="392.40" r="1.85" fill="#1b4d7c" stroke="#0b2642" stroke-width="0.6"/>
<circle cx="180.50" cy="395.60" r="1.85" fill="#1b4d7c" stroke="#0b2642" stroke-width="0.6"/>
<circle cx="180.50" cy="406.20" r="1.85" fill="#1b4d7c" stroke="#0b2642" stroke-width="0.6"/>
<circle cx="183.60" cy="407.40" r="1.85" fill="#1b4d7c" stroke="#0b2642" stroke-width="0.6"/>
<circle cx="176.70" cy="411.80" r="1.85" fill="#1b4d7c" stroke="#0b2642" stroke-width="0.6"/>
<circle cx="180.50" cy="412.40" r="1.85" fill="#1b4d7c" stroke="#0b2642" stroke-width="0.6"/>
<circle cx="184.20" cy="411.80" r="1.85" fill="#1b4d7c" stroke="#0b2642" stroke-width="0.6"/>
<circle cx="173.60" cy="418.00" r="1.85" fill="#1b4d7c" stroke="#0b2642" stroke-width="0.6"/>
<circle cx="177.40" cy="418.60" r="1.85" fill="#1b4d7c" stroke="#0b2642" stroke-width="0.6"/>
<circle cx="180.50" cy="418.60" r="1.85" fill="#1b4d7c" stroke="#0b2642" stroke-width="0.6"/>
<circle cx="183.60" cy="418.60" r="1.85" fill="#1b4d7c" stroke="#0b2642" stroke-width="0.6"/>
<circle cx="187.30" cy="418.00" r="1.85" fill="#1b4d7c" stroke="#0b2642" stroke-width="0.6"/>
<circle cx="180.50" cy="420.50" r="1.85" fill="#1b4d7c" stroke="#0b2642" stroke-width="0.6"/>
<circle cx="176.70" cy="427.40" r="1.85" fill="#1b4d7c" stroke="#0b2642" stroke-width="0.6"/>
<circle cx="180.50" cy="427.40" r="1.85" fill="#1b4d7c" stroke="#0b2642" stroke-width="0.6"/>
<circle cx="184.20" cy="427.40" r="1.85" fill="#1b4d7c" stroke="#0b2642" stroke-width="0.6"/>
<circle cx="203.50" cy="416.80" r="1.85" fill="#b01b3e" stroke="#6a0e24" stroke-width="0.6"/>
<circle cx="207.30" cy="417.40" r="1.85" fill="#b01b3e" stroke="#6a0e24" stroke-width="0.6"/>
<circle cx="209.80" cy="419.30" r="1.85" fill="#b01b3e" stroke="#6a0e24" stroke-width="0.6"/>
<circle cx="201.00" cy="421.10" r="1.85" fill="#b01b3e" stroke="#6a0e24" stroke-width="0.6"/>
<circle cx="205.40" cy="421.10" r="1.85" fill="#b01b3e" stroke="#6a0e24" stroke-width="0.6"/>
<circle cx="210.40" cy="421.70" r="1.85" fill="#b01b3e" stroke="#6a0e24" stroke-width="0.6"/>
<circle cx="205.40" cy="424.20" r="1.85" fill="#b01b3e" stroke="#6a0e24" stroke-width="0.6"/>
<circle cx="199.80" cy="431.10" r="1.85" fill="#b01b3e" stroke="#6a0e24" stroke-width="0.6"/>
<circle cx="203.50" cy="431.10" r="1.85" fill="#b01b3e" stroke="#6a0e24" stroke-width="0.6"/>
<circle cx="207.30" cy="429.90" r="1.85" fill="#b01b3e" stroke="#6a0e24" stroke-width="0.6"/>
<circle cx="211.00" cy="431.10" r="1.85" fill="#b01b3e" stroke="#6a0e24" stroke-width="0.6"/>
<circle cx="199.20" cy="434.20" r="1.85" fill="#b01b3e" stroke="#6a0e24" stroke-width="0.6"/>
<circle cx="202.90" cy="433.60" r="1.85" fill="#b01b3e" stroke="#6a0e24" stroke-width="0.6"/>
<circle cx="207.90" cy="434.20" r="1.85" fill="#b01b3e" stroke="#6a0e24" stroke-width="0.6"/>
<circle cx="212.30" cy="433.60" r="1.85" fill="#b01b3e" stroke="#6a0e24" stroke-width="0.6"/>
<g stroke="#3a3a3a" stroke-width="0.8" opacity="0.7" fill="none"><path d="M172.66,413.06 H188.66 M180.66,406.30 V419.83 M177.16,406.30 H184.16 M177.16,419.83 H184.16"/></g>
<g stroke="#3a3a3a" stroke-width="0.8" opacity="0.7" fill="none"><path d="M197.78,426.69 H213.78 M205.78,422.87 V430.52 M202.28,422.87 H209.28 M202.28,430.52 H209.28"/></g>
<line x1="165.50" y1="367.80" x2="165.50" y2="450.00" stroke="#2b2b2b" stroke-width="1.1"/>
<line x1="165.00" y1="449.50" x2="220.00" y2="449.50" stroke="#2b2b2b" stroke-width="1.1"/>
<line x1="162.20" y1="446.50" x2="165.50" y2="446.50" stroke="#2b2b2b" stroke-width="1"/>
<text transform="translate(159.20,448.40)" font-size="6.9" text-anchor="end" font-weight="normal" fill="#3a3a3a">0</text>
<line x1="162.20" y1="427.50" x2="165.50" y2="427.50" stroke="#2b2b2b" stroke-width="1"/>
<text transform="translate(159.20,429.60)" font-size="6.9" text-anchor="end" font-weight="normal" fill="#3a3a3a">10</text>
<line x1="162.20" y1="408.50" x2="165.50" y2="408.50" stroke="#2b2b2b" stroke-width="1"/>
<text transform="translate(159.20,410.80)" font-size="6.9" text-anchor="end" font-weight="normal" fill="#3a3a3a">20</text>
<line x1="162.20" y1="389.50" x2="165.50" y2="389.50" stroke="#2b2b2b" stroke-width="1"/>
<text transform="translate(159.20,392.00)" font-size="6.9" text-anchor="end" font-weight="normal" fill="#3a3a3a">30</text>
<line x1="162.20" y1="370.50" x2="165.50" y2="370.50" stroke="#2b2b2b" stroke-width="1"/>
<text transform="translate(159.20,373.20)" font-size="6.9" text-anchor="end" font-weight="normal" fill="#3a3a3a">40</text>
<line x1="181.50" y1="449.50" x2="181.50" y2="452.50" stroke="#2b2b2b" stroke-width="1"/>
<line x1="206.50" y1="449.50" x2="206.50" y2="452.50" stroke="#2b2b2b" stroke-width="1"/>
<text transform="translate(181.30,461.60) scale(0.86,1)" font-size="7.4" text-anchor="middle" font-weight="normal" fill="#333" stroke="#333" stroke-width="0.06">Untrau</text>
<text transform="translate(206.80,461.60) scale(0.86,1)" font-size="7.4" text-anchor="middle" font-weight="normal" fill="#333" stroke="#333" stroke-width="0.06">Trau</text>
<text transform="translate(145.83,408.40) rotate(-90) scale(0.77,1)" font-size="8.0" text-anchor="middle" font-weight="normal" fill="#2e2e2e" stroke="#2e2e2e" stroke-width="0.2">Lag time (min)</text>
<path d="M181.30,384.30 L181.30,380.60 L206.80,380.60 L206.80,409.90" fill="none" stroke="#777" stroke-width="0.9"/>
<text x="192.60" y="378.50" font-size="6.6" text-anchor="middle" fill="#3a3a3a"><tspan font-style="italic">P</tspan> < .0001</text>
<circle cx="278.00" cy="417.40" r="1.85" fill="#1b4d7c" stroke="#0b2642" stroke-width="0.6"/>
<circle cx="282.60" cy="416.70" r="1.85" fill="#1b4d7c" stroke="#0b2642" stroke-width="0.6"/>
<circle cx="287.20" cy="416.10" r="1.85" fill="#1b4d7c" stroke="#0b2642" stroke-width="0.6"/>
<circle cx="290.60" cy="418.00" r="1.85" fill="#1b4d7c" stroke="#0b2642" stroke-width="0.6"/>
<circle cx="276.00" cy="420.00" r="1.85" fill="#1b4d7c" stroke="#0b2642" stroke-width="0.6"/>
<circle cx="280.60" cy="420.70" r="1.85" fill="#1b4d7c" stroke="#0b2642" stroke-width="0.6"/>
<circle cx="285.30" cy="420.70" r="1.85" fill="#1b4d7c" stroke="#0b2642" stroke-width="0.6"/>
<circle cx="289.90" cy="420.70" r="1.85" fill="#1b4d7c" stroke="#0b2642" stroke-width="0.6"/>
<circle cx="276.60" cy="423.40" r="1.85" fill="#1b4d7c" stroke="#0b2642" stroke-width="0.6"/>
<circle cx="281.30" cy="424.00" r="1.85" fill="#1b4d7c" stroke="#0b2642" stroke-width="0.6"/>
<circle cx="286.60" cy="423.40" r="1.85" fill="#1b4d7c" stroke="#0b2642" stroke-width="0.6"/>
<circle cx="290.60" cy="423.40" r="1.85" fill="#1b4d7c" stroke="#0b2642" stroke-width="0.6"/>
<circle cx="279.30" cy="426.70" r="1.85" fill="#1b4d7c" stroke="#0b2642" stroke-width="0.6"/>
<circle cx="283.90" cy="426.70" r="1.85" fill="#1b4d7c" stroke="#0b2642" stroke-width="0.6"/>
<circle cx="288.60" cy="426.00" r="1.85" fill="#1b4d7c" stroke="#0b2642" stroke-width="0.6"/>
<circle cx="281.30" cy="429.30" r="1.85" fill="#1b4d7c" stroke="#0b2642" stroke-width="0.6"/>
<circle cx="307.80" cy="394.80" r="1.85" fill="#b01b3e" stroke="#6a0e24" stroke-width="0.6"/>
<circle cx="301.80" cy="402.10" r="1.85" fill="#b01b3e" stroke="#6a0e24" stroke-width="0.6"/>
<circle cx="305.80" cy="402.10" r="1.85" fill="#b01b3e" stroke="#6a0e24" stroke-width="0.6"/>
<circle cx="309.80" cy="404.80" r="1.85" fill="#b01b3e" stroke="#6a0e24" stroke-width="0.6"/>
<circle cx="301.80" cy="405.50" r="1.85" fill="#b01b3e" stroke="#6a0e24" stroke-width="0.6"/>
<circle cx="311.80" cy="406.10" r="1.85" fill="#b01b3e" stroke="#6a0e24" stroke-width="0.6"/>
<circle cx="304.50" cy="408.10" r="1.85" fill="#b01b3e" stroke="#6a0e24" stroke-width="0.6"/>
<circle cx="309.10" cy="408.80" r="1.85" fill="#b01b3e" stroke="#6a0e24" stroke-width="0.6"/>
<circle cx="313.80" cy="409.40" r="1.85" fill="#b01b3e" stroke="#6a0e24" stroke-width="0.6"/>
<circle cx="301.80" cy="410.80" r="1.85" fill="#b01b3e" stroke="#6a0e24" stroke-width="0.6"/>
<circle cx="307.10" cy="411.40" r="1.85" fill="#b01b3e" stroke="#6a0e24" stroke-width="0.6"/>
<circle cx="312.40" cy="410.80" r="1.85" fill="#b01b3e" stroke="#6a0e24" stroke-width="0.6"/>
<circle cx="307.80" cy="414.70" r="1.85" fill="#b01b3e" stroke="#6a0e24" stroke-width="0.6"/>
<circle cx="304.50" cy="419.40" r="1.85" fill="#b01b3e" stroke="#6a0e24" stroke-width="0.6"/>
<circle cx="308.50" cy="419.40" r="1.85" fill="#b01b3e" stroke="#6a0e24" stroke-width="0.6"/>
<circle cx="311.80" cy="419.40" r="1.85" fill="#b01b3e" stroke="#6a0e24" stroke-width="0.6"/>
<g stroke="#3a3a3a" stroke-width="0.8" opacity="0.7" fill="none"><path d="M275.65,422.08 H291.65 M283.65,419.79 V424.36 M280.15,419.79 H287.15 M280.15,424.36 H287.15"/></g>
<g stroke="#3a3a3a" stroke-width="0.8" opacity="0.7" fill="none"><path d="M299.51,409.23 H315.51 M307.51,405.24 V413.21 M304.01,405.24 H311.01 M304.01,413.21 H311.01"/></g>
<line x1="268.50" y1="368.30" x2="268.50" y2="450.00" stroke="#2b2b2b" stroke-width="1.1"/>
<line x1="268.00" y1="449.50" x2="322.00" y2="449.50" stroke="#2b2b2b" stroke-width="1.1"/>
<line x1="265.20" y1="446.50" x2="268.50" y2="446.50" stroke="#2b2b2b" stroke-width="1"/>
<text transform="translate(262.20,448.40)" font-size="6.9" text-anchor="end" font-weight="normal" fill="#3a3a3a">0</text>
<line x1="265.20" y1="431.50" x2="268.50" y2="431.50" stroke="#2b2b2b" stroke-width="1"/>
<text transform="translate(262.20,433.46)" font-size="6.9" text-anchor="end" font-weight="normal" fill="#3a3a3a">300</text>
<line x1="265.20" y1="416.50" x2="268.50" y2="416.50" stroke="#2b2b2b" stroke-width="1"/>
<text transform="translate(262.20,418.52)" font-size="6.9" text-anchor="end" font-weight="normal" fill="#3a3a3a">600</text>
<line x1="265.20" y1="401.50" x2="268.50" y2="401.50" stroke="#2b2b2b" stroke-width="1"/>
<text transform="translate(262.20,403.58)" font-size="6.9" text-anchor="end" font-weight="normal" fill="#3a3a3a">900</text>
<line x1="265.20" y1="386.50" x2="268.50" y2="386.50" stroke="#2b2b2b" stroke-width="1"/>
<text transform="translate(262.20,388.64)" font-size="6.9" text-anchor="end" font-weight="normal" fill="#3a3a3a">1200</text>
<line x1="265.20" y1="371.50" x2="268.50" y2="371.50" stroke="#2b2b2b" stroke-width="1"/>
<text transform="translate(262.20,373.70)" font-size="6.9" text-anchor="end" font-weight="normal" fill="#3a3a3a">1500</text>
<line x1="284.50" y1="449.50" x2="284.50" y2="452.50" stroke="#2b2b2b" stroke-width="1"/>
<line x1="309.50" y1="449.50" x2="309.50" y2="452.50" stroke="#2b2b2b" stroke-width="1"/>
<text transform="translate(284.60,461.60) scale(0.86,1)" font-size="7.4" text-anchor="middle" font-weight="normal" fill="#333" stroke="#333" stroke-width="0.06">Untrau</text>
<text transform="translate(309.50,461.60) scale(0.86,1)" font-size="7.4" text-anchor="middle" font-weight="normal" fill="#333" stroke="#333" stroke-width="0.06">Trau</text>
<text transform="translate(241.15,408.65) rotate(-90) scale(0.77,1)" font-size="8.0" text-anchor="middle" font-weight="normal" fill="#2e2e2e" stroke="#2e2e2e" stroke-width="0.2">ETP (nM min)</text>
<path d="M284.60,412.10 L284.60,386.50 L309.50,386.50 L309.50,389.50" fill="none" stroke="#777" stroke-width="0.9"/>
<text x="295.50" y="384.50" font-size="6.6" text-anchor="middle" fill="#3a3a3a"><tspan font-style="italic">P</tspan> < .0001</text>
<circle cx="375.60" cy="409.40" r="1.85" fill="#1b4d7c" stroke="#0b2642" stroke-width="0.6"/>
<circle cx="379.60" cy="409.40" r="1.85" fill="#1b4d7c" stroke="#0b2642" stroke-width="0.6"/>
<circle cx="383.60" cy="410.10" r="1.85" fill="#1b4d7c" stroke="#0b2642" stroke-width="0.6"/>
<circle cx="388.20" cy="410.80" r="1.85" fill="#1b4d7c" stroke="#0b2642" stroke-width="0.6"/>
<circle cx="375.00" cy="412.10" r="1.85" fill="#1b4d7c" stroke="#0b2642" stroke-width="0.6"/>
<circle cx="378.90" cy="412.70" r="1.85" fill="#1b4d7c" stroke="#0b2642" stroke-width="0.6"/>
<circle cx="382.30" cy="413.40" r="1.85" fill="#1b4d7c" stroke="#0b2642" stroke-width="0.6"/>
<circle cx="386.90" cy="412.70" r="1.85" fill="#1b4d7c" stroke="#0b2642" stroke-width="0.6"/>
<circle cx="377.60" cy="415.40" r="1.85" fill="#1b4d7c" stroke="#0b2642" stroke-width="0.6"/>
<circle cx="381.60" cy="416.10" r="1.85" fill="#1b4d7c" stroke="#0b2642" stroke-width="0.6"/>
<circle cx="379.60" cy="418.70" r="1.85" fill="#1b4d7c" stroke="#0b2642" stroke-width="0.6"/>
<circle cx="383.60" cy="420.00" r="1.85" fill="#1b4d7c" stroke="#0b2642" stroke-width="0.6"/>
<circle cx="378.30" cy="422.70" r="1.85" fill="#1b4d7c" stroke="#0b2642" stroke-width="0.6"/>
<circle cx="404.10" cy="390.20" r="1.85" fill="#b01b3e" stroke="#6a0e24" stroke-width="0.6"/>
<circle cx="408.80" cy="390.90" r="1.85" fill="#b01b3e" stroke="#6a0e24" stroke-width="0.6"/>
<circle cx="404.80" cy="394.20" r="1.85" fill="#b01b3e" stroke="#6a0e24" stroke-width="0.6"/>
<circle cx="408.80" cy="397.50" r="1.85" fill="#b01b3e" stroke="#6a0e24" stroke-width="0.6"/>
<circle cx="404.80" cy="399.50" r="1.85" fill="#b01b3e" stroke="#6a0e24" stroke-width="0.6"/>
<circle cx="399.50" cy="400.80" r="1.85" fill="#b01b3e" stroke="#6a0e24" stroke-width="0.6"/>
<circle cx="400.80" cy="402.80" r="1.85" fill="#b01b3e" stroke="#6a0e24" stroke-width="0.6"/>
<circle cx="404.80" cy="404.10" r="1.85" fill="#b01b3e" stroke="#6a0e24" stroke-width="0.6"/>
<circle cx="409.40" cy="403.50" r="1.85" fill="#b01b3e" stroke="#6a0e24" stroke-width="0.6"/>
<circle cx="413.40" cy="402.80" r="1.85" fill="#b01b3e" stroke="#6a0e24" stroke-width="0.6"/>
<circle cx="408.80" cy="408.10" r="1.85" fill="#b01b3e" stroke="#6a0e24" stroke-width="0.6"/>
<circle cx="400.20" cy="410.10" r="1.85" fill="#b01b3e" stroke="#6a0e24" stroke-width="0.6"/>
<circle cx="404.80" cy="411.40" r="1.85" fill="#b01b3e" stroke="#6a0e24" stroke-width="0.6"/>
<circle cx="409.40" cy="412.70" r="1.85" fill="#b01b3e" stroke="#6a0e24" stroke-width="0.6"/>
<circle cx="413.40" cy="412.10" r="1.85" fill="#b01b3e" stroke="#6a0e24" stroke-width="0.6"/>
<circle cx="400.20" cy="414.70" r="1.85" fill="#b01b3e" stroke="#6a0e24" stroke-width="0.6"/>
<g stroke="#3a3a3a" stroke-width="0.8" opacity="0.7" fill="none"><path d="M372.83,414.12 H388.83 M380.83,411.67 V416.56 M377.33,411.67 H384.33 M377.33,416.56 H384.33"/></g>
<g stroke="#3a3a3a" stroke-width="0.8" opacity="0.7" fill="none"><path d="M398.00,403.46 H414.00 M406.00,398.98 V407.95 M402.50,398.98 H409.50 M402.50,407.95 H409.50"/></g>
<line x1="365.50" y1="367.40" x2="365.50" y2="450.00" stroke="#2b2b2b" stroke-width="1.1"/>
<line x1="365.00" y1="449.50" x2="420.00" y2="449.50" stroke="#2b2b2b" stroke-width="1.1"/>
<line x1="362.20" y1="446.50" x2="365.50" y2="446.50" stroke="#2b2b2b" stroke-width="1"/>
<text transform="translate(359.20,448.40)" font-size="6.9" text-anchor="end" font-weight="normal" fill="#3a3a3a">0</text>
<line x1="362.20" y1="430.50" x2="365.50" y2="430.50" stroke="#2b2b2b" stroke-width="1"/>
<text transform="translate(359.20,433.28)" font-size="6.9" text-anchor="end" font-weight="normal" fill="#3a3a3a">20</text>
<line x1="362.20" y1="415.50" x2="365.50" y2="415.50" stroke="#2b2b2b" stroke-width="1"/>
<text transform="translate(359.20,418.16)" font-size="6.9" text-anchor="end" font-weight="normal" fill="#3a3a3a">40</text>
<line x1="362.20" y1="400.50" x2="365.50" y2="400.50" stroke="#2b2b2b" stroke-width="1"/>
<text transform="translate(359.20,403.04)" font-size="6.9" text-anchor="end" font-weight="normal" fill="#3a3a3a">60</text>
<line x1="362.20" y1="385.50" x2="365.50" y2="385.50" stroke="#2b2b2b" stroke-width="1"/>
<text transform="translate(359.20,387.92)" font-size="6.9" text-anchor="end" font-weight="normal" fill="#3a3a3a">80</text>
<line x1="362.20" y1="370.50" x2="365.50" y2="370.50" stroke="#2b2b2b" stroke-width="1"/>
<text transform="translate(359.20,372.80)" font-size="6.9" text-anchor="end" font-weight="normal" fill="#3a3a3a">100</text>
<line x1="381.50" y1="449.50" x2="381.50" y2="452.50" stroke="#2b2b2b" stroke-width="1"/>
<line x1="406.50" y1="449.50" x2="406.50" y2="452.50" stroke="#2b2b2b" stroke-width="1"/>
<text transform="translate(381.70,461.60) scale(0.86,1)" font-size="7.4" text-anchor="middle" font-weight="normal" fill="#333" stroke="#333" stroke-width="0.06">Untrau</text>
<text transform="translate(406.60,461.60) scale(0.86,1)" font-size="7.4" text-anchor="middle" font-weight="normal" fill="#333" stroke="#333" stroke-width="0.06">Trau</text>
<text transform="translate(341.99,408.20) rotate(-90) scale(0.77,1)" font-size="8.0" text-anchor="middle" font-weight="normal" fill="#2e2e2e" stroke="#2e2e2e" stroke-width="0.2">Peak (nM)</text>
<path d="M381.70,404.80 L381.70,382.20 L406.60,382.20 L406.60,385.60" fill="none" stroke="#777" stroke-width="0.9"/>
<text x="393.50" y="379.90" font-size="6.6" text-anchor="middle" fill="#3a3a3a"><tspan font-style="italic">P</tspan> = .0002</text>
<circle cx="474.90" cy="399.70" r="1.85" fill="#1b4d7c" stroke="#0b2642" stroke-width="0.6"/>
<circle cx="471.00" cy="407.40" r="1.85" fill="#1b4d7c" stroke="#0b2642" stroke-width="0.6"/>
<circle cx="474.90" cy="408.80" r="1.85" fill="#1b4d7c" stroke="#0b2642" stroke-width="0.6"/>
<circle cx="478.90" cy="407.40" r="1.85" fill="#1b4d7c" stroke="#0b2642" stroke-width="0.6"/>
<circle cx="472.30" cy="411.40" r="1.85" fill="#1b4d7c" stroke="#0b2642" stroke-width="0.6"/>
<circle cx="476.90" cy="410.80" r="1.85" fill="#1b4d7c" stroke="#0b2642" stroke-width="0.6"/>
<circle cx="480.90" cy="413.40" r="1.85" fill="#1b4d7c" stroke="#0b2642" stroke-width="0.6"/>
<circle cx="468.30" cy="415.40" r="1.85" fill="#1b4d7c" stroke="#0b2642" stroke-width="0.6"/>
<circle cx="472.90" cy="415.40" r="1.85" fill="#1b4d7c" stroke="#0b2642" stroke-width="0.6"/>
<circle cx="477.60" cy="415.40" r="1.85" fill="#1b4d7c" stroke="#0b2642" stroke-width="0.6"/>
<circle cx="481.60" cy="414.70" r="1.85" fill="#1b4d7c" stroke="#0b2642" stroke-width="0.6"/>
<circle cx="470.30" cy="419.40" r="1.85" fill="#1b4d7c" stroke="#0b2642" stroke-width="0.6"/>
<circle cx="474.90" cy="419.40" r="1.85" fill="#1b4d7c" stroke="#0b2642" stroke-width="0.6"/>
<circle cx="478.90" cy="418.70" r="1.85" fill="#1b4d7c" stroke="#0b2642" stroke-width="0.6"/>
<circle cx="471.60" cy="420.70" r="1.85" fill="#1b4d7c" stroke="#0b2642" stroke-width="0.6"/>
<circle cx="500.80" cy="414.10" r="1.85" fill="#b01b3e" stroke="#6a0e24" stroke-width="0.6"/>
<circle cx="498.10" cy="417.40" r="1.85" fill="#b01b3e" stroke="#6a0e24" stroke-width="0.6"/>
<circle cx="502.10" cy="417.40" r="1.85" fill="#b01b3e" stroke="#6a0e24" stroke-width="0.6"/>
<circle cx="496.80" cy="420.70" r="1.85" fill="#b01b3e" stroke="#6a0e24" stroke-width="0.6"/>
<circle cx="493.50" cy="422.70" r="1.85" fill="#b01b3e" stroke="#6a0e24" stroke-width="0.6"/>
<circle cx="498.80" cy="423.40" r="1.85" fill="#b01b3e" stroke="#6a0e24" stroke-width="0.6"/>
<circle cx="506.80" cy="422.70" r="1.85" fill="#b01b3e" stroke="#6a0e24" stroke-width="0.6"/>
<circle cx="494.20" cy="424.70" r="1.85" fill="#b01b3e" stroke="#6a0e24" stroke-width="0.6"/>
<circle cx="500.80" cy="425.30" r="1.85" fill="#b01b3e" stroke="#6a0e24" stroke-width="0.6"/>
<circle cx="504.80" cy="425.30" r="1.85" fill="#b01b3e" stroke="#6a0e24" stroke-width="0.6"/>
<circle cx="496.80" cy="427.30" r="1.85" fill="#b01b3e" stroke="#6a0e24" stroke-width="0.6"/>
<circle cx="499.50" cy="429.30" r="1.85" fill="#b01b3e" stroke="#6a0e24" stroke-width="0.6"/>
<g stroke="#3a3a3a" stroke-width="0.8" opacity="0.7" fill="none"><path d="M467.06,413.20 H483.06 M475.06,409.88 V416.52 M471.56,409.88 H478.56 M471.56,416.52 H478.56"/></g>
<g stroke="#3a3a3a" stroke-width="0.8" opacity="0.7" fill="none"><path d="M491.42,422.53 H507.42 M499.42,419.98 V425.07 M495.92,419.98 H502.92 M495.92,425.07 H502.92"/></g>
<line x1="459.50" y1="367.80" x2="459.50" y2="450.00" stroke="#2b2b2b" stroke-width="1.1"/>
<line x1="459.00" y1="449.50" x2="514.00" y2="449.50" stroke="#2b2b2b" stroke-width="1.1"/>
<line x1="456.20" y1="446.50" x2="459.50" y2="446.50" stroke="#2b2b2b" stroke-width="1"/>
<text transform="translate(453.20,448.40)" font-size="6.9" text-anchor="end" font-weight="normal" fill="#3a3a3a">0</text>
<line x1="456.20" y1="430.50" x2="459.50" y2="430.50" stroke="#2b2b2b" stroke-width="1"/>
<text transform="translate(453.20,433.36)" font-size="6.9" text-anchor="end" font-weight="normal" fill="#3a3a3a">10</text>
<line x1="456.20" y1="415.50" x2="459.50" y2="415.50" stroke="#2b2b2b" stroke-width="1"/>
<text transform="translate(453.20,418.32)" font-size="6.9" text-anchor="end" font-weight="normal" fill="#3a3a3a">20</text>
<line x1="456.20" y1="400.50" x2="459.50" y2="400.50" stroke="#2b2b2b" stroke-width="1"/>
<text transform="translate(453.20,403.28)" font-size="6.9" text-anchor="end" font-weight="normal" fill="#3a3a3a">30</text>
<line x1="456.20" y1="385.50" x2="459.50" y2="385.50" stroke="#2b2b2b" stroke-width="1"/>
<text transform="translate(453.20,388.24)" font-size="6.9" text-anchor="end" font-weight="normal" fill="#3a3a3a">40</text>
<line x1="456.20" y1="370.50" x2="459.50" y2="370.50" stroke="#2b2b2b" stroke-width="1"/>
<text transform="translate(453.20,373.20)" font-size="6.9" text-anchor="end" font-weight="normal" fill="#3a3a3a">50</text>
<line x1="475.50" y1="449.50" x2="475.50" y2="452.50" stroke="#2b2b2b" stroke-width="1"/>
<line x1="500.50" y1="449.50" x2="500.50" y2="452.50" stroke="#2b2b2b" stroke-width="1"/>
<text transform="translate(475.60,461.60) scale(0.86,1)" font-size="7.4" text-anchor="middle" font-weight="normal" fill="#333" stroke="#333" stroke-width="0.06">Untrau</text>
<text transform="translate(500.20,461.60) scale(0.86,1)" font-size="7.4" text-anchor="middle" font-weight="normal" fill="#333" stroke="#333" stroke-width="0.06">Trau</text>
<text transform="translate(439.83,408.40) rotate(-90) scale(0.77,1)" font-size="8.0" text-anchor="middle" font-weight="normal" fill="#2e2e2e" stroke="#2e2e2e" stroke-width="0.2">Time to peak (min)</text>
<path d="M475.60,394.20 L475.60,391.50 L500.20,391.50 L500.20,408.80" fill="none" stroke="#777" stroke-width="0.9"/>
<text x="487.20" y="387.90" font-size="6.6" text-anchor="middle" fill="#3a3a3a"><tspan font-style="italic">P</tspan> < .0001</text>
<circle cx="183.70" cy="525.10" r="1.85" fill="#1b4d7c" stroke="#0b2642" stroke-width="0.6"/>
<circle cx="179.10" cy="527.00" r="1.85" fill="#1b4d7c" stroke="#0b2642" stroke-width="0.6"/>
<circle cx="183.70" cy="529.70" r="1.85" fill="#1b4d7c" stroke="#0b2642" stroke-width="0.6"/>
<circle cx="174.60" cy="533.60" r="1.85" fill="#1b4d7c" stroke="#0b2642" stroke-width="0.6"/>
<circle cx="183.10" cy="535.60" r="1.85" fill="#1b4d7c" stroke="#0b2642" stroke-width="0.6"/>
<circle cx="174.60" cy="538.20" r="1.85" fill="#1b4d7c" stroke="#0b2642" stroke-width="0.6"/>
<circle cx="179.10" cy="538.20" r="1.85" fill="#1b4d7c" stroke="#0b2642" stroke-width="0.6"/>
<circle cx="181.10" cy="542.80" r="1.85" fill="#1b4d7c" stroke="#0b2642" stroke-width="0.6"/>
<circle cx="174.60" cy="547.40" r="1.85" fill="#1b4d7c" stroke="#0b2642" stroke-width="0.6"/>
<circle cx="179.10" cy="548.00" r="1.85" fill="#1b4d7c" stroke="#0b2642" stroke-width="0.6"/>
<circle cx="183.70" cy="548.00" r="1.85" fill="#1b4d7c" stroke="#0b2642" stroke-width="0.6"/>
<circle cx="179.80" cy="551.90" r="1.85" fill="#1b4d7c" stroke="#0b2642" stroke-width="0.6"/>
<circle cx="187.70" cy="551.30" r="1.85" fill="#1b4d7c" stroke="#0b2642" stroke-width="0.6"/>
<circle cx="183.70" cy="555.20" r="1.85" fill="#1b4d7c" stroke="#0b2642" stroke-width="0.6"/>
<circle cx="181.10" cy="559.10" r="1.85" fill="#1b4d7c" stroke="#0b2642" stroke-width="0.6"/>
<circle cx="205.40" cy="548.70" r="1.85" fill="#b01b3e" stroke="#6a0e24" stroke-width="0.6"/>
<circle cx="207.30" cy="551.90" r="1.85" fill="#b01b3e" stroke="#6a0e24" stroke-width="0.6"/>
<circle cx="202.70" cy="553.90" r="1.85" fill="#b01b3e" stroke="#6a0e24" stroke-width="0.6"/>
<circle cx="209.90" cy="555.90" r="1.85" fill="#b01b3e" stroke="#6a0e24" stroke-width="0.6"/>
<circle cx="206.00" cy="560.50" r="1.85" fill="#b01b3e" stroke="#6a0e24" stroke-width="0.6"/>
<circle cx="200.10" cy="567.70" r="1.85" fill="#b01b3e" stroke="#6a0e24" stroke-width="0.6"/>
<circle cx="204.00" cy="568.30" r="1.85" fill="#b01b3e" stroke="#6a0e24" stroke-width="0.6"/>
<circle cx="208.60" cy="567.70" r="1.85" fill="#b01b3e" stroke="#6a0e24" stroke-width="0.6"/>
<circle cx="213.20" cy="567.70" r="1.85" fill="#b01b3e" stroke="#6a0e24" stroke-width="0.6"/>
<circle cx="202.10" cy="570.30" r="1.85" fill="#b01b3e" stroke="#6a0e24" stroke-width="0.6"/>
<circle cx="206.00" cy="570.90" r="1.85" fill="#b01b3e" stroke="#6a0e24" stroke-width="0.6"/>
<circle cx="205.40" cy="575.50" r="1.85" fill="#b01b3e" stroke="#6a0e24" stroke-width="0.6"/>
<circle cx="207.30" cy="577.50" r="1.85" fill="#b01b3e" stroke="#6a0e24" stroke-width="0.6"/>
<circle cx="204.70" cy="580.10" r="1.85" fill="#b01b3e" stroke="#6a0e24" stroke-width="0.6"/>
<g stroke="#3a3a3a" stroke-width="0.8" opacity="0.7" fill="none"><path d="M172.58,542.07 H188.58 M180.58,535.96 V548.18 M177.08,535.96 H184.08 M177.08,548.18 H184.08"/></g>
<g stroke="#3a3a3a" stroke-width="0.8" opacity="0.7" fill="none"><path d="M197.91,565.47 H213.91 M205.91,559.80 V571.14 M202.41,559.80 H209.41 M202.41,571.14 H209.41"/></g>
<line x1="165.50" y1="509.10" x2="165.50" y2="593.00" stroke="#2b2b2b" stroke-width="1.1"/>
<line x1="165.00" y1="592.50" x2="220.00" y2="592.50" stroke="#2b2b2b" stroke-width="1.1"/>
<line x1="162.20" y1="588.50" x2="165.50" y2="588.50" stroke="#2b2b2b" stroke-width="1"/>
<text transform="translate(159.20,591.20)" font-size="6.9" text-anchor="end" font-weight="normal" fill="#3a3a3a">0</text>
<line x1="162.20" y1="573.50" x2="165.50" y2="573.50" stroke="#2b2b2b" stroke-width="1"/>
<text transform="translate(159.20,575.86)" font-size="6.9" text-anchor="end" font-weight="normal" fill="#3a3a3a">10</text>
<line x1="162.20" y1="558.50" x2="165.50" y2="558.50" stroke="#2b2b2b" stroke-width="1"/>
<text transform="translate(159.20,560.52)" font-size="6.9" text-anchor="end" font-weight="normal" fill="#3a3a3a">20</text>
<line x1="162.20" y1="542.50" x2="165.50" y2="542.50" stroke="#2b2b2b" stroke-width="1"/>
<text transform="translate(159.20,545.18)" font-size="6.9" text-anchor="end" font-weight="normal" fill="#3a3a3a">30</text>
<line x1="162.20" y1="527.50" x2="165.50" y2="527.50" stroke="#2b2b2b" stroke-width="1"/>
<text transform="translate(159.20,529.84)" font-size="6.9" text-anchor="end" font-weight="normal" fill="#3a3a3a">40</text>
<line x1="162.20" y1="512.50" x2="165.50" y2="512.50" stroke="#2b2b2b" stroke-width="1"/>
<text transform="translate(159.20,514.50)" font-size="6.9" text-anchor="end" font-weight="normal" fill="#3a3a3a">50</text>
<line x1="181.50" y1="592.50" x2="181.50" y2="595.50" stroke="#2b2b2b" stroke-width="1"/>
<line x1="206.50" y1="592.50" x2="206.50" y2="595.50" stroke="#2b2b2b" stroke-width="1"/>
<text transform="translate(181.30,605.00) scale(0.86,1)" font-size="7.4" text-anchor="middle" font-weight="normal" fill="#333" stroke="#333" stroke-width="0.06">Untrau</text>
<text transform="translate(206.80,605.00) scale(0.86,1)" font-size="7.4" text-anchor="middle" font-weight="normal" fill="#333" stroke="#333" stroke-width="0.06">Trau</text>
<text transform="translate(145.83,550.45) rotate(-90) scale(0.77,1)" font-size="8.0" text-anchor="middle" font-weight="normal" fill="#2e2e2e" stroke="#2e2e2e" stroke-width="0.2">Lag time (min)</text>
<path d="M181.30,521.80 L181.30,519.40 L206.80,519.40 L206.80,542.10" fill="none" stroke="#777" stroke-width="0.9"/>
<text x="192.00" y="517.30" font-size="6.6" text-anchor="middle" fill="#3a3a3a"><tspan font-style="italic">P</tspan> < .0001</text>
<circle cx="282.50" cy="553.20" r="1.85" fill="#1b4d7c" stroke="#0b2642" stroke-width="0.6"/>
<circle cx="286.40" cy="553.20" r="1.85" fill="#1b4d7c" stroke="#0b2642" stroke-width="0.6"/>
<circle cx="284.40" cy="555.90" r="1.85" fill="#1b4d7c" stroke="#0b2642" stroke-width="0.6"/>
<circle cx="284.40" cy="560.50" r="1.85" fill="#1b4d7c" stroke="#0b2642" stroke-width="0.6"/>
<circle cx="279.80" cy="562.40" r="1.85" fill="#1b4d7c" stroke="#0b2642" stroke-width="0.6"/>
<circle cx="277.20" cy="565.00" r="1.85" fill="#1b4d7c" stroke="#0b2642" stroke-width="0.6"/>
<circle cx="281.80" cy="564.40" r="1.85" fill="#1b4d7c" stroke="#0b2642" stroke-width="0.6"/>
<circle cx="286.40" cy="563.70" r="1.85" fill="#1b4d7c" stroke="#0b2642" stroke-width="0.6"/>
<circle cx="289.70" cy="564.40" r="1.85" fill="#1b4d7c" stroke="#0b2642" stroke-width="0.6"/>
<circle cx="277.90" cy="567.70" r="1.85" fill="#1b4d7c" stroke="#0b2642" stroke-width="0.6"/>
<circle cx="282.50" cy="567.70" r="1.85" fill="#1b4d7c" stroke="#0b2642" stroke-width="0.6"/>
<circle cx="287.00" cy="567.70" r="1.85" fill="#1b4d7c" stroke="#0b2642" stroke-width="0.6"/>
<circle cx="283.10" cy="570.90" r="1.85" fill="#1b4d7c" stroke="#0b2642" stroke-width="0.6"/>
<circle cx="285.10" cy="570.30" r="1.85" fill="#1b4d7c" stroke="#0b2642" stroke-width="0.6"/>
<circle cx="281.80" cy="576.80" r="1.85" fill="#1b4d7c" stroke="#0b2642" stroke-width="0.6"/>
<circle cx="284.40" cy="575.50" r="1.85" fill="#1b4d7c" stroke="#0b2642" stroke-width="0.6"/>
<circle cx="308.00" cy="548.70" r="1.85" fill="#b01b3e" stroke="#6a0e24" stroke-width="0.6"/>
<circle cx="307.40" cy="554.60" r="1.85" fill="#b01b3e" stroke="#6a0e24" stroke-width="0.6"/>
<circle cx="308.00" cy="557.20" r="1.85" fill="#b01b3e" stroke="#6a0e24" stroke-width="0.6"/>
<circle cx="309.30" cy="560.50" r="1.85" fill="#b01b3e" stroke="#6a0e24" stroke-width="0.6"/>
<circle cx="307.40" cy="563.10" r="1.85" fill="#b01b3e" stroke="#6a0e24" stroke-width="0.6"/>
<circle cx="301.50" cy="565.70" r="1.85" fill="#b01b3e" stroke="#6a0e24" stroke-width="0.6"/>
<circle cx="305.40" cy="565.70" r="1.85" fill="#b01b3e" stroke="#6a0e24" stroke-width="0.6"/>
<circle cx="310.60" cy="565.70" r="1.85" fill="#b01b3e" stroke="#6a0e24" stroke-width="0.6"/>
<circle cx="314.60" cy="566.40" r="1.85" fill="#b01b3e" stroke="#6a0e24" stroke-width="0.6"/>
<circle cx="305.40" cy="568.30" r="1.85" fill="#b01b3e" stroke="#6a0e24" stroke-width="0.6"/>
<circle cx="309.30" cy="568.30" r="1.85" fill="#b01b3e" stroke="#6a0e24" stroke-width="0.6"/>
<circle cx="313.20" cy="567.70" r="1.85" fill="#b01b3e" stroke="#6a0e24" stroke-width="0.6"/>
<circle cx="308.00" cy="570.90" r="1.85" fill="#b01b3e" stroke="#6a0e24" stroke-width="0.6"/>
<circle cx="308.00" cy="578.80" r="1.85" fill="#b01b3e" stroke="#6a0e24" stroke-width="0.6"/>
<g stroke="#3a3a3a" stroke-width="0.8" opacity="0.7" fill="none"><path d="M275.40,564.96 H291.40 M283.40,560.92 V568.99 M279.90,560.92 H286.90 M279.90,568.99 H286.90"/></g>
<g stroke="#3a3a3a" stroke-width="0.8" opacity="0.7" fill="none"><path d="M300.29,564.40 H316.29 M308.29,560.12 V568.68 M304.79,560.12 H311.79 M304.79,568.68 H311.79"/></g>
<line x1="268.50" y1="510.40" x2="268.50" y2="593.00" stroke="#2b2b2b" stroke-width="1.1"/>
<line x1="268.00" y1="592.50" x2="322.00" y2="592.50" stroke="#2b2b2b" stroke-width="1.1"/>
<line x1="265.20" y1="588.50" x2="268.50" y2="588.50" stroke="#2b2b2b" stroke-width="1"/>
<text transform="translate(262.20,591.20)" font-size="6.9" text-anchor="end" font-weight="normal" fill="#3a3a3a">0</text>
<line x1="265.20" y1="573.50" x2="268.50" y2="573.50" stroke="#2b2b2b" stroke-width="1"/>
<text transform="translate(262.20,576.12)" font-size="6.9" text-anchor="end" font-weight="normal" fill="#3a3a3a">300</text>
<line x1="265.20" y1="558.50" x2="268.50" y2="558.50" stroke="#2b2b2b" stroke-width="1"/>
<text transform="translate(262.20,561.04)" font-size="6.9" text-anchor="end" font-weight="normal" fill="#3a3a3a">600</text>
<line x1="265.20" y1="543.50" x2="268.50" y2="543.50" stroke="#2b2b2b" stroke-width="1"/>
<text transform="translate(262.20,545.96)" font-size="6.9" text-anchor="end" font-weight="normal" fill="#3a3a3a">900</text>
<line x1="265.20" y1="528.50" x2="268.50" y2="528.50" stroke="#2b2b2b" stroke-width="1"/>
<text transform="translate(262.20,530.88)" font-size="6.9" text-anchor="end" font-weight="normal" fill="#3a3a3a">1200</text>
<line x1="265.20" y1="513.50" x2="268.50" y2="513.50" stroke="#2b2b2b" stroke-width="1"/>
<text transform="translate(262.20,515.80)" font-size="6.9" text-anchor="end" font-weight="normal" fill="#3a3a3a">1500</text>
<line x1="284.50" y1="592.50" x2="284.50" y2="595.50" stroke="#2b2b2b" stroke-width="1"/>
<line x1="309.50" y1="592.50" x2="309.50" y2="595.50" stroke="#2b2b2b" stroke-width="1"/>
<text transform="translate(284.60,605.00) scale(0.86,1)" font-size="7.4" text-anchor="middle" font-weight="normal" fill="#333" stroke="#333" stroke-width="0.06">Untrau</text>
<text transform="translate(309.50,605.00) scale(0.86,1)" font-size="7.4" text-anchor="middle" font-weight="normal" fill="#333" stroke="#333" stroke-width="0.06">Trau</text>
<text transform="translate(241.15,551.10) rotate(-90) scale(0.77,1)" font-size="8.0" text-anchor="middle" font-weight="normal" fill="#2e2e2e" stroke="#2e2e2e" stroke-width="0.2">ETP (nM min)</text>
<path d="M284.60,548.00 L284.60,539.90 L309.50,539.90 L309.50,544.30" fill="none" stroke="#777" stroke-width="0.9"/>
<text x="296.50" y="537.20" font-size="6.6" text-anchor="middle" fill="#3a3a3a"><tspan font-style="italic">P</tspan> = .9341</text>
<circle cx="378.80" cy="552.60" r="1.85" fill="#1b4d7c" stroke="#0b2642" stroke-width="0.6"/>
<circle cx="382.70" cy="555.90" r="1.85" fill="#1b4d7c" stroke="#0b2642" stroke-width="0.6"/>
<circle cx="378.80" cy="559.80" r="1.85" fill="#1b4d7c" stroke="#0b2642" stroke-width="0.6"/>
<circle cx="382.70" cy="563.70" r="1.85" fill="#1b4d7c" stroke="#0b2642" stroke-width="0.6"/>
<circle cx="386.00" cy="562.40" r="1.85" fill="#1b4d7c" stroke="#0b2642" stroke-width="0.6"/>
<circle cx="375.50" cy="567.70" r="1.85" fill="#1b4d7c" stroke="#0b2642" stroke-width="0.6"/>
<circle cx="380.10" cy="567.00" r="1.85" fill="#1b4d7c" stroke="#0b2642" stroke-width="0.6"/>
<circle cx="384.00" cy="568.30" r="1.85" fill="#1b4d7c" stroke="#0b2642" stroke-width="0.6"/>
<circle cx="388.60" cy="565.70" r="1.85" fill="#1b4d7c" stroke="#0b2642" stroke-width="0.6"/>
<circle cx="378.80" cy="570.90" r="1.85" fill="#1b4d7c" stroke="#0b2642" stroke-width="0.6"/>
<circle cx="382.70" cy="570.30" r="1.85" fill="#1b4d7c" stroke="#0b2642" stroke-width="0.6"/>
<circle cx="386.70" cy="569.60" r="1.85" fill="#1b4d7c" stroke="#0b2642" stroke-width="0.6"/>
<circle cx="389.30" cy="570.30" r="1.85" fill="#1b4d7c" stroke="#0b2642" stroke-width="0.6"/>
<circle cx="375.50" cy="574.20" r="1.85" fill="#1b4d7c" stroke="#0b2642" stroke-width="0.6"/>
<circle cx="381.40" cy="574.20" r="1.85" fill="#1b4d7c" stroke="#0b2642" stroke-width="0.6"/>
<circle cx="386.00" cy="573.60" r="1.85" fill="#1b4d7c" stroke="#0b2642" stroke-width="0.6"/>
<circle cx="388.60" cy="575.50" r="1.85" fill="#1b4d7c" stroke="#0b2642" stroke-width="0.6"/>
<circle cx="407.60" cy="535.60" r="1.85" fill="#b01b3e" stroke="#6a0e24" stroke-width="0.6"/>
<circle cx="407.60" cy="544.70" r="1.85" fill="#b01b3e" stroke="#6a0e24" stroke-width="0.6"/>
<circle cx="407.60" cy="555.20" r="1.85" fill="#b01b3e" stroke="#6a0e24" stroke-width="0.6"/>
<circle cx="401.10" cy="559.80" r="1.85" fill="#b01b3e" stroke="#6a0e24" stroke-width="0.6"/>
<circle cx="405.70" cy="559.80" r="1.85" fill="#b01b3e" stroke="#6a0e24" stroke-width="0.6"/>
<circle cx="409.60" cy="559.80" r="1.85" fill="#b01b3e" stroke="#6a0e24" stroke-width="0.6"/>
<circle cx="413.50" cy="563.10" r="1.85" fill="#b01b3e" stroke="#6a0e24" stroke-width="0.6"/>
<circle cx="401.10" cy="565.00" r="1.85" fill="#b01b3e" stroke="#6a0e24" stroke-width="0.6"/>
<circle cx="405.00" cy="566.40" r="1.85" fill="#b01b3e" stroke="#6a0e24" stroke-width="0.6"/>
<circle cx="408.90" cy="565.70" r="1.85" fill="#b01b3e" stroke="#6a0e24" stroke-width="0.6"/>
<circle cx="413.50" cy="567.70" r="1.85" fill="#b01b3e" stroke="#6a0e24" stroke-width="0.6"/>
<circle cx="401.70" cy="570.30" r="1.85" fill="#b01b3e" stroke="#6a0e24" stroke-width="0.6"/>
<circle cx="405.70" cy="571.60" r="1.85" fill="#b01b3e" stroke="#6a0e24" stroke-width="0.6"/>
<circle cx="409.60" cy="569.00" r="1.85" fill="#b01b3e" stroke="#6a0e24" stroke-width="0.6"/>
<circle cx="407.60" cy="578.20" r="1.85" fill="#b01b3e" stroke="#6a0e24" stroke-width="0.6"/>
<circle cx="407.60" cy="582.10" r="1.85" fill="#b01b3e" stroke="#6a0e24" stroke-width="0.6"/>
<g stroke="#3a3a3a" stroke-width="0.8" opacity="0.7" fill="none"><path d="M374.72,567.16 H390.72 M382.72,563.36 V570.96 M379.22,563.36 H386.22 M379.22,570.96 H386.22"/></g>
<g stroke="#3a3a3a" stroke-width="0.8" opacity="0.7" fill="none"><path d="M399.09,563.38 H415.09 M407.09,556.70 V570.05 M403.59,556.70 H410.59 M403.59,570.05 H410.59"/></g>
<line x1="365.50" y1="509.10" x2="365.50" y2="593.00" stroke="#2b2b2b" stroke-width="1.1"/>
<line x1="365.00" y1="592.50" x2="420.00" y2="592.50" stroke="#2b2b2b" stroke-width="1.1"/>
<line x1="362.20" y1="588.50" x2="365.50" y2="588.50" stroke="#2b2b2b" stroke-width="1"/>
<text transform="translate(359.20,591.20)" font-size="6.9" text-anchor="end" font-weight="normal" fill="#3a3a3a">0</text>
<line x1="362.20" y1="573.50" x2="365.50" y2="573.50" stroke="#2b2b2b" stroke-width="1"/>
<text transform="translate(359.20,575.86)" font-size="6.9" text-anchor="end" font-weight="normal" fill="#3a3a3a">30</text>
<line x1="362.20" y1="558.50" x2="365.50" y2="558.50" stroke="#2b2b2b" stroke-width="1"/>
<text transform="translate(359.20,560.52)" font-size="6.9" text-anchor="end" font-weight="normal" fill="#3a3a3a">60</text>
<line x1="362.20" y1="542.50" x2="365.50" y2="542.50" stroke="#2b2b2b" stroke-width="1"/>
<text transform="translate(359.20,545.18)" font-size="6.9" text-anchor="end" font-weight="normal" fill="#3a3a3a">90</text>
<line x1="362.20" y1="527.50" x2="365.50" y2="527.50" stroke="#2b2b2b" stroke-width="1"/>
<text transform="translate(359.20,529.84)" font-size="6.9" text-anchor="end" font-weight="normal" fill="#3a3a3a">120</text>
<line x1="362.20" y1="512.50" x2="365.50" y2="512.50" stroke="#2b2b2b" stroke-width="1"/>
<text transform="translate(359.20,514.50)" font-size="6.9" text-anchor="end" font-weight="normal" fill="#3a3a3a">150</text>
<line x1="381.50" y1="592.50" x2="381.50" y2="595.50" stroke="#2b2b2b" stroke-width="1"/>
<line x1="406.50" y1="592.50" x2="406.50" y2="595.50" stroke="#2b2b2b" stroke-width="1"/>
<text transform="translate(381.70,605.00) scale(0.86,1)" font-size="7.4" text-anchor="middle" font-weight="normal" fill="#333" stroke="#333" stroke-width="0.06">Untrau</text>
<text transform="translate(406.60,605.00) scale(0.86,1)" font-size="7.4" text-anchor="middle" font-weight="normal" fill="#333" stroke="#333" stroke-width="0.06">Trau</text>
<text transform="translate(341.99,550.45) rotate(-90) scale(0.77,1)" font-size="8.0" text-anchor="middle" font-weight="normal" fill="#2e2e2e" stroke="#2e2e2e" stroke-width="0.2">Peak (nM)</text>
<path d="M381.70,548.70 L381.70,525.70 L406.60,525.70 L406.60,529.70" fill="none" stroke="#777" stroke-width="0.9"/>
<text x="395.60" y="523.80" font-size="6.6" text-anchor="middle" fill="#3a3a3a"><tspan font-style="italic">P</tspan> = .4212</text>
<circle cx="473.50" cy="528.30" r="1.85" fill="#1b4d7c" stroke="#0b2642" stroke-width="0.6"/>
<circle cx="477.40" cy="529.00" r="1.85" fill="#1b4d7c" stroke="#0b2642" stroke-width="0.6"/>
<circle cx="475.40" cy="534.90" r="1.85" fill="#1b4d7c" stroke="#0b2642" stroke-width="0.6"/>
<circle cx="479.30" cy="537.50" r="1.85" fill="#1b4d7c" stroke="#0b2642" stroke-width="0.6"/>
<circle cx="469.50" cy="540.10" r="1.85" fill="#1b4d7c" stroke="#0b2642" stroke-width="0.6"/>
<circle cx="473.50" cy="540.10" r="1.85" fill="#1b4d7c" stroke="#0b2642" stroke-width="0.6"/>
<circle cx="478.00" cy="540.80" r="1.85" fill="#1b4d7c" stroke="#0b2642" stroke-width="0.6"/>
<circle cx="482.00" cy="540.80" r="1.85" fill="#1b4d7c" stroke="#0b2642" stroke-width="0.6"/>
<circle cx="468.90" cy="544.70" r="1.85" fill="#1b4d7c" stroke="#0b2642" stroke-width="0.6"/>
<circle cx="473.50" cy="545.40" r="1.85" fill="#1b4d7c" stroke="#0b2642" stroke-width="0.6"/>
<circle cx="478.00" cy="545.40" r="1.85" fill="#1b4d7c" stroke="#0b2642" stroke-width="0.6"/>
<circle cx="482.00" cy="544.70" r="1.85" fill="#1b4d7c" stroke="#0b2642" stroke-width="0.6"/>
<circle cx="472.10" cy="548.00" r="1.85" fill="#1b4d7c" stroke="#0b2642" stroke-width="0.6"/>
<circle cx="479.30" cy="550.00" r="1.85" fill="#1b4d7c" stroke="#0b2642" stroke-width="0.6"/>
<circle cx="475.40" cy="551.90" r="1.85" fill="#1b4d7c" stroke="#0b2642" stroke-width="0.6"/>
<circle cx="475.40" cy="557.80" r="1.85" fill="#1b4d7c" stroke="#0b2642" stroke-width="0.6"/>
<circle cx="494.40" cy="539.50" r="1.85" fill="#b01b3e" stroke="#6a0e24" stroke-width="0.6"/>
<circle cx="501.00" cy="544.70" r="1.85" fill="#b01b3e" stroke="#6a0e24" stroke-width="0.6"/>
<circle cx="506.90" cy="542.80" r="1.85" fill="#b01b3e" stroke="#6a0e24" stroke-width="0.6"/>
<circle cx="501.00" cy="548.70" r="1.85" fill="#b01b3e" stroke="#6a0e24" stroke-width="0.6"/>
<circle cx="506.90" cy="546.70" r="1.85" fill="#b01b3e" stroke="#6a0e24" stroke-width="0.6"/>
<circle cx="506.90" cy="553.90" r="1.85" fill="#b01b3e" stroke="#6a0e24" stroke-width="0.6"/>
<circle cx="494.40" cy="555.90" r="1.85" fill="#b01b3e" stroke="#6a0e24" stroke-width="0.6"/>
<circle cx="501.00" cy="557.20" r="1.85" fill="#b01b3e" stroke="#6a0e24" stroke-width="0.6"/>
<circle cx="494.40" cy="560.50" r="1.85" fill="#b01b3e" stroke="#6a0e24" stroke-width="0.6"/>
<circle cx="501.00" cy="562.40" r="1.85" fill="#b01b3e" stroke="#6a0e24" stroke-width="0.6"/>
<circle cx="506.90" cy="560.50" r="1.85" fill="#b01b3e" stroke="#6a0e24" stroke-width="0.6"/>
<circle cx="494.40" cy="565.70" r="1.85" fill="#b01b3e" stroke="#6a0e24" stroke-width="0.6"/>
<circle cx="500.30" cy="567.70" r="1.85" fill="#b01b3e" stroke="#6a0e24" stroke-width="0.6"/>
<circle cx="506.90" cy="566.40" r="1.85" fill="#b01b3e" stroke="#6a0e24" stroke-width="0.6"/>
<circle cx="501.00" cy="575.50" r="1.85" fill="#b01b3e" stroke="#6a0e24" stroke-width="0.6"/>
<g stroke="#3a3a3a" stroke-width="0.8" opacity="0.7" fill="none"><path d="M467.82,542.46 H483.82 M475.82,537.91 V547.01 M472.32,537.91 H479.32 M472.32,547.01 H479.32"/></g>
<g stroke="#3a3a3a" stroke-width="0.8" opacity="0.7" fill="none"><path d="M493.16,556.54 H509.16 M501.16,550.51 V562.57 M497.66,550.51 H504.66 M497.66,562.57 H504.66"/></g>
<line x1="459.50" y1="509.10" x2="459.50" y2="593.00" stroke="#2b2b2b" stroke-width="1.1"/>
<line x1="459.00" y1="592.50" x2="514.00" y2="592.50" stroke="#2b2b2b" stroke-width="1.1"/>
<line x1="456.20" y1="588.50" x2="459.50" y2="588.50" stroke="#2b2b2b" stroke-width="1"/>
<text transform="translate(453.20,591.20)" font-size="6.9" text-anchor="end" font-weight="normal" fill="#3a3a3a">0</text>
<line x1="456.20" y1="573.50" x2="459.50" y2="573.50" stroke="#2b2b2b" stroke-width="1"/>
<text transform="translate(453.20,575.86)" font-size="6.9" text-anchor="end" font-weight="normal" fill="#3a3a3a">10</text>
<line x1="456.20" y1="558.50" x2="459.50" y2="558.50" stroke="#2b2b2b" stroke-width="1"/>
<text transform="translate(453.20,560.52)" font-size="6.9" text-anchor="end" font-weight="normal" fill="#3a3a3a">20</text>
<line x1="456.20" y1="542.50" x2="459.50" y2="542.50" stroke="#2b2b2b" stroke-width="1"/>
<text transform="translate(453.20,545.18)" font-size="6.9" text-anchor="end" font-weight="normal" fill="#3a3a3a">30</text>
<line x1="456.20" y1="527.50" x2="459.50" y2="527.50" stroke="#2b2b2b" stroke-width="1"/>
<text transform="translate(453.20,529.84)" font-size="6.9" text-anchor="end" font-weight="normal" fill="#3a3a3a">40</text>
<line x1="456.20" y1="512.50" x2="459.50" y2="512.50" stroke="#2b2b2b" stroke-width="1"/>
<text transform="translate(453.20,514.50)" font-size="6.9" text-anchor="end" font-weight="normal" fill="#3a3a3a">50</text>
<line x1="475.50" y1="592.50" x2="475.50" y2="595.50" stroke="#2b2b2b" stroke-width="1"/>
<line x1="500.50" y1="592.50" x2="500.50" y2="595.50" stroke="#2b2b2b" stroke-width="1"/>
<text transform="translate(475.60,605.00) scale(0.86,1)" font-size="7.4" text-anchor="middle" font-weight="normal" fill="#333" stroke="#333" stroke-width="0.06">Untrau</text>
<text transform="translate(500.20,605.00) scale(0.86,1)" font-size="7.4" text-anchor="middle" font-weight="normal" fill="#333" stroke="#333" stroke-width="0.06">Trau</text>
<text transform="translate(439.83,550.45) rotate(-90) scale(0.77,1)" font-size="8.0" text-anchor="middle" font-weight="normal" fill="#2e2e2e" stroke="#2e2e2e" stroke-width="0.2">Time to peak (min)</text>
<path d="M475.60,524.40 L475.60,519.80 L500.20,519.80 L500.20,538.80" fill="none" stroke="#777" stroke-width="0.9"/>
<text x="487.00" y="517.50" font-size="6.6" text-anchor="middle" fill="#3a3a3a"><tspan font-style="italic">P</tspan> < .0001</text>
<rect x="0.7" y="0.7" width="518.6" height="624.6" fill="none" stroke="#505050" stroke-width="1.4"/>
</svg>
</body></html>
